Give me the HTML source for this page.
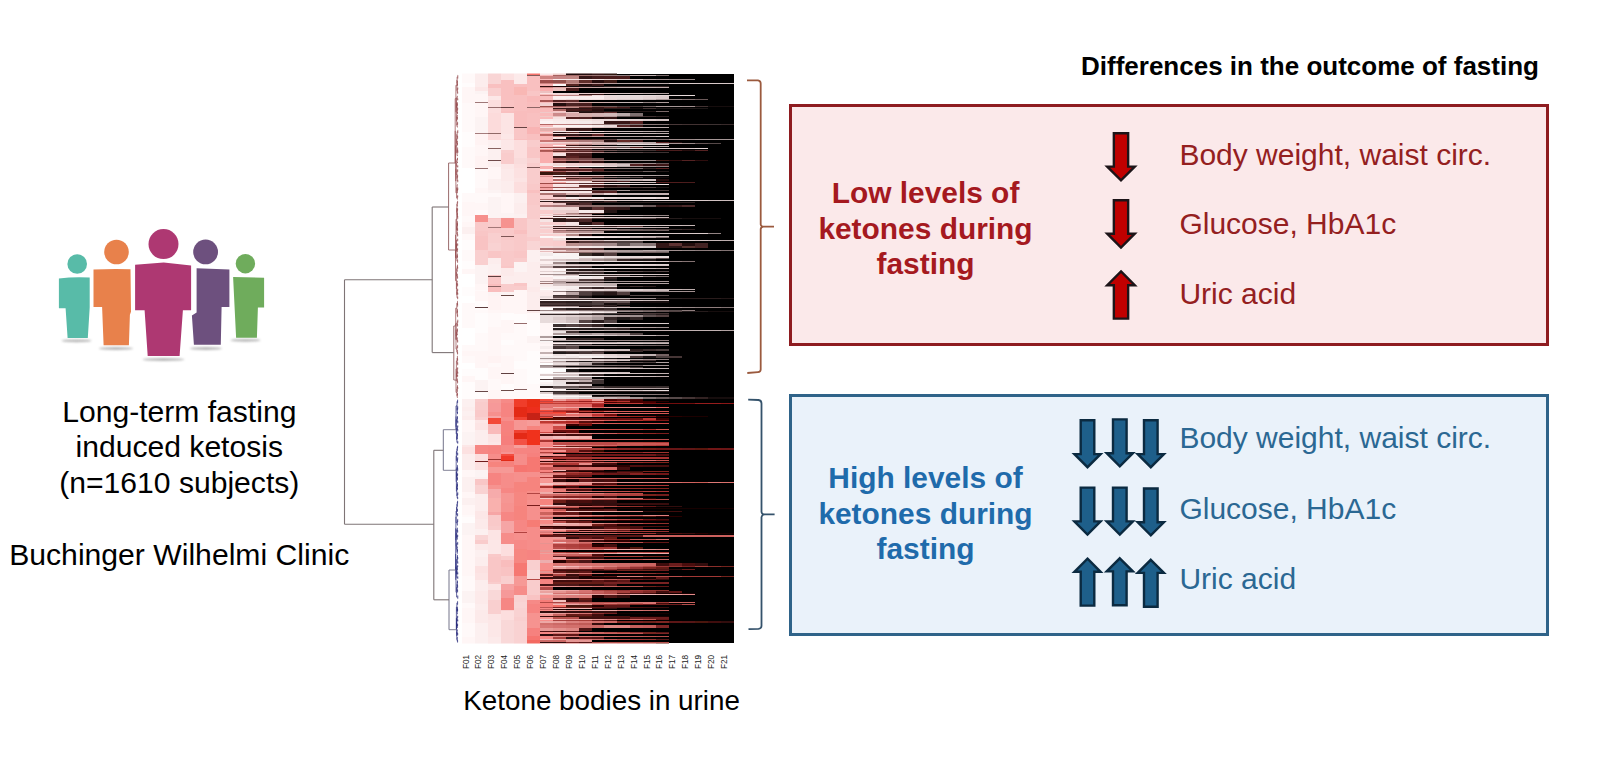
<!DOCTYPE html>
<html><head><meta charset="utf-8"><title>Ketone bodies in urine</title>
<style>
html,body{margin:0;padding:0;background:#fff;}
body{width:1618px;height:767px;overflow:hidden;}
svg{display:block;}
text{font-family:"Liberation Sans",Arial,Helvetica,sans-serif;}
</style></head><body>
<svg width="1618" height="767" viewBox="0 0 1618 767">
<rect x="0" y="0" width="1618" height="767" fill="#fff"/>
<!-- people -->
<g id="people">
<defs><filter id="blur1" x="-20%" y="-200%" width="140%" height="500%"><feGaussianBlur stdDeviation="1.1"/></filter></defs>
<ellipse cx="76.5" cy="340.8" rx="15" ry="1.4" fill="#9a9a9a" filter="url(#blur1)" opacity="0.7"/>
<ellipse cx="116" cy="348.5" rx="17" ry="1.4" fill="#9a9a9a" filter="url(#blur1)" opacity="0.7"/>
<ellipse cx="163.5" cy="359.5" rx="21" ry="1.5" fill="#9a9a9a" filter="url(#blur1)" opacity="0.7"/>
<ellipse cx="206" cy="348.5" rx="16" ry="1.4" fill="#9a9a9a" filter="url(#blur1)" opacity="0.7"/>
<ellipse cx="245.5" cy="340.3" rx="15" ry="1.4" fill="#9a9a9a" filter="url(#blur1)" opacity="0.7"/>
<!-- teal -->
<circle cx="77.2" cy="264" r="9.8" fill="#58bba8"/>
<path d="M58.9 278.6 Q74 276.6 89.7 277.6 L89.7 307.5 L87.8 338.1 L67.6 338.1 L65.6 308.2 L58.9 308.2 Z" fill="#58bba8"/>
<!-- orange -->
<circle cx="116.5" cy="252" r="12.3" fill="#e8814b"/>
<path d="M93.5 269.5 Q112 268.6 130.5 269.2 L131 311.7 L129.9 314.8 L128.9 345.3 L103.6 345.3 L102.1 307 L93.5 307 Z" fill="#e8814b"/>
<!-- magenta -->
<circle cx="163.5" cy="244.1" r="15" fill="#ae3872"/>
<path d="M135.1 264.7 L163.7 262.4 L191.1 265.5 L191.1 310.3 L182.9 310.3 L179.6 355.9 L147.7 355.9 L144.6 310.3 L135.1 310.3 Z" fill="#ae3872"/>
<!-- purple -->
<circle cx="205.6" cy="251.9" r="12.4" fill="#6d507e"/>
<path d="M196.6 268.3 L229.4 269.5 L229.4 307 L221.6 307 L220.8 344.8 L193.9 344.8 L191.9 315.6 L196.6 312.5 Z" fill="#6d507e"/>
<!-- green -->
<circle cx="245.4" cy="263.7" r="9.7" fill="#6fac5c"/>
<path d="M233.1 276.9 L264.1 277.8 L264.1 307.5 L257.9 307.5 L256.9 337.7 L236.1 337.7 Z" fill="#6fac5c"/>
</g>
<!-- left text -->
<g font-size="30.1" fill="#000" text-anchor="middle">
<text x="179.3" y="421.7">Long-term fasting</text>
<text x="179.3" y="457.3">induced ketosis</text>
<text x="179.3" y="492.9">(n=1610 subjects)</text>
</g>
<text x="9.2" y="564.7" font-size="30.15" fill="#000">Buchinger Wilhelmi Clinic</text>
<text x="463.3" y="709.5" font-size="27.8" fill="#000">Ketone bodies in urine</text>
<!-- dendrogram -->
<g id="dendro" fill="none" stroke-width="1.1">
<path d="M457.8 75.2 L458.0 75.2" stroke="#93474a" stroke-width="0.70"/>
<path d="M457.8 78.5 L458.0 78.5" stroke="#93474a" stroke-width="0.70"/>
<path d="M457.8 75.2 L457.8 78.5" stroke="#93474a" stroke-width="0.70"/>
<path d="M457.5 83.9 L458.0 83.9" stroke="#93474a" stroke-width="0.70"/>
<path d="M457.5 85.7 L458.0 85.7" stroke="#93474a" stroke-width="0.70"/>
<path d="M457.5 83.9 L457.5 85.7" stroke="#93474a" stroke-width="0.70"/>
<path d="M457.3 81.5 L458.0 81.5" stroke="#93474a" stroke-width="0.70"/>
<path d="M457.3 84.8 L457.5 84.8" stroke="#93474a" stroke-width="0.70"/>
<path d="M457.3 81.5 L457.3 84.8" stroke="#93474a" stroke-width="0.70"/>
<path d="M457.1 76.9 L457.8 76.9" stroke="#93474a" stroke-width="0.70"/>
<path d="M457.1 83.2 L457.3 83.2" stroke="#93474a" stroke-width="0.70"/>
<path d="M457.1 76.9 L457.1 83.2" stroke="#93474a" stroke-width="0.70"/>
<path d="M457.8 87.5 L458.0 87.5" stroke="#93474a" stroke-width="0.70"/>
<path d="M457.8 89.6 L458.0 89.6" stroke="#93474a" stroke-width="0.70"/>
<path d="M457.8 87.5 L457.8 89.6" stroke="#93474a" stroke-width="0.70"/>
<path d="M457.7 91.6 L458.0 91.6" stroke="#93474a" stroke-width="0.70"/>
<path d="M457.7 93.7 L458.0 93.7" stroke="#93474a" stroke-width="0.70"/>
<path d="M457.7 91.6 L457.7 93.7" stroke="#93474a" stroke-width="0.70"/>
<path d="M457.3 88.6 L457.8 88.6" stroke="#93474a" stroke-width="0.70"/>
<path d="M457.3 92.6 L457.7 92.6" stroke="#93474a" stroke-width="0.70"/>
<path d="M457.3 88.6 L457.3 92.6" stroke="#93474a" stroke-width="0.70"/>
<path d="M456.9 80.0 L457.1 80.0" stroke="#93474a" stroke-width="0.70"/>
<path d="M456.9 90.6 L457.3 90.6" stroke="#93474a" stroke-width="0.70"/>
<path d="M456.9 80.0 L456.9 90.6" stroke="#93474a" stroke-width="0.70"/>
<path d="M457.8 98.5 L458.0 98.5" stroke="#93474a" stroke-width="0.70"/>
<path d="M457.8 100.3 L458.0 100.3" stroke="#93474a" stroke-width="0.70"/>
<path d="M457.8 98.5 L457.8 100.3" stroke="#93474a" stroke-width="0.70"/>
<path d="M457.2 96.3 L458.0 96.3" stroke="#93474a" stroke-width="0.70"/>
<path d="M457.2 99.4 L457.8 99.4" stroke="#93474a" stroke-width="0.70"/>
<path d="M457.2 96.3 L457.2 99.4" stroke="#93474a" stroke-width="0.70"/>
<path d="M457.5 102.6 L458.0 102.6" stroke="#93474a" stroke-width="0.70"/>
<path d="M457.5 105.5 L458.0 105.5" stroke="#93474a" stroke-width="0.70"/>
<path d="M457.5 102.6 L457.5 105.5" stroke="#93474a" stroke-width="0.70"/>
<path d="M457.7 107.8 L458.0 107.8" stroke="#93474a" stroke-width="0.70"/>
<path d="M457.7 109.7 L458.0 109.7" stroke="#93474a" stroke-width="0.70"/>
<path d="M457.7 107.8 L457.7 109.7" stroke="#93474a" stroke-width="0.70"/>
<path d="M457.5 112.1 L458.0 112.1" stroke="#93474a" stroke-width="0.70"/>
<path d="M457.5 113.9 L458.0 113.9" stroke="#93474a" stroke-width="0.70"/>
<path d="M457.5 112.1 L457.5 113.9" stroke="#93474a" stroke-width="0.70"/>
<path d="M457.2 108.7 L457.7 108.7" stroke="#93474a" stroke-width="0.70"/>
<path d="M457.2 113.0 L457.5 113.0" stroke="#93474a" stroke-width="0.70"/>
<path d="M457.2 108.7 L457.2 113.0" stroke="#93474a" stroke-width="0.70"/>
<path d="M457.1 104.1 L457.5 104.1" stroke="#93474a" stroke-width="0.70"/>
<path d="M457.1 110.9 L457.2 110.9" stroke="#93474a" stroke-width="0.70"/>
<path d="M457.1 104.1 L457.1 110.9" stroke="#93474a" stroke-width="0.70"/>
<path d="M456.5 97.8 L457.2 97.8" stroke="#93474a" stroke-width="0.70"/>
<path d="M456.5 107.5 L457.1 107.5" stroke="#93474a" stroke-width="0.70"/>
<path d="M456.5 97.8 L456.5 107.5" stroke="#93474a" stroke-width="0.70"/>
<path d="M457.5 117.4 L458.0 117.4" stroke="#93474a" stroke-width="0.70"/>
<path d="M457.5 119.4 L458.0 119.4" stroke="#93474a" stroke-width="0.70"/>
<path d="M457.5 117.4 L457.5 119.4" stroke="#93474a" stroke-width="0.70"/>
<path d="M457.2 115.5 L458.0 115.5" stroke="#93474a" stroke-width="0.70"/>
<path d="M457.2 118.4 L457.5 118.4" stroke="#93474a" stroke-width="0.70"/>
<path d="M457.2 115.5 L457.2 118.4" stroke="#93474a" stroke-width="0.70"/>
<path d="M457.6 122.1 L458.0 122.1" stroke="#93474a" stroke-width="0.70"/>
<path d="M457.6 124.6 L458.0 124.6" stroke="#93474a" stroke-width="0.70"/>
<path d="M457.6 122.1 L457.6 124.6" stroke="#93474a" stroke-width="0.70"/>
<path d="M457.1 123.4 L457.6 123.4" stroke="#93474a" stroke-width="0.70"/>
<path d="M457.1 127.0 L458.0 127.0" stroke="#93474a" stroke-width="0.70"/>
<path d="M457.1 123.4 L457.1 127.0" stroke="#93474a" stroke-width="0.70"/>
<path d="M456.7 116.9 L457.2 116.9" stroke="#93474a" stroke-width="0.70"/>
<path d="M456.7 125.2 L457.1 125.2" stroke="#93474a" stroke-width="0.70"/>
<path d="M456.7 116.9 L456.7 125.2" stroke="#93474a" stroke-width="0.70"/>
<path d="M456.4 102.7 L456.5 102.7" stroke="#93474a" stroke-width="0.70"/>
<path d="M456.4 121.1 L456.7 121.1" stroke="#93474a" stroke-width="0.70"/>
<path d="M456.4 102.7 L456.4 121.1" stroke="#93474a" stroke-width="0.70"/>
<path d="M455.9 85.3 L456.9 85.3" stroke="#93474a" stroke-width="0.70"/>
<path d="M455.9 111.9 L456.4 111.9" stroke="#93474a" stroke-width="0.70"/>
<path d="M455.9 85.3 L455.9 111.9" stroke="#93474a" stroke-width="0.70"/>
<path d="M457.8 130.2 L458.0 130.2" stroke="#93474a" stroke-width="0.70"/>
<path d="M457.8 133.1 L458.0 133.1" stroke="#93474a" stroke-width="0.70"/>
<path d="M457.8 130.2 L457.8 133.1" stroke="#93474a" stroke-width="0.70"/>
<path d="M457.6 135.9 L458.0 135.9" stroke="#93474a" stroke-width="0.70"/>
<path d="M457.6 138.9 L458.0 138.9" stroke="#93474a" stroke-width="0.70"/>
<path d="M457.6 135.9 L457.6 138.9" stroke="#93474a" stroke-width="0.70"/>
<path d="M457.1 131.7 L457.8 131.7" stroke="#93474a" stroke-width="0.70"/>
<path d="M457.1 137.4 L457.6 137.4" stroke="#93474a" stroke-width="0.70"/>
<path d="M457.1 131.7 L457.1 137.4" stroke="#93474a" stroke-width="0.70"/>
<path d="M457.5 143.1 L458.0 143.1" stroke="#93474a" stroke-width="0.70"/>
<path d="M457.5 145.2 L458.0 145.2" stroke="#93474a" stroke-width="0.70"/>
<path d="M457.5 143.1 L457.5 145.2" stroke="#93474a" stroke-width="0.70"/>
<path d="M457.2 141.4 L458.0 141.4" stroke="#93474a" stroke-width="0.70"/>
<path d="M457.2 144.2 L457.5 144.2" stroke="#93474a" stroke-width="0.70"/>
<path d="M457.2 141.4 L457.2 144.2" stroke="#93474a" stroke-width="0.70"/>
<path d="M456.7 134.5 L457.1 134.5" stroke="#93474a" stroke-width="0.70"/>
<path d="M456.7 142.8 L457.2 142.8" stroke="#93474a" stroke-width="0.70"/>
<path d="M456.7 134.5 L456.7 142.8" stroke="#93474a" stroke-width="0.70"/>
<path d="M457.8 150.5 L458.0 150.5" stroke="#93474a" stroke-width="0.70"/>
<path d="M457.8 153.0 L458.0 153.0" stroke="#93474a" stroke-width="0.70"/>
<path d="M457.8 150.5 L457.8 153.0" stroke="#93474a" stroke-width="0.70"/>
<path d="M457.6 147.7 L458.0 147.7" stroke="#93474a" stroke-width="0.70"/>
<path d="M457.6 151.8 L457.8 151.8" stroke="#93474a" stroke-width="0.70"/>
<path d="M457.6 147.7 L457.6 151.8" stroke="#93474a" stroke-width="0.70"/>
<path d="M457.1 149.7 L457.6 149.7" stroke="#93474a" stroke-width="0.70"/>
<path d="M457.1 155.6 L458.0 155.6" stroke="#93474a" stroke-width="0.70"/>
<path d="M457.1 149.7 L457.1 155.6" stroke="#93474a" stroke-width="0.70"/>
<path d="M456.6 138.6 L456.7 138.6" stroke="#93474a" stroke-width="0.70"/>
<path d="M456.6 152.7 L457.1 152.7" stroke="#93474a" stroke-width="0.70"/>
<path d="M456.6 138.6 L456.6 152.7" stroke="#93474a" stroke-width="0.70"/>
<path d="M457.5 158.0 L458.0 158.0" stroke="#93474a" stroke-width="0.70"/>
<path d="M457.5 159.9 L458.0 159.9" stroke="#93474a" stroke-width="0.70"/>
<path d="M457.5 158.0 L457.5 159.9" stroke="#93474a" stroke-width="0.70"/>
<path d="M457.0 158.9 L457.5 158.9" stroke="#93474a" stroke-width="0.70"/>
<path d="M457.0 162.5 L458.0 162.5" stroke="#93474a" stroke-width="0.70"/>
<path d="M457.0 158.9 L457.0 162.5" stroke="#93474a" stroke-width="0.70"/>
<path d="M457.8 165.4 L458.0 165.4" stroke="#93474a" stroke-width="0.70"/>
<path d="M457.8 167.4 L458.0 167.4" stroke="#93474a" stroke-width="0.70"/>
<path d="M457.8 165.4 L457.8 167.4" stroke="#93474a" stroke-width="0.70"/>
<path d="M456.7 160.7 L457.0 160.7" stroke="#93474a" stroke-width="0.70"/>
<path d="M456.7 166.4 L457.8 166.4" stroke="#93474a" stroke-width="0.70"/>
<path d="M456.7 160.7 L456.7 166.4" stroke="#93474a" stroke-width="0.70"/>
<path d="M457.7 169.4 L458.0 169.4" stroke="#93474a" stroke-width="0.70"/>
<path d="M457.7 171.9 L458.0 171.9" stroke="#93474a" stroke-width="0.70"/>
<path d="M457.7 169.4 L457.7 171.9" stroke="#93474a" stroke-width="0.70"/>
<path d="M457.6 174.8 L458.0 174.8" stroke="#93474a" stroke-width="0.70"/>
<path d="M457.6 177.4 L458.0 177.4" stroke="#93474a" stroke-width="0.70"/>
<path d="M457.6 174.8 L457.6 177.4" stroke="#93474a" stroke-width="0.70"/>
<path d="M457.8 179.8 L458.0 179.8" stroke="#93474a" stroke-width="0.70"/>
<path d="M457.8 182.2 L458.0 182.2" stroke="#93474a" stroke-width="0.70"/>
<path d="M457.8 179.8 L457.8 182.2" stroke="#93474a" stroke-width="0.70"/>
<path d="M457.2 176.1 L457.6 176.1" stroke="#93474a" stroke-width="0.70"/>
<path d="M457.2 181.0 L457.8 181.0" stroke="#93474a" stroke-width="0.70"/>
<path d="M457.2 176.1 L457.2 181.0" stroke="#93474a" stroke-width="0.70"/>
<path d="M456.9 170.6 L457.7 170.6" stroke="#93474a" stroke-width="0.70"/>
<path d="M456.9 178.5 L457.2 178.5" stroke="#93474a" stroke-width="0.70"/>
<path d="M456.9 170.6 L456.9 178.5" stroke="#93474a" stroke-width="0.70"/>
<path d="M456.2 163.6 L456.7 163.6" stroke="#93474a" stroke-width="0.70"/>
<path d="M456.2 174.6 L456.9 174.6" stroke="#93474a" stroke-width="0.70"/>
<path d="M456.2 163.6 L456.2 174.6" stroke="#93474a" stroke-width="0.70"/>
<path d="M457.8 187.6 L458.0 187.6" stroke="#93474a" stroke-width="0.70"/>
<path d="M457.8 190.1 L458.0 190.1" stroke="#93474a" stroke-width="0.70"/>
<path d="M457.8 187.6 L457.8 190.1" stroke="#93474a" stroke-width="0.70"/>
<path d="M457.4 188.8 L457.8 188.8" stroke="#93474a" stroke-width="0.70"/>
<path d="M457.4 192.8 L458.0 192.8" stroke="#93474a" stroke-width="0.70"/>
<path d="M457.4 188.8 L457.4 192.8" stroke="#93474a" stroke-width="0.70"/>
<path d="M457.1 184.8 L458.0 184.8" stroke="#93474a" stroke-width="0.70"/>
<path d="M457.1 190.8 L457.4 190.8" stroke="#93474a" stroke-width="0.70"/>
<path d="M457.1 184.8 L457.1 190.8" stroke="#93474a" stroke-width="0.70"/>
<path d="M457.7 195.4 L458.0 195.4" stroke="#93474a" stroke-width="0.70"/>
<path d="M457.7 197.4 L458.0 197.4" stroke="#93474a" stroke-width="0.70"/>
<path d="M457.7 195.4 L457.7 197.4" stroke="#93474a" stroke-width="0.70"/>
<path d="M457.2 196.4 L457.7 196.4" stroke="#93474a" stroke-width="0.70"/>
<path d="M457.2 199.1 L458.0 199.1" stroke="#93474a" stroke-width="0.70"/>
<path d="M457.2 196.4 L457.2 199.1" stroke="#93474a" stroke-width="0.70"/>
<path d="M456.6 187.8 L457.1 187.8" stroke="#93474a" stroke-width="0.70"/>
<path d="M456.6 197.8 L457.2 197.8" stroke="#93474a" stroke-width="0.70"/>
<path d="M456.6 187.8 L456.6 197.8" stroke="#93474a" stroke-width="0.70"/>
<path d="M455.9 169.1 L456.2 169.1" stroke="#93474a" stroke-width="0.70"/>
<path d="M455.9 192.8 L456.6 192.8" stroke="#93474a" stroke-width="0.70"/>
<path d="M455.9 169.1 L455.9 192.8" stroke="#93474a" stroke-width="0.70"/>
<path d="M455.6 145.7 L456.6 145.7" stroke="#93474a" stroke-width="0.70"/>
<path d="M455.6 180.9 L455.9 180.9" stroke="#93474a" stroke-width="0.70"/>
<path d="M455.6 145.7 L455.6 180.9" stroke="#93474a" stroke-width="0.70"/>
<path d="M455.2 98.6 L455.9 98.6" stroke="#93474a" stroke-width="0.70"/>
<path d="M455.2 163.3 L455.6 163.3" stroke="#93474a" stroke-width="0.70"/>
<path d="M455.2 98.6 L455.2 163.3" stroke="#93474a" stroke-width="0.70"/>
<path d="M457.6 201.2 L458.0 201.2" stroke="#93474a" stroke-width="0.70"/>
<path d="M457.6 203.4 L458.0 203.4" stroke="#93474a" stroke-width="0.70"/>
<path d="M457.6 201.2 L457.6 203.4" stroke="#93474a" stroke-width="0.70"/>
<path d="M457.2 202.3 L457.6 202.3" stroke="#93474a" stroke-width="0.70"/>
<path d="M457.2 206.0 L458.0 206.0" stroke="#93474a" stroke-width="0.70"/>
<path d="M457.2 202.3 L457.2 206.0" stroke="#93474a" stroke-width="0.70"/>
<path d="M457.6 208.3 L458.0 208.3" stroke="#93474a" stroke-width="0.70"/>
<path d="M457.6 210.4 L458.0 210.4" stroke="#93474a" stroke-width="0.70"/>
<path d="M457.6 208.3 L457.6 210.4" stroke="#93474a" stroke-width="0.70"/>
<path d="M457.7 216.0 L458.0 216.0" stroke="#93474a" stroke-width="0.70"/>
<path d="M457.7 218.9 L458.0 218.9" stroke="#93474a" stroke-width="0.70"/>
<path d="M457.7 216.0 L457.7 218.9" stroke="#93474a" stroke-width="0.70"/>
<path d="M457.5 213.2 L458.0 213.2" stroke="#93474a" stroke-width="0.70"/>
<path d="M457.5 217.5 L457.7 217.5" stroke="#93474a" stroke-width="0.70"/>
<path d="M457.5 213.2 L457.5 217.5" stroke="#93474a" stroke-width="0.70"/>
<path d="M457.2 209.3 L457.6 209.3" stroke="#93474a" stroke-width="0.70"/>
<path d="M457.2 215.3 L457.5 215.3" stroke="#93474a" stroke-width="0.70"/>
<path d="M457.2 209.3 L457.2 215.3" stroke="#93474a" stroke-width="0.70"/>
<path d="M456.9 204.1 L457.2 204.1" stroke="#93474a" stroke-width="0.70"/>
<path d="M456.9 212.3 L457.2 212.3" stroke="#93474a" stroke-width="0.70"/>
<path d="M456.9 204.1 L456.9 212.3" stroke="#93474a" stroke-width="0.70"/>
<path d="M457.5 223.8 L458.0 223.8" stroke="#93474a" stroke-width="0.70"/>
<path d="M457.5 225.9 L458.0 225.9" stroke="#93474a" stroke-width="0.70"/>
<path d="M457.5 223.8 L457.5 225.9" stroke="#93474a" stroke-width="0.70"/>
<path d="M457.4 221.6 L458.0 221.6" stroke="#93474a" stroke-width="0.70"/>
<path d="M457.4 224.8 L457.5 224.8" stroke="#93474a" stroke-width="0.70"/>
<path d="M457.4 221.6 L457.4 224.8" stroke="#93474a" stroke-width="0.70"/>
<path d="M457.6 228.5 L458.0 228.5" stroke="#93474a" stroke-width="0.70"/>
<path d="M457.6 230.8 L458.0 230.8" stroke="#93474a" stroke-width="0.70"/>
<path d="M457.6 228.5 L457.6 230.8" stroke="#93474a" stroke-width="0.70"/>
<path d="M457.1 223.2 L457.4 223.2" stroke="#93474a" stroke-width="0.70"/>
<path d="M457.1 229.6 L457.6 229.6" stroke="#93474a" stroke-width="0.70"/>
<path d="M457.1 223.2 L457.1 229.6" stroke="#93474a" stroke-width="0.70"/>
<path d="M457.7 234.3 L458.0 234.3" stroke="#93474a" stroke-width="0.70"/>
<path d="M457.7 236.3 L458.0 236.3" stroke="#93474a" stroke-width="0.70"/>
<path d="M457.7 234.3 L457.7 236.3" stroke="#93474a" stroke-width="0.70"/>
<path d="M457.3 232.6 L458.0 232.6" stroke="#93474a" stroke-width="0.70"/>
<path d="M457.3 235.3 L457.7 235.3" stroke="#93474a" stroke-width="0.70"/>
<path d="M457.3 232.6 L457.3 235.3" stroke="#93474a" stroke-width="0.70"/>
<path d="M456.9 226.4 L457.1 226.4" stroke="#93474a" stroke-width="0.70"/>
<path d="M456.9 234.0 L457.3 234.0" stroke="#93474a" stroke-width="0.70"/>
<path d="M456.9 226.4 L456.9 234.0" stroke="#93474a" stroke-width="0.70"/>
<path d="M456.7 208.2 L456.9 208.2" stroke="#93474a" stroke-width="0.70"/>
<path d="M456.7 230.2 L456.9 230.2" stroke="#93474a" stroke-width="0.70"/>
<path d="M456.7 208.2 L456.7 230.2" stroke="#93474a" stroke-width="0.70"/>
<path d="M457.7 238.8 L458.0 238.8" stroke="#93474a" stroke-width="0.70"/>
<path d="M457.7 241.2 L458.0 241.2" stroke="#93474a" stroke-width="0.70"/>
<path d="M457.7 238.8 L457.7 241.2" stroke="#93474a" stroke-width="0.70"/>
<path d="M457.7 243.5 L458.0 243.5" stroke="#93474a" stroke-width="0.70"/>
<path d="M457.7 245.8 L458.0 245.8" stroke="#93474a" stroke-width="0.70"/>
<path d="M457.7 243.5 L457.7 245.8" stroke="#93474a" stroke-width="0.70"/>
<path d="M457.6 248.3 L458.0 248.3" stroke="#93474a" stroke-width="0.70"/>
<path d="M457.6 250.2 L458.0 250.2" stroke="#93474a" stroke-width="0.70"/>
<path d="M457.6 248.3 L457.6 250.2" stroke="#93474a" stroke-width="0.70"/>
<path d="M457.2 249.2 L457.6 249.2" stroke="#93474a" stroke-width="0.70"/>
<path d="M457.2 251.9 L458.0 251.9" stroke="#93474a" stroke-width="0.70"/>
<path d="M457.2 249.2 L457.2 251.9" stroke="#93474a" stroke-width="0.70"/>
<path d="M456.7 244.6 L457.7 244.6" stroke="#93474a" stroke-width="0.70"/>
<path d="M456.7 250.6 L457.2 250.6" stroke="#93474a" stroke-width="0.70"/>
<path d="M456.7 244.6 L456.7 250.6" stroke="#93474a" stroke-width="0.70"/>
<path d="M456.5 240.0 L457.7 240.0" stroke="#93474a" stroke-width="0.70"/>
<path d="M456.5 247.6 L456.7 247.6" stroke="#93474a" stroke-width="0.70"/>
<path d="M456.5 240.0 L456.5 247.6" stroke="#93474a" stroke-width="0.70"/>
<path d="M457.5 255.9 L458.0 255.9" stroke="#93474a" stroke-width="0.70"/>
<path d="M457.5 257.7 L458.0 257.7" stroke="#93474a" stroke-width="0.70"/>
<path d="M457.5 255.9 L457.5 257.7" stroke="#93474a" stroke-width="0.70"/>
<path d="M457.3 253.9 L458.0 253.9" stroke="#93474a" stroke-width="0.70"/>
<path d="M457.3 256.8 L457.5 256.8" stroke="#93474a" stroke-width="0.70"/>
<path d="M457.3 253.9 L457.3 256.8" stroke="#93474a" stroke-width="0.70"/>
<path d="M457.6 259.7 L458.0 259.7" stroke="#93474a" stroke-width="0.70"/>
<path d="M457.6 262.5 L458.0 262.5" stroke="#93474a" stroke-width="0.70"/>
<path d="M457.6 259.7 L457.6 262.5" stroke="#93474a" stroke-width="0.70"/>
<path d="M456.9 255.4 L457.3 255.4" stroke="#93474a" stroke-width="0.70"/>
<path d="M456.9 261.1 L457.6 261.1" stroke="#93474a" stroke-width="0.70"/>
<path d="M456.9 255.4 L456.9 261.1" stroke="#93474a" stroke-width="0.70"/>
<path d="M456.3 243.8 L456.5 243.8" stroke="#93474a" stroke-width="0.70"/>
<path d="M456.3 258.2 L456.9 258.2" stroke="#93474a" stroke-width="0.70"/>
<path d="M456.3 243.8 L456.3 258.2" stroke="#93474a" stroke-width="0.70"/>
<path d="M456.0 219.2 L456.7 219.2" stroke="#93474a" stroke-width="0.70"/>
<path d="M456.0 251.0 L456.3 251.0" stroke="#93474a" stroke-width="0.70"/>
<path d="M456.0 219.2 L456.0 251.0" stroke="#93474a" stroke-width="0.70"/>
<path d="M457.7 266.8 L458.0 266.8" stroke="#93474a" stroke-width="0.70"/>
<path d="M457.7 268.7 L458.0 268.7" stroke="#93474a" stroke-width="0.70"/>
<path d="M457.7 266.8 L457.7 268.7" stroke="#93474a" stroke-width="0.70"/>
<path d="M457.4 265.0 L458.0 265.0" stroke="#93474a" stroke-width="0.70"/>
<path d="M457.4 267.8 L457.7 267.8" stroke="#93474a" stroke-width="0.70"/>
<path d="M457.4 265.0 L457.4 267.8" stroke="#93474a" stroke-width="0.70"/>
<path d="M457.1 266.4 L457.4 266.4" stroke="#93474a" stroke-width="0.70"/>
<path d="M457.1 271.1 L458.0 271.1" stroke="#93474a" stroke-width="0.70"/>
<path d="M457.1 266.4 L457.1 271.1" stroke="#93474a" stroke-width="0.70"/>
<path d="M457.6 276.6 L458.0 276.6" stroke="#93474a" stroke-width="0.70"/>
<path d="M457.6 278.5 L458.0 278.5" stroke="#93474a" stroke-width="0.70"/>
<path d="M457.6 276.6 L457.6 278.5" stroke="#93474a" stroke-width="0.70"/>
<path d="M457.3 274.2 L458.0 274.2" stroke="#93474a" stroke-width="0.70"/>
<path d="M457.3 277.5 L457.6 277.5" stroke="#93474a" stroke-width="0.70"/>
<path d="M457.3 274.2 L457.3 277.5" stroke="#93474a" stroke-width="0.70"/>
<path d="M456.6 268.7 L457.1 268.7" stroke="#93474a" stroke-width="0.70"/>
<path d="M456.6 275.9 L457.3 275.9" stroke="#93474a" stroke-width="0.70"/>
<path d="M456.6 268.7 L456.6 275.9" stroke="#93474a" stroke-width="0.70"/>
<path d="M457.6 283.7 L458.0 283.7" stroke="#93474a" stroke-width="0.70"/>
<path d="M457.6 286.2 L458.0 286.2" stroke="#93474a" stroke-width="0.70"/>
<path d="M457.6 283.7 L457.6 286.2" stroke="#93474a" stroke-width="0.70"/>
<path d="M457.1 281.2 L458.0 281.2" stroke="#93474a" stroke-width="0.70"/>
<path d="M457.1 285.0 L457.6 285.0" stroke="#93474a" stroke-width="0.70"/>
<path d="M457.1 281.2 L457.1 285.0" stroke="#93474a" stroke-width="0.70"/>
<path d="M457.7 288.9 L458.0 288.9" stroke="#93474a" stroke-width="0.70"/>
<path d="M457.7 290.9 L458.0 290.9" stroke="#93474a" stroke-width="0.70"/>
<path d="M457.7 288.9 L457.7 290.9" stroke="#93474a" stroke-width="0.70"/>
<path d="M457.8 292.8 L458.0 292.8" stroke="#93474a" stroke-width="0.70"/>
<path d="M457.8 294.7 L458.0 294.7" stroke="#93474a" stroke-width="0.70"/>
<path d="M457.8 292.8 L457.8 294.7" stroke="#93474a" stroke-width="0.70"/>
<path d="M457.2 289.9 L457.7 289.9" stroke="#93474a" stroke-width="0.70"/>
<path d="M457.2 293.8 L457.8 293.8" stroke="#93474a" stroke-width="0.70"/>
<path d="M457.2 289.9 L457.2 293.8" stroke="#93474a" stroke-width="0.70"/>
<path d="M457.7 296.7 L458.0 296.7" stroke="#93474a" stroke-width="0.70"/>
<path d="M457.7 298.9 L458.0 298.9" stroke="#93474a" stroke-width="0.70"/>
<path d="M457.7 296.7 L457.7 298.9" stroke="#93474a" stroke-width="0.70"/>
<path d="M457.0 291.8 L457.2 291.8" stroke="#93474a" stroke-width="0.70"/>
<path d="M457.0 297.8 L457.7 297.8" stroke="#93474a" stroke-width="0.70"/>
<path d="M457.0 291.8 L457.0 297.8" stroke="#93474a" stroke-width="0.70"/>
<path d="M456.7 283.1 L457.1 283.1" stroke="#93474a" stroke-width="0.70"/>
<path d="M456.7 294.8 L457.0 294.8" stroke="#93474a" stroke-width="0.70"/>
<path d="M456.7 283.1 L456.7 294.8" stroke="#93474a" stroke-width="0.70"/>
<path d="M456.4 272.3 L456.6 272.3" stroke="#93474a" stroke-width="0.70"/>
<path d="M456.4 289.0 L456.7 289.0" stroke="#93474a" stroke-width="0.70"/>
<path d="M456.4 272.3 L456.4 289.0" stroke="#93474a" stroke-width="0.70"/>
<path d="M455.5 235.1 L456.0 235.1" stroke="#93474a" stroke-width="0.70"/>
<path d="M455.5 280.6 L456.4 280.6" stroke="#93474a" stroke-width="0.70"/>
<path d="M455.5 235.1 L455.5 280.6" stroke="#93474a" stroke-width="0.70"/>
<path d="M455.2 130.9 L455.2 163.0" stroke="#93474a" stroke-width="0.70"/>
<path d="M455.5 257.9 L455.5 250.0" stroke="#93474a" stroke-width="0.70"/>
<path d="M448.6 163.0 L455.2 163.0" stroke="#9a6a6c" stroke-width="0.90"/>
<path d="M448.6 250.0 L455.5 250.0" stroke="#9a6a6c" stroke-width="0.90"/>
<path d="M448.6 163.0 L448.6 250.0" stroke="#9a6a6c" stroke-width="1.00"/>
<path d="M457.6 303.7 L458.0 303.7" stroke="#93474a" stroke-width="0.70"/>
<path d="M457.6 306.4 L458.0 306.4" stroke="#93474a" stroke-width="0.70"/>
<path d="M457.6 303.7 L457.6 306.4" stroke="#93474a" stroke-width="0.70"/>
<path d="M457.5 301.3 L458.0 301.3" stroke="#93474a" stroke-width="0.70"/>
<path d="M457.5 305.0 L457.6 305.0" stroke="#93474a" stroke-width="0.70"/>
<path d="M457.5 301.3 L457.5 305.0" stroke="#93474a" stroke-width="0.70"/>
<path d="M457.5 309.5 L458.0 309.5" stroke="#93474a" stroke-width="0.70"/>
<path d="M457.5 312.3 L458.0 312.3" stroke="#93474a" stroke-width="0.70"/>
<path d="M457.5 309.5 L457.5 312.3" stroke="#93474a" stroke-width="0.70"/>
<path d="M457.6 314.6 L458.0 314.6" stroke="#93474a" stroke-width="0.70"/>
<path d="M457.6 316.9 L458.0 316.9" stroke="#93474a" stroke-width="0.70"/>
<path d="M457.6 314.6 L457.6 316.9" stroke="#93474a" stroke-width="0.70"/>
<path d="M457.3 310.9 L457.5 310.9" stroke="#93474a" stroke-width="0.70"/>
<path d="M457.3 315.7 L457.6 315.7" stroke="#93474a" stroke-width="0.70"/>
<path d="M457.3 310.9 L457.3 315.7" stroke="#93474a" stroke-width="0.70"/>
<path d="M456.8 303.2 L457.5 303.2" stroke="#93474a" stroke-width="0.70"/>
<path d="M456.8 313.3 L457.3 313.3" stroke="#93474a" stroke-width="0.70"/>
<path d="M456.8 303.2 L456.8 313.3" stroke="#93474a" stroke-width="0.70"/>
<path d="M457.8 319.8 L458.0 319.8" stroke="#93474a" stroke-width="0.70"/>
<path d="M457.8 322.5 L458.0 322.5" stroke="#93474a" stroke-width="0.70"/>
<path d="M457.8 319.8 L457.8 322.5" stroke="#93474a" stroke-width="0.70"/>
<path d="M457.6 324.2 L458.0 324.2" stroke="#93474a" stroke-width="0.70"/>
<path d="M457.6 326.3 L458.0 326.3" stroke="#93474a" stroke-width="0.70"/>
<path d="M457.6 324.2 L457.6 326.3" stroke="#93474a" stroke-width="0.70"/>
<path d="M457.3 321.2 L457.8 321.2" stroke="#93474a" stroke-width="0.70"/>
<path d="M457.3 325.3 L457.6 325.3" stroke="#93474a" stroke-width="0.70"/>
<path d="M457.3 321.2 L457.3 325.3" stroke="#93474a" stroke-width="0.70"/>
<path d="M457.5 328.8 L458.0 328.8" stroke="#93474a" stroke-width="0.70"/>
<path d="M457.5 331.4 L458.0 331.4" stroke="#93474a" stroke-width="0.70"/>
<path d="M457.5 328.8 L457.5 331.4" stroke="#93474a" stroke-width="0.70"/>
<path d="M457.1 330.1 L457.5 330.1" stroke="#93474a" stroke-width="0.70"/>
<path d="M457.1 334.7 L458.0 334.7" stroke="#93474a" stroke-width="0.70"/>
<path d="M457.1 330.1 L457.1 334.7" stroke="#93474a" stroke-width="0.70"/>
<path d="M457.7 340.2 L458.0 340.2" stroke="#93474a" stroke-width="0.70"/>
<path d="M457.7 342.4 L458.0 342.4" stroke="#93474a" stroke-width="0.70"/>
<path d="M457.7 340.2 L457.7 342.4" stroke="#93474a" stroke-width="0.70"/>
<path d="M457.2 337.9 L458.0 337.9" stroke="#93474a" stroke-width="0.70"/>
<path d="M457.2 341.3 L457.7 341.3" stroke="#93474a" stroke-width="0.70"/>
<path d="M457.2 337.9 L457.2 341.3" stroke="#93474a" stroke-width="0.70"/>
<path d="M456.6 332.4 L457.1 332.4" stroke="#93474a" stroke-width="0.70"/>
<path d="M456.6 339.6 L457.2 339.6" stroke="#93474a" stroke-width="0.70"/>
<path d="M456.6 332.4 L456.6 339.6" stroke="#93474a" stroke-width="0.70"/>
<path d="M456.2 323.2 L457.3 323.2" stroke="#93474a" stroke-width="0.70"/>
<path d="M456.2 336.0 L456.6 336.0" stroke="#93474a" stroke-width="0.70"/>
<path d="M456.2 323.2 L456.2 336.0" stroke="#93474a" stroke-width="0.70"/>
<path d="M457.6 345.2 L458.0 345.2" stroke="#93474a" stroke-width="0.70"/>
<path d="M457.6 348.1 L458.0 348.1" stroke="#93474a" stroke-width="0.70"/>
<path d="M457.6 345.2 L457.6 348.1" stroke="#93474a" stroke-width="0.70"/>
<path d="M457.6 352.3 L458.0 352.3" stroke="#93474a" stroke-width="0.70"/>
<path d="M457.6 354.2 L458.0 354.2" stroke="#93474a" stroke-width="0.70"/>
<path d="M457.6 352.3 L457.6 354.2" stroke="#93474a" stroke-width="0.70"/>
<path d="M457.3 350.4 L458.0 350.4" stroke="#93474a" stroke-width="0.70"/>
<path d="M457.3 353.3 L457.6 353.3" stroke="#93474a" stroke-width="0.70"/>
<path d="M457.3 350.4 L457.3 353.3" stroke="#93474a" stroke-width="0.70"/>
<path d="M456.8 346.6 L457.6 346.6" stroke="#93474a" stroke-width="0.70"/>
<path d="M456.8 351.8 L457.3 351.8" stroke="#93474a" stroke-width="0.70"/>
<path d="M456.8 346.6 L456.8 351.8" stroke="#93474a" stroke-width="0.70"/>
<path d="M456.0 329.6 L456.2 329.6" stroke="#93474a" stroke-width="0.70"/>
<path d="M456.0 349.2 L456.8 349.2" stroke="#93474a" stroke-width="0.70"/>
<path d="M456.0 329.6 L456.0 349.2" stroke="#93474a" stroke-width="0.70"/>
<path d="M455.7 308.2 L456.8 308.2" stroke="#93474a" stroke-width="0.70"/>
<path d="M455.7 339.4 L456.0 339.4" stroke="#93474a" stroke-width="0.70"/>
<path d="M455.7 308.2 L455.7 339.4" stroke="#93474a" stroke-width="0.70"/>
<path d="M457.6 358.8 L458.0 358.8" stroke="#93474a" stroke-width="0.70"/>
<path d="M457.6 360.7 L458.0 360.7" stroke="#93474a" stroke-width="0.70"/>
<path d="M457.6 358.8 L457.6 360.7" stroke="#93474a" stroke-width="0.70"/>
<path d="M457.4 356.3 L458.0 356.3" stroke="#93474a" stroke-width="0.70"/>
<path d="M457.4 359.8 L457.6 359.8" stroke="#93474a" stroke-width="0.70"/>
<path d="M457.4 356.3 L457.4 359.8" stroke="#93474a" stroke-width="0.70"/>
<path d="M457.7 362.4 L458.0 362.4" stroke="#93474a" stroke-width="0.70"/>
<path d="M457.7 365.1 L458.0 365.1" stroke="#93474a" stroke-width="0.70"/>
<path d="M457.7 362.4 L457.7 365.1" stroke="#93474a" stroke-width="0.70"/>
<path d="M457.1 358.0 L457.4 358.0" stroke="#93474a" stroke-width="0.70"/>
<path d="M457.1 363.7 L457.7 363.7" stroke="#93474a" stroke-width="0.70"/>
<path d="M457.1 358.0 L457.1 363.7" stroke="#93474a" stroke-width="0.70"/>
<path d="M457.7 367.5 L458.0 367.5" stroke="#93474a" stroke-width="0.70"/>
<path d="M457.7 369.4 L458.0 369.4" stroke="#93474a" stroke-width="0.70"/>
<path d="M457.7 367.5 L457.7 369.4" stroke="#93474a" stroke-width="0.70"/>
<path d="M457.8 371.9 L458.0 371.9" stroke="#93474a" stroke-width="0.70"/>
<path d="M457.8 373.7 L458.0 373.7" stroke="#93474a" stroke-width="0.70"/>
<path d="M457.8 371.9 L457.8 373.7" stroke="#93474a" stroke-width="0.70"/>
<path d="M457.3 368.4 L457.7 368.4" stroke="#93474a" stroke-width="0.70"/>
<path d="M457.3 372.8 L457.8 372.8" stroke="#93474a" stroke-width="0.70"/>
<path d="M457.3 368.4 L457.3 372.8" stroke="#93474a" stroke-width="0.70"/>
<path d="M457.6 375.0 L458.0 375.0" stroke="#93474a" stroke-width="0.70"/>
<path d="M457.6 376.8 L458.0 376.8" stroke="#93474a" stroke-width="0.70"/>
<path d="M457.6 375.0 L457.6 376.8" stroke="#93474a" stroke-width="0.70"/>
<path d="M457.1 370.6 L457.3 370.6" stroke="#93474a" stroke-width="0.70"/>
<path d="M457.1 375.9 L457.6 375.9" stroke="#93474a" stroke-width="0.70"/>
<path d="M457.1 370.6 L457.1 375.9" stroke="#93474a" stroke-width="0.70"/>
<path d="M457.6 380.9 L458.0 380.9" stroke="#93474a" stroke-width="0.70"/>
<path d="M457.6 383.2 L458.0 383.2" stroke="#93474a" stroke-width="0.70"/>
<path d="M457.6 380.9 L457.6 383.2" stroke="#93474a" stroke-width="0.70"/>
<path d="M457.3 378.9 L458.0 378.9" stroke="#93474a" stroke-width="0.70"/>
<path d="M457.3 382.1 L457.6 382.1" stroke="#93474a" stroke-width="0.70"/>
<path d="M457.3 378.9 L457.3 382.1" stroke="#93474a" stroke-width="0.70"/>
<path d="M456.6 373.3 L457.1 373.3" stroke="#93474a" stroke-width="0.70"/>
<path d="M456.6 380.5 L457.3 380.5" stroke="#93474a" stroke-width="0.70"/>
<path d="M456.6 373.3 L456.6 380.5" stroke="#93474a" stroke-width="0.70"/>
<path d="M456.4 360.9 L457.1 360.9" stroke="#93474a" stroke-width="0.70"/>
<path d="M456.4 376.9 L456.6 376.9" stroke="#93474a" stroke-width="0.70"/>
<path d="M456.4 360.9 L456.4 376.9" stroke="#93474a" stroke-width="0.70"/>
<path d="M457.8 387.2 L458.0 387.2" stroke="#93474a" stroke-width="0.70"/>
<path d="M457.8 389.0 L458.0 389.0" stroke="#93474a" stroke-width="0.70"/>
<path d="M457.8 387.2 L457.8 389.0" stroke="#93474a" stroke-width="0.70"/>
<path d="M457.5 385.5 L458.0 385.5" stroke="#93474a" stroke-width="0.70"/>
<path d="M457.5 388.1 L457.8 388.1" stroke="#93474a" stroke-width="0.70"/>
<path d="M457.5 385.5 L457.5 388.1" stroke="#93474a" stroke-width="0.70"/>
<path d="M457.2 386.8 L457.5 386.8" stroke="#93474a" stroke-width="0.70"/>
<path d="M457.2 391.2 L458.0 391.2" stroke="#93474a" stroke-width="0.70"/>
<path d="M457.2 386.8 L457.2 391.2" stroke="#93474a" stroke-width="0.70"/>
<path d="M457.5 393.2 L458.0 393.2" stroke="#93474a" stroke-width="0.70"/>
<path d="M457.5 395.1 L458.0 395.1" stroke="#93474a" stroke-width="0.70"/>
<path d="M457.5 393.2 L457.5 395.1" stroke="#93474a" stroke-width="0.70"/>
<path d="M457.2 394.1 L457.5 394.1" stroke="#93474a" stroke-width="0.70"/>
<path d="M457.2 397.4 L458.0 397.4" stroke="#93474a" stroke-width="0.70"/>
<path d="M457.2 394.1 L457.2 397.4" stroke="#93474a" stroke-width="0.70"/>
<path d="M456.9 389.0 L457.2 389.0" stroke="#93474a" stroke-width="0.70"/>
<path d="M456.9 395.8 L457.2 395.8" stroke="#93474a" stroke-width="0.70"/>
<path d="M456.9 389.0 L456.9 395.8" stroke="#93474a" stroke-width="0.70"/>
<path d="M456.0 368.9 L456.4 368.9" stroke="#93474a" stroke-width="0.70"/>
<path d="M456.0 392.4 L456.9 392.4" stroke="#93474a" stroke-width="0.70"/>
<path d="M456.0 368.9 L456.0 392.4" stroke="#93474a" stroke-width="0.70"/>
<path d="M455.7 323.8 L455.7 326.0" stroke="#93474a" stroke-width="0.70"/>
<path d="M456.0 380.6 L456.0 380.0" stroke="#93474a" stroke-width="0.70"/>
<path d="M453.8 326.0 L455.7 326.0" stroke="#9a6a6c" stroke-width="0.90"/>
<path d="M453.8 380.0 L456.0 380.0" stroke="#9a6a6c" stroke-width="0.90"/>
<path d="M453.8 326.0 L453.8 380.0" stroke="#9a6a6c" stroke-width="1.00"/>
<path d="M457.6 399.9 L458.0 399.9" stroke="#25287a" stroke-width="0.70"/>
<path d="M457.6 402.9 L458.0 402.9" stroke="#25287a" stroke-width="0.70"/>
<path d="M457.6 399.9 L457.6 402.9" stroke="#25287a" stroke-width="0.70"/>
<path d="M457.7 406.3 L458.0 406.3" stroke="#25287a" stroke-width="0.70"/>
<path d="M457.7 409.5 L458.0 409.5" stroke="#25287a" stroke-width="0.70"/>
<path d="M457.7 406.3 L457.7 409.5" stroke="#25287a" stroke-width="0.70"/>
<path d="M457.5 412.0 L458.0 412.0" stroke="#25287a" stroke-width="0.70"/>
<path d="M457.5 413.9 L458.0 413.9" stroke="#25287a" stroke-width="0.70"/>
<path d="M457.5 412.0 L457.5 413.9" stroke="#25287a" stroke-width="0.70"/>
<path d="M457.2 407.9 L457.7 407.9" stroke="#25287a" stroke-width="0.70"/>
<path d="M457.2 413.0 L457.5 413.0" stroke="#25287a" stroke-width="0.70"/>
<path d="M457.2 407.9 L457.2 413.0" stroke="#25287a" stroke-width="0.70"/>
<path d="M457.0 401.4 L457.6 401.4" stroke="#25287a" stroke-width="0.70"/>
<path d="M457.0 410.4 L457.2 410.4" stroke="#25287a" stroke-width="0.70"/>
<path d="M457.0 401.4 L457.0 410.4" stroke="#25287a" stroke-width="0.70"/>
<path d="M457.5 416.4 L458.0 416.4" stroke="#25287a" stroke-width="0.70"/>
<path d="M457.5 418.7 L458.0 418.7" stroke="#25287a" stroke-width="0.70"/>
<path d="M457.5 416.4 L457.5 418.7" stroke="#25287a" stroke-width="0.70"/>
<path d="M457.8 420.8 L458.0 420.8" stroke="#25287a" stroke-width="0.70"/>
<path d="M457.8 423.3 L458.0 423.3" stroke="#25287a" stroke-width="0.70"/>
<path d="M457.8 420.8 L457.8 423.3" stroke="#25287a" stroke-width="0.70"/>
<path d="M457.2 417.5 L457.5 417.5" stroke="#25287a" stroke-width="0.70"/>
<path d="M457.2 422.1 L457.8 422.1" stroke="#25287a" stroke-width="0.70"/>
<path d="M457.2 417.5 L457.2 422.1" stroke="#25287a" stroke-width="0.70"/>
<path d="M457.8 425.5 L458.0 425.5" stroke="#25287a" stroke-width="0.70"/>
<path d="M457.8 427.4 L458.0 427.4" stroke="#25287a" stroke-width="0.70"/>
<path d="M457.8 425.5 L457.8 427.4" stroke="#25287a" stroke-width="0.70"/>
<path d="M457.8 429.2 L458.0 429.2" stroke="#25287a" stroke-width="0.70"/>
<path d="M457.8 431.3 L458.0 431.3" stroke="#25287a" stroke-width="0.70"/>
<path d="M457.8 429.2 L457.8 431.3" stroke="#25287a" stroke-width="0.70"/>
<path d="M457.4 426.4 L457.8 426.4" stroke="#25287a" stroke-width="0.70"/>
<path d="M457.4 430.2 L457.8 430.2" stroke="#25287a" stroke-width="0.70"/>
<path d="M457.4 426.4 L457.4 430.2" stroke="#25287a" stroke-width="0.70"/>
<path d="M457.5 433.3 L458.0 433.3" stroke="#25287a" stroke-width="0.70"/>
<path d="M457.5 435.7 L458.0 435.7" stroke="#25287a" stroke-width="0.70"/>
<path d="M457.5 433.3 L457.5 435.7" stroke="#25287a" stroke-width="0.70"/>
<path d="M457.3 434.5 L457.5 434.5" stroke="#25287a" stroke-width="0.70"/>
<path d="M457.3 438.6 L458.0 438.6" stroke="#25287a" stroke-width="0.70"/>
<path d="M457.3 434.5 L457.3 438.6" stroke="#25287a" stroke-width="0.70"/>
<path d="M457.8 441.1 L458.0 441.1" stroke="#25287a" stroke-width="0.70"/>
<path d="M457.8 443.6 L458.0 443.6" stroke="#25287a" stroke-width="0.70"/>
<path d="M457.8 441.1 L457.8 443.6" stroke="#25287a" stroke-width="0.70"/>
<path d="M456.9 436.6 L457.3 436.6" stroke="#25287a" stroke-width="0.70"/>
<path d="M456.9 442.4 L457.8 442.4" stroke="#25287a" stroke-width="0.70"/>
<path d="M456.9 436.6 L456.9 442.4" stroke="#25287a" stroke-width="0.70"/>
<path d="M456.6 428.3 L457.4 428.3" stroke="#25287a" stroke-width="0.70"/>
<path d="M456.6 439.5 L456.9 439.5" stroke="#25287a" stroke-width="0.70"/>
<path d="M456.6 428.3 L456.6 439.5" stroke="#25287a" stroke-width="0.70"/>
<path d="M456.2 419.8 L457.2 419.8" stroke="#25287a" stroke-width="0.70"/>
<path d="M456.2 433.9 L456.6 433.9" stroke="#25287a" stroke-width="0.70"/>
<path d="M456.2 419.8 L456.2 433.9" stroke="#25287a" stroke-width="0.70"/>
<path d="M456.0 405.9 L457.0 405.9" stroke="#25287a" stroke-width="0.70"/>
<path d="M456.0 426.8 L456.2 426.8" stroke="#25287a" stroke-width="0.70"/>
<path d="M456.0 405.9 L456.0 426.8" stroke="#25287a" stroke-width="0.70"/>
<path d="M457.6 446.0 L458.0 446.0" stroke="#25287a" stroke-width="0.70"/>
<path d="M457.6 448.1 L458.0 448.1" stroke="#25287a" stroke-width="0.70"/>
<path d="M457.6 446.0 L457.6 448.1" stroke="#25287a" stroke-width="0.70"/>
<path d="M457.3 447.0 L457.6 447.0" stroke="#25287a" stroke-width="0.70"/>
<path d="M457.3 450.3 L458.0 450.3" stroke="#25287a" stroke-width="0.70"/>
<path d="M457.3 447.0 L457.3 450.3" stroke="#25287a" stroke-width="0.70"/>
<path d="M457.7 452.9 L458.0 452.9" stroke="#25287a" stroke-width="0.70"/>
<path d="M457.7 455.4 L458.0 455.4" stroke="#25287a" stroke-width="0.70"/>
<path d="M457.7 452.9 L457.7 455.4" stroke="#25287a" stroke-width="0.70"/>
<path d="M456.9 448.7 L457.3 448.7" stroke="#25287a" stroke-width="0.70"/>
<path d="M456.9 454.2 L457.7 454.2" stroke="#25287a" stroke-width="0.70"/>
<path d="M456.9 448.7 L456.9 454.2" stroke="#25287a" stroke-width="0.70"/>
<path d="M457.7 457.3 L458.0 457.3" stroke="#25287a" stroke-width="0.70"/>
<path d="M457.7 459.6 L458.0 459.6" stroke="#25287a" stroke-width="0.70"/>
<path d="M457.7 457.3 L457.7 459.6" stroke="#25287a" stroke-width="0.70"/>
<path d="M457.5 458.5 L457.7 458.5" stroke="#25287a" stroke-width="0.70"/>
<path d="M457.5 462.3 L458.0 462.3" stroke="#25287a" stroke-width="0.70"/>
<path d="M457.5 458.5 L457.5 462.3" stroke="#25287a" stroke-width="0.70"/>
<path d="M456.4 451.4 L456.9 451.4" stroke="#25287a" stroke-width="0.70"/>
<path d="M456.4 460.4 L457.5 460.4" stroke="#25287a" stroke-width="0.70"/>
<path d="M456.4 451.4 L456.4 460.4" stroke="#25287a" stroke-width="0.70"/>
<path d="M457.7 468.3 L458.0 468.3" stroke="#25287a" stroke-width="0.70"/>
<path d="M457.7 471.1 L458.0 471.1" stroke="#25287a" stroke-width="0.70"/>
<path d="M457.7 468.3 L457.7 471.1" stroke="#25287a" stroke-width="0.70"/>
<path d="M457.5 465.4 L458.0 465.4" stroke="#25287a" stroke-width="0.70"/>
<path d="M457.5 469.7 L457.7 469.7" stroke="#25287a" stroke-width="0.70"/>
<path d="M457.5 465.4 L457.5 469.7" stroke="#25287a" stroke-width="0.70"/>
<path d="M457.6 473.5 L458.0 473.5" stroke="#25287a" stroke-width="0.70"/>
<path d="M457.6 475.6 L458.0 475.6" stroke="#25287a" stroke-width="0.70"/>
<path d="M457.6 473.5 L457.6 475.6" stroke="#25287a" stroke-width="0.70"/>
<path d="M457.5 477.6 L458.0 477.6" stroke="#25287a" stroke-width="0.70"/>
<path d="M457.5 480.2 L458.0 480.2" stroke="#25287a" stroke-width="0.70"/>
<path d="M457.5 477.6 L457.5 480.2" stroke="#25287a" stroke-width="0.70"/>
<path d="M457.0 474.6 L457.6 474.6" stroke="#25287a" stroke-width="0.70"/>
<path d="M457.0 478.9 L457.5 478.9" stroke="#25287a" stroke-width="0.70"/>
<path d="M457.0 474.6 L457.0 478.9" stroke="#25287a" stroke-width="0.70"/>
<path d="M456.8 467.6 L457.5 467.6" stroke="#25287a" stroke-width="0.70"/>
<path d="M456.8 476.7 L457.0 476.7" stroke="#25287a" stroke-width="0.70"/>
<path d="M456.8 467.6 L456.8 476.7" stroke="#25287a" stroke-width="0.70"/>
<path d="M457.5 484.7 L458.0 484.7" stroke="#25287a" stroke-width="0.70"/>
<path d="M457.5 486.5 L458.0 486.5" stroke="#25287a" stroke-width="0.70"/>
<path d="M457.5 484.7 L457.5 486.5" stroke="#25287a" stroke-width="0.70"/>
<path d="M457.3 482.7 L458.0 482.7" stroke="#25287a" stroke-width="0.70"/>
<path d="M457.3 485.6 L457.5 485.6" stroke="#25287a" stroke-width="0.70"/>
<path d="M457.3 482.7 L457.3 485.6" stroke="#25287a" stroke-width="0.70"/>
<path d="M457.5 487.8 L458.0 487.8" stroke="#25287a" stroke-width="0.70"/>
<path d="M457.5 489.6 L458.0 489.6" stroke="#25287a" stroke-width="0.70"/>
<path d="M457.5 487.8 L457.5 489.6" stroke="#25287a" stroke-width="0.70"/>
<path d="M457.0 484.2 L457.3 484.2" stroke="#25287a" stroke-width="0.70"/>
<path d="M457.0 488.7 L457.5 488.7" stroke="#25287a" stroke-width="0.70"/>
<path d="M457.0 484.2 L457.0 488.7" stroke="#25287a" stroke-width="0.70"/>
<path d="M457.8 492.4 L458.0 492.4" stroke="#25287a" stroke-width="0.70"/>
<path d="M457.8 495.1 L458.0 495.1" stroke="#25287a" stroke-width="0.70"/>
<path d="M457.8 492.4 L457.8 495.1" stroke="#25287a" stroke-width="0.70"/>
<path d="M457.7 497.1 L458.0 497.1" stroke="#25287a" stroke-width="0.70"/>
<path d="M457.7 499.0 L458.0 499.0" stroke="#25287a" stroke-width="0.70"/>
<path d="M457.7 497.1 L457.7 499.0" stroke="#25287a" stroke-width="0.70"/>
<path d="M457.2 493.7 L457.8 493.7" stroke="#25287a" stroke-width="0.70"/>
<path d="M457.2 498.1 L457.7 498.1" stroke="#25287a" stroke-width="0.70"/>
<path d="M457.2 493.7 L457.2 498.1" stroke="#25287a" stroke-width="0.70"/>
<path d="M456.8 486.4 L457.0 486.4" stroke="#25287a" stroke-width="0.70"/>
<path d="M456.8 495.9 L457.2 495.9" stroke="#25287a" stroke-width="0.70"/>
<path d="M456.8 486.4 L456.8 495.9" stroke="#25287a" stroke-width="0.70"/>
<path d="M456.4 472.1 L456.8 472.1" stroke="#25287a" stroke-width="0.70"/>
<path d="M456.4 491.2 L456.8 491.2" stroke="#25287a" stroke-width="0.70"/>
<path d="M456.4 472.1 L456.4 491.2" stroke="#25287a" stroke-width="0.70"/>
<path d="M456.2 455.9 L456.4 455.9" stroke="#25287a" stroke-width="0.70"/>
<path d="M456.2 481.7 L456.4 481.7" stroke="#25287a" stroke-width="0.70"/>
<path d="M456.2 455.9 L456.2 481.7" stroke="#25287a" stroke-width="0.70"/>
<path d="M456.0 416.4 L456.0 429.7" stroke="#25287a" stroke-width="0.70"/>
<path d="M456.2 468.8 L456.2 470.3" stroke="#25287a" stroke-width="0.70"/>
<path d="M443.3 429.7 L456.0 429.7" stroke="#74748a" stroke-width="0.90"/>
<path d="M443.3 470.3 L456.2 470.3" stroke="#74748a" stroke-width="0.90"/>
<path d="M443.3 429.7 L443.3 470.3" stroke="#74748a" stroke-width="1.00"/>
<path d="M457.6 501.0 L458.0 501.0" stroke="#25287a" stroke-width="0.70"/>
<path d="M457.6 503.3 L458.0 503.3" stroke="#25287a" stroke-width="0.70"/>
<path d="M457.6 501.0 L457.6 503.3" stroke="#25287a" stroke-width="0.70"/>
<path d="M457.3 502.1 L457.6 502.1" stroke="#25287a" stroke-width="0.70"/>
<path d="M457.3 506.2 L458.0 506.2" stroke="#25287a" stroke-width="0.70"/>
<path d="M457.3 502.1 L457.3 506.2" stroke="#25287a" stroke-width="0.70"/>
<path d="M457.5 509.2 L458.0 509.2" stroke="#25287a" stroke-width="0.70"/>
<path d="M457.5 511.5 L458.0 511.5" stroke="#25287a" stroke-width="0.70"/>
<path d="M457.5 509.2 L457.5 511.5" stroke="#25287a" stroke-width="0.70"/>
<path d="M456.9 504.2 L457.3 504.2" stroke="#25287a" stroke-width="0.70"/>
<path d="M456.9 510.3 L457.5 510.3" stroke="#25287a" stroke-width="0.70"/>
<path d="M456.9 504.2 L456.9 510.3" stroke="#25287a" stroke-width="0.70"/>
<path d="M457.6 513.4 L458.0 513.4" stroke="#25287a" stroke-width="0.70"/>
<path d="M457.6 516.1 L458.0 516.1" stroke="#25287a" stroke-width="0.70"/>
<path d="M457.6 513.4 L457.6 516.1" stroke="#25287a" stroke-width="0.70"/>
<path d="M456.5 507.2 L456.9 507.2" stroke="#25287a" stroke-width="0.70"/>
<path d="M456.5 514.7 L457.6 514.7" stroke="#25287a" stroke-width="0.70"/>
<path d="M456.5 507.2 L456.5 514.7" stroke="#25287a" stroke-width="0.70"/>
<path d="M457.7 519.1 L458.0 519.1" stroke="#25287a" stroke-width="0.70"/>
<path d="M457.7 522.0 L458.0 522.0" stroke="#25287a" stroke-width="0.70"/>
<path d="M457.7 519.1 L457.7 522.0" stroke="#25287a" stroke-width="0.70"/>
<path d="M457.3 520.5 L457.7 520.5" stroke="#25287a" stroke-width="0.70"/>
<path d="M457.3 525.1 L458.0 525.1" stroke="#25287a" stroke-width="0.70"/>
<path d="M457.3 520.5 L457.3 525.1" stroke="#25287a" stroke-width="0.70"/>
<path d="M456.1 511.0 L456.5 511.0" stroke="#25287a" stroke-width="0.70"/>
<path d="M456.1 522.8 L457.3 522.8" stroke="#25287a" stroke-width="0.70"/>
<path d="M456.1 511.0 L456.1 522.8" stroke="#25287a" stroke-width="0.70"/>
<path d="M457.7 530.3 L458.0 530.3" stroke="#25287a" stroke-width="0.70"/>
<path d="M457.7 532.5 L458.0 532.5" stroke="#25287a" stroke-width="0.70"/>
<path d="M457.7 530.3 L457.7 532.5" stroke="#25287a" stroke-width="0.70"/>
<path d="M457.3 528.1 L458.0 528.1" stroke="#25287a" stroke-width="0.70"/>
<path d="M457.3 531.4 L457.7 531.4" stroke="#25287a" stroke-width="0.70"/>
<path d="M457.3 528.1 L457.3 531.4" stroke="#25287a" stroke-width="0.70"/>
<path d="M457.7 534.9 L458.0 534.9" stroke="#25287a" stroke-width="0.70"/>
<path d="M457.7 536.8 L458.0 536.8" stroke="#25287a" stroke-width="0.70"/>
<path d="M457.7 534.9 L457.7 536.8" stroke="#25287a" stroke-width="0.70"/>
<path d="M457.2 535.8 L457.7 535.8" stroke="#25287a" stroke-width="0.70"/>
<path d="M457.2 539.1 L458.0 539.1" stroke="#25287a" stroke-width="0.70"/>
<path d="M457.2 535.8 L457.2 539.1" stroke="#25287a" stroke-width="0.70"/>
<path d="M456.7 529.7 L457.3 529.7" stroke="#25287a" stroke-width="0.70"/>
<path d="M456.7 537.5 L457.2 537.5" stroke="#25287a" stroke-width="0.70"/>
<path d="M456.7 529.7 L456.7 537.5" stroke="#25287a" stroke-width="0.70"/>
<path d="M457.7 542.1 L458.0 542.1" stroke="#25287a" stroke-width="0.70"/>
<path d="M457.7 544.8 L458.0 544.8" stroke="#25287a" stroke-width="0.70"/>
<path d="M457.7 542.1 L457.7 544.8" stroke="#25287a" stroke-width="0.70"/>
<path d="M457.5 549.4 L458.0 549.4" stroke="#25287a" stroke-width="0.70"/>
<path d="M457.5 551.2 L458.0 551.2" stroke="#25287a" stroke-width="0.70"/>
<path d="M457.5 549.4 L457.5 551.2" stroke="#25287a" stroke-width="0.70"/>
<path d="M457.2 550.3 L457.5 550.3" stroke="#25287a" stroke-width="0.70"/>
<path d="M457.2 553.2 L458.0 553.2" stroke="#25287a" stroke-width="0.70"/>
<path d="M457.2 550.3 L457.2 553.2" stroke="#25287a" stroke-width="0.70"/>
<path d="M457.0 547.1 L458.0 547.1" stroke="#25287a" stroke-width="0.70"/>
<path d="M457.0 551.7 L457.2 551.7" stroke="#25287a" stroke-width="0.70"/>
<path d="M457.0 547.1 L457.0 551.7" stroke="#25287a" stroke-width="0.70"/>
<path d="M456.7 543.4 L457.7 543.4" stroke="#25287a" stroke-width="0.70"/>
<path d="M456.7 549.4 L457.0 549.4" stroke="#25287a" stroke-width="0.70"/>
<path d="M456.7 543.4 L456.7 549.4" stroke="#25287a" stroke-width="0.70"/>
<path d="M456.2 533.6 L456.7 533.6" stroke="#25287a" stroke-width="0.70"/>
<path d="M456.2 546.4 L456.7 546.4" stroke="#25287a" stroke-width="0.70"/>
<path d="M456.2 533.6 L456.2 546.4" stroke="#25287a" stroke-width="0.70"/>
<path d="M455.9 516.9 L456.1 516.9" stroke="#25287a" stroke-width="0.70"/>
<path d="M455.9 540.0 L456.2 540.0" stroke="#25287a" stroke-width="0.70"/>
<path d="M455.9 516.9 L455.9 540.0" stroke="#25287a" stroke-width="0.70"/>
<path d="M457.8 557.2 L458.0 557.2" stroke="#25287a" stroke-width="0.70"/>
<path d="M457.8 559.2 L458.0 559.2" stroke="#25287a" stroke-width="0.70"/>
<path d="M457.8 557.2 L457.8 559.2" stroke="#25287a" stroke-width="0.70"/>
<path d="M457.5 555.2 L458.0 555.2" stroke="#25287a" stroke-width="0.70"/>
<path d="M457.5 558.2 L457.8 558.2" stroke="#25287a" stroke-width="0.70"/>
<path d="M457.5 555.2 L457.5 558.2" stroke="#25287a" stroke-width="0.70"/>
<path d="M457.8 561.5 L458.0 561.5" stroke="#25287a" stroke-width="0.70"/>
<path d="M457.8 563.7 L458.0 563.7" stroke="#25287a" stroke-width="0.70"/>
<path d="M457.8 561.5 L457.8 563.7" stroke="#25287a" stroke-width="0.70"/>
<path d="M457.3 556.7 L457.5 556.7" stroke="#25287a" stroke-width="0.70"/>
<path d="M457.3 562.6 L457.8 562.6" stroke="#25287a" stroke-width="0.70"/>
<path d="M457.3 556.7 L457.3 562.6" stroke="#25287a" stroke-width="0.70"/>
<path d="M457.7 565.3 L458.0 565.3" stroke="#25287a" stroke-width="0.70"/>
<path d="M457.7 567.0 L458.0 567.0" stroke="#25287a" stroke-width="0.70"/>
<path d="M457.7 565.3 L457.7 567.0" stroke="#25287a" stroke-width="0.70"/>
<path d="M457.3 566.2 L457.7 566.2" stroke="#25287a" stroke-width="0.70"/>
<path d="M457.3 569.5 L458.0 569.5" stroke="#25287a" stroke-width="0.70"/>
<path d="M457.3 566.2 L457.3 569.5" stroke="#25287a" stroke-width="0.70"/>
<path d="M457.8 572.4 L458.0 572.4" stroke="#25287a" stroke-width="0.70"/>
<path d="M457.8 574.4 L458.0 574.4" stroke="#25287a" stroke-width="0.70"/>
<path d="M457.8 572.4 L457.8 574.4" stroke="#25287a" stroke-width="0.70"/>
<path d="M457.0 567.8 L457.3 567.8" stroke="#25287a" stroke-width="0.70"/>
<path d="M457.0 573.4 L457.8 573.4" stroke="#25287a" stroke-width="0.70"/>
<path d="M457.0 567.8 L457.0 573.4" stroke="#25287a" stroke-width="0.70"/>
<path d="M457.8 576.4 L458.0 576.4" stroke="#25287a" stroke-width="0.70"/>
<path d="M457.8 578.8 L458.0 578.8" stroke="#25287a" stroke-width="0.70"/>
<path d="M457.8 576.4 L457.8 578.8" stroke="#25287a" stroke-width="0.70"/>
<path d="M456.8 570.6 L457.0 570.6" stroke="#25287a" stroke-width="0.70"/>
<path d="M456.8 577.6 L457.8 577.6" stroke="#25287a" stroke-width="0.70"/>
<path d="M456.8 570.6 L456.8 577.6" stroke="#25287a" stroke-width="0.70"/>
<path d="M456.4 559.6 L457.3 559.6" stroke="#25287a" stroke-width="0.70"/>
<path d="M456.4 574.1 L456.8 574.1" stroke="#25287a" stroke-width="0.70"/>
<path d="M456.4 559.6 L456.4 574.1" stroke="#25287a" stroke-width="0.70"/>
<path d="M457.5 580.8 L458.0 580.8" stroke="#25287a" stroke-width="0.70"/>
<path d="M457.5 582.7 L458.0 582.7" stroke="#25287a" stroke-width="0.70"/>
<path d="M457.5 580.8 L457.5 582.7" stroke="#25287a" stroke-width="0.70"/>
<path d="M457.6 585.3 L458.0 585.3" stroke="#25287a" stroke-width="0.70"/>
<path d="M457.6 587.8 L458.0 587.8" stroke="#25287a" stroke-width="0.70"/>
<path d="M457.6 585.3 L457.6 587.8" stroke="#25287a" stroke-width="0.70"/>
<path d="M457.3 581.8 L457.5 581.8" stroke="#25287a" stroke-width="0.70"/>
<path d="M457.3 586.5 L457.6 586.5" stroke="#25287a" stroke-width="0.70"/>
<path d="M457.3 581.8 L457.3 586.5" stroke="#25287a" stroke-width="0.70"/>
<path d="M457.6 589.6 L458.0 589.6" stroke="#25287a" stroke-width="0.70"/>
<path d="M457.6 592.2 L458.0 592.2" stroke="#25287a" stroke-width="0.70"/>
<path d="M457.6 589.6 L457.6 592.2" stroke="#25287a" stroke-width="0.70"/>
<path d="M457.0 584.2 L457.3 584.2" stroke="#25287a" stroke-width="0.70"/>
<path d="M457.0 590.9 L457.6 590.9" stroke="#25287a" stroke-width="0.70"/>
<path d="M457.0 584.2 L457.0 590.9" stroke="#25287a" stroke-width="0.70"/>
<path d="M457.8 595.6 L458.0 595.6" stroke="#25287a" stroke-width="0.70"/>
<path d="M457.8 598.7 L458.0 598.7" stroke="#25287a" stroke-width="0.70"/>
<path d="M457.8 595.6 L457.8 598.7" stroke="#25287a" stroke-width="0.70"/>
<path d="M456.6 587.5 L457.0 587.5" stroke="#25287a" stroke-width="0.70"/>
<path d="M456.6 597.1 L457.8 597.1" stroke="#25287a" stroke-width="0.70"/>
<path d="M456.6 587.5 L456.6 597.1" stroke="#25287a" stroke-width="0.70"/>
<path d="M456.0 566.9 L456.4 566.9" stroke="#25287a" stroke-width="0.70"/>
<path d="M456.0 592.3 L456.6 592.3" stroke="#25287a" stroke-width="0.70"/>
<path d="M456.0 566.9 L456.0 592.3" stroke="#25287a" stroke-width="0.70"/>
<path d="M455.7 528.5 L455.9 528.5" stroke="#25287a" stroke-width="0.70"/>
<path d="M455.7 579.6 L456.0 579.6" stroke="#25287a" stroke-width="0.70"/>
<path d="M455.7 528.5 L455.7 579.6" stroke="#25287a" stroke-width="0.70"/>
<path d="M457.6 601.4 L458.0 601.4" stroke="#25287a" stroke-width="0.70"/>
<path d="M457.6 604.5 L458.0 604.5" stroke="#25287a" stroke-width="0.70"/>
<path d="M457.6 601.4 L457.6 604.5" stroke="#25287a" stroke-width="0.70"/>
<path d="M457.6 609.2 L458.0 609.2" stroke="#25287a" stroke-width="0.70"/>
<path d="M457.6 611.1 L458.0 611.1" stroke="#25287a" stroke-width="0.70"/>
<path d="M457.6 609.2 L457.6 611.1" stroke="#25287a" stroke-width="0.70"/>
<path d="M457.4 607.3 L458.0 607.3" stroke="#25287a" stroke-width="0.70"/>
<path d="M457.4 610.2 L457.6 610.2" stroke="#25287a" stroke-width="0.70"/>
<path d="M457.4 607.3 L457.4 610.2" stroke="#25287a" stroke-width="0.70"/>
<path d="M457.2 608.7 L457.4 608.7" stroke="#25287a" stroke-width="0.70"/>
<path d="M457.2 613.8 L458.0 613.8" stroke="#25287a" stroke-width="0.70"/>
<path d="M457.2 608.7 L457.2 613.8" stroke="#25287a" stroke-width="0.70"/>
<path d="M456.9 602.9 L457.6 602.9" stroke="#25287a" stroke-width="0.70"/>
<path d="M456.9 611.3 L457.2 611.3" stroke="#25287a" stroke-width="0.70"/>
<path d="M456.9 602.9 L456.9 611.3" stroke="#25287a" stroke-width="0.70"/>
<path d="M457.7 615.9 L458.0 615.9" stroke="#25287a" stroke-width="0.70"/>
<path d="M457.7 617.7 L458.0 617.7" stroke="#25287a" stroke-width="0.70"/>
<path d="M457.7 615.9 L457.7 617.7" stroke="#25287a" stroke-width="0.70"/>
<path d="M457.8 619.6 L458.0 619.6" stroke="#25287a" stroke-width="0.70"/>
<path d="M457.8 621.4 L458.0 621.4" stroke="#25287a" stroke-width="0.70"/>
<path d="M457.8 619.6 L457.8 621.4" stroke="#25287a" stroke-width="0.70"/>
<path d="M457.2 616.8 L457.7 616.8" stroke="#25287a" stroke-width="0.70"/>
<path d="M457.2 620.5 L457.8 620.5" stroke="#25287a" stroke-width="0.70"/>
<path d="M457.2 616.8 L457.2 620.5" stroke="#25287a" stroke-width="0.70"/>
<path d="M457.6 623.9 L458.0 623.9" stroke="#25287a" stroke-width="0.70"/>
<path d="M457.6 625.8 L458.0 625.8" stroke="#25287a" stroke-width="0.70"/>
<path d="M457.6 623.9 L457.6 625.8" stroke="#25287a" stroke-width="0.70"/>
<path d="M457.2 624.9 L457.6 624.9" stroke="#25287a" stroke-width="0.70"/>
<path d="M457.2 627.4 L458.0 627.4" stroke="#25287a" stroke-width="0.70"/>
<path d="M457.2 624.9 L457.2 627.4" stroke="#25287a" stroke-width="0.70"/>
<path d="M456.8 618.7 L457.2 618.7" stroke="#25287a" stroke-width="0.70"/>
<path d="M456.8 626.2 L457.2 626.2" stroke="#25287a" stroke-width="0.70"/>
<path d="M456.8 618.7 L456.8 626.2" stroke="#25287a" stroke-width="0.70"/>
<path d="M457.7 633.1 L458.0 633.1" stroke="#25287a" stroke-width="0.70"/>
<path d="M457.7 635.3 L458.0 635.3" stroke="#25287a" stroke-width="0.70"/>
<path d="M457.7 633.1 L457.7 635.3" stroke="#25287a" stroke-width="0.70"/>
<path d="M457.1 630.0 L458.0 630.0" stroke="#25287a" stroke-width="0.70"/>
<path d="M457.1 634.2 L457.7 634.2" stroke="#25287a" stroke-width="0.70"/>
<path d="M457.1 630.0 L457.1 634.2" stroke="#25287a" stroke-width="0.70"/>
<path d="M457.6 640.2 L458.0 640.2" stroke="#25287a" stroke-width="0.70"/>
<path d="M457.6 642.3 L458.0 642.3" stroke="#25287a" stroke-width="0.70"/>
<path d="M457.6 640.2 L457.6 642.3" stroke="#25287a" stroke-width="0.70"/>
<path d="M457.2 637.7 L458.0 637.7" stroke="#25287a" stroke-width="0.70"/>
<path d="M457.2 641.2 L457.6 641.2" stroke="#25287a" stroke-width="0.70"/>
<path d="M457.2 637.7 L457.2 641.2" stroke="#25287a" stroke-width="0.70"/>
<path d="M456.8 632.1 L457.1 632.1" stroke="#25287a" stroke-width="0.70"/>
<path d="M456.8 639.5 L457.2 639.5" stroke="#25287a" stroke-width="0.70"/>
<path d="M456.8 632.1 L456.8 639.5" stroke="#25287a" stroke-width="0.70"/>
<path d="M456.6 622.4 L456.8 622.4" stroke="#25287a" stroke-width="0.70"/>
<path d="M456.6 635.8 L456.8 635.8" stroke="#25287a" stroke-width="0.70"/>
<path d="M456.6 622.4 L456.6 635.8" stroke="#25287a" stroke-width="0.70"/>
<path d="M456.4 607.1 L456.9 607.1" stroke="#25287a" stroke-width="0.70"/>
<path d="M456.4 629.1 L456.6 629.1" stroke="#25287a" stroke-width="0.70"/>
<path d="M456.4 607.1 L456.4 629.1" stroke="#25287a" stroke-width="0.70"/>
<path d="M455.7 554.0 L455.7 570.0" stroke="#25287a" stroke-width="0.70"/>
<path d="M456.4 618.1 L456.4 629.7" stroke="#25287a" stroke-width="0.70"/>
<path d="M449.0 570.0 L455.7 570.0" stroke="#74748a" stroke-width="0.90"/>
<path d="M449.0 629.7 L456.4 629.7" stroke="#74748a" stroke-width="0.90"/>
<path d="M449.0 570.0 L449.0 629.7" stroke="#74748a" stroke-width="1.00"/>
<path d="M432.2 207.0 L448.6 207.0" stroke="#7e7476" stroke-width="1.10"/>
<path d="M432.2 352.6 L453.8 352.6" stroke="#7e7476" stroke-width="1.10"/>
<path d="M432.2 207.0 L432.2 352.6" stroke="#7e7476" stroke-width="1.10"/>
<path d="M433.8 450.3 L443.3 450.3" stroke="#7e7476" stroke-width="1.10"/>
<path d="M433.8 599.8 L449.0 599.8" stroke="#7e7476" stroke-width="1.10"/>
<path d="M433.8 450.3 L433.8 599.8" stroke="#7e7476" stroke-width="1.10"/>
<path d="M344.5 279.8 L432.2 279.8" stroke="#7e7476" stroke-width="1.10"/>
<path d="M344.5 524.2 L433.8 524.2" stroke="#7e7476" stroke-width="1.10"/>
<path d="M344.5 279.8 L344.5 524.2" stroke="#7e7476" stroke-width="1.10"/>
</g>
<!-- heatmap -->
<defs><filter id="hblur" x="-2%" y="-1%" width="104%" height="102%"><feGaussianBlur stdDeviation="0.5"/></filter></defs>
<g id="heatmap" filter="url(#hblur)">
<rect x="462" y="74" width="272" height="569" fill="#000"/>
<path fill="#fff9f9" d="M462 73.5h13v1.5h-13zM462 75h13v1h-13zM462 76h13v3h-13zM462 79h13v1h-13zM462 80h13v3h-13zM462 103h13v3h-13zM462 106h13v1h-13zM462 107h13v1h-13zM462 108h13v1h-13zM462 109h13v2h-13zM462 111h13v1h-13zM462 112h13v1h-13zM462 113h13v3h-13zM462 116h13v1h-13zM462 117h13v2h-13zM462 119h13v2h-13zM462 121h13v3h-13zM462 124h13v1h-13zM462 125h13v2h-13zM462 127h13v1h-13zM462 128h13v3h-13zM462 131h13v1h-13zM462 147h13v1h-13zM462 148h13v1h-13zM462 149h13v1h-13zM462 150h13v1h-13zM462 151h13v1h-13zM462 152h13v1h-13zM462 153h13v3h-13zM462 156h13v2h-13zM462 158h13v2h-13zM462 160h13v1h-13zM462 161h13v2h-13zM462 163h13v1h-13zM462 164h13v2h-13zM462 166h13v1h-13zM462 167h13v1h-13zM475 169h13v2h-13zM475 171h13v1h-13zM475 172h13v3h-13zM475 175h13v1h-13zM475 176h13v1h-13zM475 177h13v1h-13zM475 178h13v1h-13zM475 179h13v2h-13zM475 181h13v1h-13zM475 182h13v1h-13zM475 183h13v1h-13zM475 184h13v1h-13zM475 185h13v2h-13zM475 187h13v1h-13zM462 193h39v2h-39zM462 195h39v2h-39zM462 197h26v2h-26zM462 199h26v1h-26zM462 200h26v1h-26zM462 201h26v1h-26zM475 202h13v1h-13zM475 210h13v3h-13zM475 213h13v1h-13zM475 214h13v1h-13zM462 216h13v1h-13zM462 217h13v1h-13zM462 218h13v1h-13zM462 219h13v3h-13zM462 234h13v2h-13zM462 236h13v1h-13zM462 237h13v1h-13zM462 238h13v2h-13zM462 250h13v1h-13zM462 251h13v1h-13zM462 252h13v1h-13zM462 253h13v3h-13zM462 256h13v2h-13zM462 258h13v1h-13zM462 259h13v2h-13zM475 290h13v1h-13zM462 303h13v2h-13zM462 305h13v1h-13zM462 306h13v1h-13zM462 307h13v1h-13zM462 308h13v2h-13zM462 310h26v1h-26zM462 311h26v1h-26zM462 312h26v1h-26zM462 313h13v1h-13zM488 313h13v1h-13zM527 313h13v1h-13zM462 314h13v1h-13zM488 314h13v1h-13zM527 314h13v1h-13zM462 315h13v2h-13zM488 315h13v2h-13zM527 315h13v2h-13zM462 317h13v3h-13zM488 317h13v3h-13zM527 317h13v3h-13zM462 320h13v3h-13zM488 320h13v3h-13zM462 323h13v1h-13zM488 323h13v1h-13zM462 324h13v3h-13zM488 324h13v3h-13zM514 324h13v3h-13zM462 327h13v1h-13zM514 327h13v1h-13zM514 328h13v2h-13zM514 330h13v1h-13zM514 331h13v2h-13zM475 333h13v2h-13zM501 333h26v2h-26zM475 335h13v1h-13zM501 335h26v1h-26zM475 336h13v2h-13zM501 336h26v2h-26zM475 338h13v2h-13zM501 338h13v2h-13zM514 338h13v2h-13zM475 340h13v1h-13zM514 340h13v1h-13zM475 341h13v1h-13zM514 341h13v1h-13zM475 342h13v1h-13zM514 342h13v1h-13zM475 343h13v1h-13zM514 343h13v1h-13zM527 343h13v1h-13zM475 344h13v1h-13zM514 344h13v1h-13zM527 344h13v1h-13zM462 345h13v1h-13zM475 345h13v1h-13zM501 345h26v1h-26zM527 345h13v1h-13zM462 346h13v3h-13zM475 346h13v3h-13zM501 346h26v3h-26zM527 346h13v3h-13zM462 349h13v2h-13zM475 349h13v2h-13zM501 349h26v2h-26zM527 349h13v2h-13zM501 351h26v1h-26zM501 352h26v2h-26zM501 354h26v2h-26zM462 356h13v2h-13zM514 356h13v2h-13zM462 358h13v1h-13zM514 358h13v1h-13zM462 359h13v1h-13zM514 359h13v1h-13zM462 360h13v1h-13zM514 360h13v1h-13zM462 361h13v1h-13zM462 362h13v1h-13zM488 363h13v2h-13zM488 365h13v1h-13zM488 366h13v1h-13zM514 369h13v3h-13zM514 372h13v1h-13zM514 373h13v1h-13zM514 374h13v2h-13zM514 376h13v1h-13zM514 377h13v2h-13zM488 379h13v1h-13zM514 379h13v1h-13zM488 380h13v2h-13zM514 380h13v2h-13zM488 382h13v2h-13zM514 382h13v2h-13zM488 384h13v2h-13zM514 384h13v2h-13zM527 384h13v2h-13zM488 386h13v2h-13zM514 386h13v2h-13zM527 386h13v2h-13zM488 388h13v1h-13zM514 388h13v1h-13zM527 388h13v1h-13zM488 389h13v1h-13zM527 389h13v1h-13zM514 390h13v1h-13zM527 390h13v1h-13zM501 391h39v1h-39zM501 392h39v2h-39zM501 394h39v1h-39zM501 395h52v1h-52zM501 396h13v1h-13zM514 396h13v1h-13zM527 396h13v1h-13zM501 397h13v2h-13zM514 397h13v2h-13zM540 397h13v2h-13zM462 515h13v1h-13zM462 516h13v1h-13zM462 576h13v1h-13zM462 577h13v2h-13zM462 579h13v1h-13zM462 580h13v2h-13zM462 582h13v2h-13zM462 584h13v2h-13zM462 586h13v1h-13zM462 587h13v3h-13zM462 590h13v1h-13zM462 603h13v1h-13zM462 604h13v1h-13zM462 605h13v2h-13zM462 607h13v1h-13zM462 623h13v2h-13zM462 625h13v3h-13zM462 628h13v3h-13zM462 631h13v1h-13zM462 632h13v1h-13zM462 633h13v1h-13zM462 634h13v2h-13zM462 636h13v1h-13z"/>
<path fill="#fceded" d="M475 73.5h13v1.5h-13zM475 75h13v1h-13zM475 76h13v3h-13zM475 79h13v1h-13zM475 80h13v3h-13zM475 83h13v1h-13zM475 84h13v2h-13zM475 86h13v1h-13zM540 169h13v2h-13zM501 181h13v1h-13zM501 182h13v1h-13zM501 183h13v1h-13zM501 184h13v1h-13zM501 185h13v2h-13zM501 187h13v1h-13zM501 188h13v2h-13zM501 190h13v1h-13zM501 191h13v2h-13zM514 203h13v2h-13zM514 205h13v2h-13zM514 207h13v3h-13zM514 210h13v3h-13zM514 213h13v1h-13zM540 252h13v1h-13zM488 258h13v1h-13zM488 259h13v2h-13zM488 261h13v1h-13zM488 262h13v2h-13zM527 262h13v2h-13zM527 264h13v1h-13zM527 265h13v1h-13zM527 266h13v2h-13zM527 268h13v1h-13zM527 269h13v2h-13zM527 271h13v1h-13zM514 272h13v2h-13zM527 272h13v2h-13zM514 274h13v1h-13zM527 274h13v1h-13zM514 275h13v1h-13zM527 275h13v1h-13zM501 276h26v1h-26zM527 276h13v1h-13zM501 277h26v2h-26zM527 277h13v2h-13zM501 279h26v2h-26zM527 279h13v2h-13zM501 281h13v1h-13zM514 281h13v1h-13zM527 281h13v1h-13zM501 282h13v1h-13zM514 282h13v1h-13zM527 282h13v1h-13zM501 283h13v1h-13zM527 283h13v1h-13zM527 284h13v2h-13zM527 286h26v1h-26zM540 290h13v1h-13zM540 291h13v1h-13zM527 292h13v3h-13zM553 292h13v3h-13zM527 295h13v1h-13zM527 296h13v2h-13zM527 298h13v1h-13zM527 299h13v1h-13zM527 300h13v1h-13zM527 301h13v2h-13zM527 303h13v2h-13zM527 305h13v1h-13zM527 306h13v1h-13zM527 307h13v1h-13zM527 308h13v2h-13zM527 311h13v1h-13zM527 312h13v1h-13zM462 407h13v1h-13zM462 408h13v2h-13zM462 410h13v1h-13zM462 416h13v1h-13zM462 417h13v1h-13zM462 418h13v2h-13zM475 430h13v2h-13zM475 432h13v1h-13zM475 433h13v1h-13zM475 434h13v2h-13zM475 436h13v3h-13zM475 439h13v1h-13zM475 440h13v2h-13zM475 442h13v1h-13zM475 443h13v2h-13zM462 454h13v2h-13zM462 456h13v1h-13zM462 457h13v2h-13zM462 459h13v1h-13zM462 460h13v1h-13zM462 461h13v1h-13zM462 462h13v1h-13zM462 463h13v2h-13zM462 465h13v2h-13zM462 467h13v3h-13zM475 494h13v2h-13zM475 496h13v2h-13zM475 498h13v1h-13zM475 499h13v1h-13zM475 500h13v3h-13zM475 503h13v2h-13zM475 505h13v1h-13zM475 506h13v1h-13zM475 507h13v1h-13zM475 508h13v1h-13zM475 509h13v2h-13zM475 557h13v2h-13zM475 559h13v1h-13zM475 560h13v3h-13zM475 563h13v3h-13zM475 580h13v2h-13zM475 582h13v2h-13zM475 584h13v2h-13zM475 586h13v1h-13zM475 587h13v3h-13zM475 590h13v1h-13zM475 604h13v1h-13zM475 605h13v2h-13zM475 607h13v1h-13zM475 608h13v1h-13zM475 609h13v1h-13z"/>
<path fill="#f9d5d5" d="M488 73.5h13v1.5h-13zM488 75h13v1h-13zM488 76h13v3h-13zM488 79h13v1h-13zM488 80h13v3h-13zM488 83h13v1h-13zM527 241h13v2h-13zM527 243h13v3h-13zM527 246h13v2h-13zM527 248h13v2h-13zM475 535h13v2h-13zM475 537h13v2h-13zM475 539h13v1h-13zM514 602h13v1h-13zM514 603h13v1h-13zM514 604h13v1h-13zM514 605h13v2h-13zM514 607h13v1h-13z"/>
<path fill="#fce1e1" d="M501 73.5h13v1.5h-13zM501 75h13v1h-13zM501 76h13v3h-13zM501 79h13v1h-13zM501 139h13v1h-13zM514 168h13v1h-13zM514 169h13v2h-13zM514 171h13v1h-13zM514 172h13v3h-13zM514 175h13v1h-13zM514 176h13v1h-13zM514 177h13v1h-13zM462 447h13v1h-13zM462 448h13v2h-13zM462 450h13v2h-13zM462 452h13v1h-13zM462 453h13v1h-13zM475 463h13v2h-13zM475 465h13v2h-13zM475 467h13v3h-13zM475 566h13v1h-13zM475 567h13v2h-13zM475 569h13v1h-13zM475 570h13v1h-13zM475 571h13v2h-13z"/>
<path fill="#fceaea" d="M514 73.5h13v1.5h-13zM514 75h13v1h-13zM514 76h13v3h-13zM514 79h13v1h-13zM514 80h13v3h-13zM514 83h13v1h-13zM501 169h13v2h-13zM501 171h13v1h-13zM501 172h13v3h-13zM501 175h13v1h-13zM501 176h13v1h-13zM501 177h13v1h-13zM501 178h13v1h-13zM501 179h13v2h-13zM501 268h13v1h-13zM553 268h13v1h-13zM501 269h13v2h-13zM501 271h13v1h-13zM501 272h13v2h-13zM501 274h13v1h-13zM501 275h13v1h-13zM540 277h13v2h-13zM540 279h13v2h-13zM540 282h13v1h-13zM527 287h13v2h-13zM527 289h13v1h-13zM527 290h13v1h-13zM527 291h13v1h-13zM540 292h13v3h-13zM540 295h13v1h-13zM540 298h13v1h-13zM475 519h13v1h-13zM475 520h13v1h-13zM475 521h13v2h-13zM475 523h13v1h-13zM475 524h13v2h-13zM475 526h13v1h-13zM475 527h13v2h-13zM475 544h13v3h-13zM475 547h13v2h-13zM475 549h13v1h-13zM475 591h13v2h-13zM475 593h13v1h-13zM475 594h13v1h-13zM475 595h13v3h-13zM475 598h13v2h-13zM475 600h13v2h-13zM475 602h13v1h-13zM475 603h13v1h-13zM475 610h13v1h-13zM475 611h13v2h-13zM475 613h13v1h-13zM475 614h13v2h-13zM475 616h13v1h-13zM475 617h13v2h-13zM475 619h13v1h-13zM475 620h13v1h-13zM475 621h13v2h-13zM488 637h13v2h-13zM488 639h13v1h-13zM488 640h13v2h-13zM488 642h13v1h-13z"/>
<path fill="#f6726c" d="M527 73.5h13v1.5h-13z"/>
<path fill="#f9e7e7" d="M540 73.5h13v1.5h-13zM553 137h13v2h-13zM553 148h13v1h-13zM553 181h13v1h-13zM566 181h13v1h-13zM540 191h13v2h-13zM553 191h13v2h-13zM566 191h13v2h-13z"/>
<path fill="#f0cfcc" d="M553 73.5h13v1.5h-13z"/>
<path fill="#210c0c" d="M566 73.5h13v1.5h-13zM579 84h13v2h-13zM553 103h13v3h-13z"/>
<path fill="#240c0c" d="M579 73.5h13v1.5h-13zM579 112h13v1h-13zM592 117h12v2h-12zM553 134h13v2h-13zM592 178h12v1h-12zM604 185h13v2h-13z"/>
<path fill="#361515" d="M592 73.5h12v1.5h-12zM579 76h13v3h-13zM592 107h12v1h-12zM604 117h13v2h-13zM604 121h13v3h-13zM566 128h13v3h-13zM566 134h13v2h-13z"/>
<path fill="#2d120f" d="M604 73.5h13v1.5h-13z"/>
<path fill="#815d5a" d="M527 75h13v1h-13z"/>
<path fill="#f9bdbd" d="M540 75h13v1h-13zM540 79h13v1h-13zM540 94h13v1h-13zM540 96h13v3h-13zM540 99h13v1h-13zM527 102h13v1h-13zM540 102h13v1h-13zM527 103h13v3h-13zM527 106h13v1h-13zM527 108h13v1h-13zM527 109h13v2h-13zM514 111h26v1h-26zM514 112h26v1h-26zM514 113h13v3h-13zM514 116h13v1h-13zM514 117h13v2h-13zM514 119h13v2h-13zM514 121h13v3h-13zM514 124h13v1h-13zM514 125h13v2h-13zM488 284h13v2h-13zM488 287h13v2h-13zM488 289h13v1h-13zM488 290h13v1h-13zM488 291h13v1h-13zM501 560h13v3h-13zM501 563h13v3h-13zM501 566h13v1h-13z"/>
<path fill="#a86360" d="M553 75h13v1h-13z"/>
<path fill="#a26966" d="M566 75h13v1h-13zM566 106h13v1h-13z"/>
<path fill="#9f6f6c" d="M579 75h13v1h-13z"/>
<path fill="#997572" d="M592 75h12v1h-12zM592 124h12v1h-12z"/>
<path fill="#967b7b" d="M604 75h13v1h-13z"/>
<path fill="#908181" d="M617 75h13v1h-13zM643 102h13v1h-13z"/>
<path fill="#c3b1b1" d="M630 75h13v1h-13zM643 136h13v1h-13zM630 142h13v1h-13zM630 175h13v1h-13zM592 264h12v1h-12zM643 330h39v1h-39zM540 352h13v2h-13zM579 372h13v1h-13z"/>
<path fill="#c0b1b1" d="M643 75h13v1h-13zM643 127h13v1h-13zM643 143h13v1h-13zM656 146h13v1h-13zM604 283h13v1h-13zM604 284h13v2h-13zM682 330h13v1h-13zM695 330h26v1h-26zM630 335h13v1h-13zM617 359h13v1h-13zM656 373h13v1h-13zM604 388h13v1h-13z"/>
<path fill="#7b6c6c" d="M656 75h13v1h-13zM656 139h13v1h-13zM617 252h13v1h-13zM643 311h13v1h-13z"/>
<path fill="#f9c0c0" d="M527 76h13v3h-13zM527 79h13v1h-13zM501 80h13v3h-13zM527 80h13v3h-13zM501 83h13v1h-13zM527 83h13v1h-13zM488 84h13v2h-13zM501 84h39v2h-39zM488 86h13v1h-13zM501 86h39v1h-39zM488 87h13v1h-13zM501 87h13v1h-13zM527 87h13v1h-13zM501 88h13v3h-13zM527 88h13v3h-13zM501 91h13v2h-13zM501 93h13v1h-13zM501 94h13v1h-13zM501 95h13v1h-13zM514 95h13v1h-13zM501 96h13v3h-13zM514 96h13v3h-13zM501 99h13v1h-13zM514 99h13v1h-13zM514 100h13v2h-13zM514 102h13v1h-13zM514 103h13v3h-13zM514 106h13v1h-13zM514 107h13v1h-13zM514 108h13v1h-13zM514 109h13v2h-13zM501 111h13v1h-13zM501 112h13v1h-13zM527 113h13v3h-13zM527 116h13v1h-13zM527 117h13v2h-13zM527 119h13v2h-13zM527 121h13v3h-13zM527 124h13v1h-13zM527 125h26v2h-26zM527 134h13v2h-13zM527 136h13v1h-13zM527 137h13v2h-13zM514 139h13v1h-13zM527 139h13v1h-13zM527 190h13v1h-13zM527 191h13v2h-13zM514 230h13v1h-13zM514 231h13v2h-13zM514 233h13v1h-13z"/>
<path fill="#cf8481" d="M540 76h13v3h-13zM540 83h13v1h-13zM540 87h13v1h-13z"/>
<path fill="#c68484" d="M553 76h13v3h-13z"/>
<path fill="#c08784" d="M566 76h13v3h-13z"/>
<path fill="#451e1b" d="M592 76h12v3h-12zM579 103h13v3h-13z"/>
<path fill="#481e1e" d="M604 76h13v3h-13zM617 76h13v3h-13zM566 88h13v3h-13zM566 109h13v2h-13z"/>
<path fill="#f9eded" d="M553 79h13v1h-13zM579 96h13v3h-13zM592 96h12v3h-12zM540 119h13v2h-13zM553 121h13v3h-13zM553 131h13v1h-13zM553 184h13v1h-13zM553 188h13v2h-13zM566 197h13v2h-13zM540 216h13v1h-13zM566 236h13v1h-13zM540 250h13v1h-13z"/>
<path fill="#f9eaea" d="M566 79h13v1h-13zM553 119h13v2h-13zM566 121h13v3h-13zM566 131h13v1h-13zM553 175h13v1h-13zM566 182h13v1h-13zM566 184h13v1h-13zM579 184h13v1h-13zM579 191h13v2h-13z"/>
<path fill="#f6e7e7" d="M579 79h13v1h-13zM566 119h13v2h-13zM579 182h13v1h-13zM592 184h12v1h-12zM579 197h13v2h-13zM540 225h13v1h-13z"/>
<path fill="#f3e4e4" d="M592 79h12v1h-12zM592 121h12v3h-12zM592 210h12v3h-12z"/>
<path fill="#e7d5d2" d="M604 79h13v1h-13z"/>
<path fill="#decfcf" d="M617 79h13v1h-13zM656 148h13v1h-13zM617 227h13v1h-13zM617 274h13v1h-13zM566 315h13v2h-13zM579 359h13v1h-13zM604 360h13v1h-13zM617 373h13v1h-13zM540 374h13v2h-13zM540 392h13v2h-13z"/>
<path fill="#d5c6c6" d="M630 79h13v1h-13zM656 136h13v1h-13zM682 148h13v1h-13zM630 200h13v1h-13zM656 225h13v1h-13zM669 233h13v1h-13zM617 265h13v1h-13zM656 265h13v1h-13zM656 274h13v1h-13zM617 276h13v1h-13zM630 300h13v1h-13zM579 315h13v2h-13zM592 359h12v1h-12zM617 360h13v1h-13zM617 368h13v1h-13zM553 374h13v2h-13zM566 374h13v2h-13zM579 395h13v1h-13z"/>
<path fill="#b19f9f" d="M643 79h13v1h-13zM592 271h12v1h-12z"/>
<path fill="#a29090" d="M656 79h13v1h-13zM682 106h13v1h-13zM643 163h13v1h-13zM669 250h13v1h-13zM682 291h13v1h-13z"/>
<path fill="#938484" d="M669 79h13v1h-13zM708 233h13v1h-13zM643 276h13v1h-13zM566 345h13v1h-13zM592 345h12v1h-12zM617 394h13v1h-13z"/>
<path fill="#968787" d="M682 79h13v1h-13zM669 99h13v1h-13zM617 139h39v1h-39zM656 215h13v1h-13zM682 250h13v1h-13zM643 340h13v1h-13z"/>
<path fill="#9f4e4b" d="M540 80h13v3h-13z"/>
<path fill="#93514e" d="M553 80h13v3h-13z"/>
<path fill="#b47b78" d="M566 80h13v3h-13z"/>
<path fill="#602d2a" d="M579 80h13v3h-13z"/>
<path fill="#270f0f" d="M592 80h12v3h-12zM592 109h12v2h-12z"/>
<path fill="#3f1b18" d="M604 80h13v3h-13z"/>
<path fill="#fffcfc" d="M462 83h13v1h-13zM462 84h13v2h-13zM462 86h13v1h-13zM462 132h13v1h-13zM462 133h13v1h-13zM462 134h13v2h-13zM462 136h13v1h-13zM462 137h13v2h-13zM462 139h13v1h-13zM462 140h13v2h-13zM462 142h13v1h-13zM462 143h13v1h-13zM462 144h13v1h-13zM462 145h13v1h-13zM462 146h13v1h-13zM462 240h13v1h-13zM462 241h13v2h-13zM462 243h13v3h-13zM462 246h13v2h-13zM462 248h13v2h-13zM462 261h13v1h-13zM462 262h13v2h-13zM462 264h13v1h-13zM462 265h13v1h-13zM462 266h13v2h-13zM462 268h13v1h-13zM462 287h13v2h-13zM462 289h13v1h-13zM462 290h13v1h-13zM462 291h13v1h-13zM462 292h13v3h-13zM462 295h13v1h-13zM475 301h13v2h-13zM475 303h13v2h-13zM475 305h13v1h-13zM475 306h13v1h-13zM475 308h13v2h-13zM540 308h13v2h-13zM475 313h13v1h-13zM501 313h13v1h-13zM475 314h13v1h-13zM501 314h13v1h-13zM514 314h13v1h-13zM475 315h13v2h-13zM501 315h13v2h-13zM514 315h13v2h-13zM475 317h13v3h-13zM501 317h13v3h-13zM514 317h13v3h-13zM475 320h13v3h-13zM514 320h13v3h-13zM527 320h13v3h-13zM475 323h13v1h-13zM527 323h13v1h-13zM475 324h13v3h-13zM527 324h13v3h-13zM475 327h13v1h-13zM527 327h13v1h-13zM475 328h13v2h-13zM527 328h13v2h-13zM475 330h13v1h-13zM527 330h13v1h-13zM475 331h13v2h-13zM527 331h13v2h-13zM527 333h13v2h-13zM527 335h13v1h-13zM501 340h13v1h-13zM501 341h13v1h-13zM501 342h13v1h-13zM501 343h13v1h-13zM501 344h13v1h-13zM527 351h13v1h-13zM527 352h13v2h-13zM527 354h13v2h-13zM527 356h13v2h-13zM527 358h13v1h-13zM527 359h13v1h-13zM527 360h13v1h-13zM514 361h13v1h-13zM527 361h13v1h-13zM514 362h13v1h-13zM527 362h13v1h-13zM514 363h13v2h-13zM527 363h13v2h-13zM514 365h13v1h-13zM527 365h13v1h-13zM514 366h13v1h-13zM527 366h13v1h-13zM514 367h13v1h-13zM527 367h13v1h-13zM475 368h13v1h-13zM514 368h13v1h-13zM527 368h13v1h-13zM462 369h13v3h-13zM475 369h13v3h-13zM527 369h13v3h-13zM462 372h13v1h-13zM475 372h13v1h-13zM527 372h13v1h-13zM462 373h13v1h-13zM475 373h13v1h-13zM527 373h13v1h-13zM462 374h13v2h-13zM475 374h13v2h-13zM527 374h13v2h-13zM475 376h13v1h-13zM527 376h13v1h-13zM475 377h13v2h-13zM527 377h13v2h-13zM540 377h13v2h-13zM475 379h13v1h-13zM527 379h13v1h-13zM527 380h13v2h-13zM540 380h13v2h-13zM462 382h13v2h-13zM527 382h13v2h-13zM462 384h13v2h-13zM501 384h13v2h-13zM462 386h13v2h-13zM501 386h13v2h-13zM462 388h13v1h-13zM501 388h13v1h-13zM462 389h13v1h-13zM501 389h13v1h-13zM462 390h13v1h-13zM462 391h13v1h-13zM462 392h26v2h-26zM462 394h26v1h-26zM540 394h13v1h-13zM462 395h26v1h-26zM462 396h13v1h-13zM475 396h13v1h-13zM462 397h13v2h-13zM475 397h13v2h-13zM527 397h13v2h-13zM462 517h13v2h-13zM462 519h13v1h-13zM462 520h13v1h-13zM462 521h13v2h-13z"/>
<path fill="#cc8a87" d="M553 83h13v1h-13z"/>
<path fill="#c6908d" d="M566 83h13v1h-13z"/>
<path fill="#c39393" d="M579 83h13v1h-13z"/>
<path fill="#bd9999" d="M592 83h12v1h-12z"/>
<path fill="#ba9f9f" d="M604 83h13v1h-13z"/>
<path fill="#b4a5a5" d="M617 83h13v1h-13zM656 143h13v1h-13zM643 175h13v1h-13zM604 315h13v2h-13zM592 333h12v2h-12zM604 342h13v1h-13zM630 359h13v1h-13zM579 363h13v2h-13zM553 367h13v1h-13zM643 388h13v1h-13z"/>
<path fill="#baa8a8" d="M630 83h13v1h-13zM579 281h13v1h-13zM579 283h13v1h-13zM630 327h13v1h-13zM630 388h13v1h-13z"/>
<path fill="#b7a8a8" d="M643 83h13v1h-13zM656 83h13v1h-13zM617 136h13v1h-13zM656 227h13v1h-13zM643 250h13v1h-13zM566 313h13v1h-13zM604 330h39v1h-39zM592 342h12v1h-12zM617 397h13v2h-13z"/>
<path fill="#dbcccc" d="M669 83h13v1h-13zM682 83h13v1h-13zM656 96h13v3h-13zM617 99h13v1h-13zM630 148h13v1h-13zM630 182h13v1h-13zM617 200h13v1h-13zM643 225h13v1h-13zM695 233h13v1h-13zM656 261h13v1h-13zM604 265h13v1h-13zM643 265h13v1h-13zM630 274h13v1h-13zM643 289h13v1h-13zM630 290h13v1h-13zM592 311h12v1h-12zM553 317h13v3h-13zM643 323h13v1h-13zM592 327h12v1h-12zM553 362h13v1h-13zM604 368h13v1h-13zM579 384h13v2h-13z"/>
<path fill="#d8c9c9" d="M695 83h13v1h-13zM708 83h13v1h-13zM721 83h13v1h-13zM630 99h13v1h-13zM643 119h13v2h-13zM617 133h13v1h-13zM695 200h13v1h-13zM682 233h13v1h-13zM630 236h13v1h-13zM617 240h13v1h-13zM643 240h13v1h-13zM630 268h13v1h-13zM643 274h13v1h-13zM604 307h13v1h-13zM630 343h13v1h-13zM630 376h13v1h-13zM617 390h13v1h-13z"/>
<path fill="#f9aeae" d="M540 84h13v2h-13zM540 88h13v3h-13zM540 152h13v1h-13zM540 153h13v3h-13zM540 156h13v2h-13zM540 158h13v2h-13zM540 160h13v1h-13zM540 161h13v2h-13zM540 166h13v1h-13z"/>
<path fill="#fcf9f9" d="M553 84h13v2h-13zM553 166h13v1h-13zM579 166h13v1h-13zM579 225h13v1h-13zM540 236h13v1h-13zM553 237h13v1h-13zM540 289h13v1h-13zM553 300h13v1h-13zM540 307h13v1h-13zM553 312h13v1h-13zM566 323h13v1h-13zM540 373h13v1h-13z"/>
<path fill="#572724" d="M566 84h13v2h-13zM604 107h13v1h-13zM566 132h13v1h-13z"/>
<path fill="#391818" d="M592 84h12v2h-12zM592 112h12v1h-12zM617 121h13v3h-13z"/>
<path fill="#330f0f" d="M540 86h13v1h-13z"/>
<path fill="#150606" d="M553 86h13v1h-13z"/>
<path fill="#150909" d="M566 86h13v1h-13zM592 86h12v1h-12z"/>
<path fill="#241212" d="M579 86h13v1h-13z"/>
<path fill="#302121" d="M604 86h13v1h-13zM617 86h52v1h-52zM566 272h13v2h-13zM566 282h13v1h-13zM540 301h26v2h-26z"/>
<path fill="#fff6f6" d="M462 87h13v1h-13zM462 88h13v3h-13zM462 91h13v2h-13zM462 93h13v1h-13zM462 94h26v1h-26zM462 95h26v1h-26zM462 96h26v3h-26zM462 99h26v1h-26zM462 100h26v2h-26zM462 102h13v1h-13zM475 103h13v3h-13zM475 106h13v1h-13zM475 107h13v1h-13zM475 108h13v1h-13zM475 109h13v2h-13zM475 111h13v1h-13zM475 112h13v1h-13zM475 113h13v3h-13zM475 116h13v1h-13zM475 145h13v1h-13zM475 146h13v1h-13zM475 147h13v1h-13zM475 148h13v1h-13zM475 149h13v1h-13zM475 150h13v1h-13zM475 151h13v1h-13zM475 152h13v1h-13zM475 153h13v3h-13zM488 167h13v1h-13zM488 168h13v1h-13zM488 169h13v2h-13zM488 171h13v1h-13zM488 172h13v3h-13zM488 175h13v1h-13zM488 176h13v1h-13zM488 177h13v1h-13zM488 178h13v1h-13zM475 188h13v2h-13zM475 190h13v1h-13zM475 191h13v2h-13zM501 193h13v2h-13zM501 195h13v2h-13zM501 197h13v2h-13zM501 199h13v1h-13zM501 200h13v1h-13zM501 201h13v1h-13zM462 202h13v1h-13zM501 202h13v1h-13zM462 203h13v2h-13zM475 203h13v2h-13zM501 203h13v2h-13zM462 205h13v2h-13zM475 205h13v2h-13zM501 205h13v2h-13zM462 207h13v3h-13zM475 207h13v3h-13zM501 207h13v3h-13zM462 210h13v3h-13zM501 210h13v3h-13zM462 213h13v1h-13zM462 214h13v1h-13zM462 215h13v1h-13zM462 222h13v3h-13zM462 225h13v1h-13zM462 226h13v1h-13zM462 269h13v2h-13zM462 271h13v1h-13zM462 272h13v2h-13zM475 284h13v2h-13zM475 286h13v1h-13zM475 287h13v2h-13zM475 289h13v1h-13zM514 290h13v1h-13zM475 291h13v1h-13zM514 291h13v1h-13zM475 292h13v3h-13zM514 292h13v3h-13zM475 295h13v1h-13zM514 295h13v1h-13zM475 296h13v2h-13zM501 296h26v2h-26zM475 298h13v1h-13zM501 298h13v1h-13zM514 298h13v1h-13zM475 299h13v1h-13zM501 299h13v1h-13zM514 299h13v1h-13zM475 300h13v1h-13zM501 300h13v1h-13zM514 300h13v1h-13zM540 300h13v1h-13zM501 301h13v2h-13zM514 301h13v2h-13zM501 303h13v2h-13zM514 303h13v2h-13zM501 305h13v1h-13zM514 305h13v1h-13zM501 306h13v1h-13zM514 306h13v1h-13zM501 307h13v1h-13zM514 307h13v1h-13zM501 308h13v2h-13zM514 308h13v2h-13zM488 310h13v1h-13zM501 310h13v1h-13zM514 310h13v1h-13zM488 311h13v1h-13zM501 311h13v1h-13zM514 311h13v1h-13zM488 312h13v1h-13zM501 312h13v1h-13zM514 312h13v1h-13zM514 313h13v1h-13zM501 320h13v3h-13zM501 323h13v1h-13zM540 323h13v1h-13zM501 324h13v3h-13zM540 324h13v3h-13zM488 327h26v1h-26zM540 327h13v1h-13zM488 328h26v2h-26zM540 328h13v2h-13zM488 330h26v1h-26zM540 330h13v1h-13zM488 331h26v2h-26zM540 331h13v2h-13zM488 333h13v2h-13zM540 333h13v2h-13zM488 335h13v1h-13zM488 336h13v2h-13zM488 338h13v2h-13zM488 340h13v1h-13zM488 341h13v1h-13zM488 342h13v1h-13zM488 343h13v1h-13zM488 344h13v1h-13zM540 344h13v1h-13zM488 345h13v1h-13zM540 345h13v1h-13zM488 346h13v3h-13zM488 349h13v2h-13zM540 349h13v2h-13zM462 351h26v1h-26zM488 351h13v1h-13zM540 351h13v1h-13zM462 352h26v2h-26zM488 352h13v2h-13zM462 354h26v2h-26zM488 354h13v2h-13zM540 354h13v2h-13zM475 356h13v2h-13zM501 356h13v2h-13zM475 358h13v1h-13zM501 358h13v1h-13zM475 359h13v1h-13zM501 359h13v1h-13zM475 360h13v1h-13zM501 360h13v1h-13zM475 361h13v1h-13zM501 361h13v1h-13zM540 361h13v1h-13zM475 362h13v1h-13zM501 362h13v1h-13zM475 363h13v2h-13zM501 363h13v2h-13zM475 365h13v1h-13zM501 365h13v1h-13zM475 366h13v1h-13zM501 366h13v1h-13zM475 367h13v1h-13zM488 367h13v1h-13zM501 367h13v1h-13zM488 368h13v1h-13zM501 368h13v1h-13zM488 369h13v3h-13zM501 369h13v3h-13zM488 372h13v1h-13zM501 372h13v1h-13zM488 373h13v1h-13zM488 374h13v2h-13zM501 374h13v2h-13zM462 376h13v1h-13zM488 376h13v1h-13zM501 376h13v1h-13zM462 377h13v2h-13zM488 377h13v2h-13zM501 377h13v2h-13zM462 379h13v1h-13zM501 379h13v1h-13zM462 380h13v2h-13zM501 380h13v2h-13zM501 382h13v2h-13zM488 390h13v1h-13zM488 391h13v1h-13zM488 392h13v2h-13zM488 394h13v1h-13zM488 395h13v1h-13zM488 396h13v1h-13zM488 397h13v2h-13zM462 420h13v1h-13zM462 421h13v2h-13zM462 423h13v1h-13zM462 424h13v2h-13zM462 426h13v3h-13zM462 429h13v1h-13zM462 430h13v2h-13zM462 470h13v1h-13zM462 471h13v1h-13zM462 472h13v1h-13zM462 473h13v2h-13zM462 475h13v2h-13zM462 492h13v1h-13zM462 493h13v1h-13zM462 494h13v2h-13zM462 496h13v2h-13zM462 505h13v1h-13zM462 506h13v1h-13zM462 507h13v1h-13zM462 508h13v1h-13zM462 509h13v2h-13zM462 511h13v1h-13zM462 512h13v3h-13zM462 535h13v2h-13zM462 537h13v2h-13zM462 539h13v1h-13zM462 540h13v2h-13zM462 542h13v1h-13zM462 543h13v1h-13zM462 544h13v3h-13zM462 547h13v2h-13zM462 549h13v1h-13zM462 550h13v2h-13zM462 552h13v1h-13zM462 553h13v1h-13zM462 554h13v2h-13zM462 556h13v1h-13zM462 557h13v2h-13zM462 559h13v1h-13zM462 560h13v3h-13zM462 563h13v3h-13zM462 566h13v1h-13zM462 567h13v2h-13zM462 569h13v1h-13zM462 570h13v1h-13zM462 571h13v2h-13zM462 573h13v1h-13zM462 574h13v2h-13zM462 608h13v1h-13zM462 609h13v1h-13zM462 610h13v1h-13zM462 611h13v2h-13zM462 613h13v1h-13zM462 614h13v2h-13zM462 616h13v1h-13zM462 617h13v2h-13zM462 619h13v1h-13zM462 620h13v1h-13zM462 621h13v2h-13zM462 637h13v2h-13zM462 639h13v1h-13zM462 640h13v2h-13zM462 642h13v1h-13zM462 643h13v0.5h-13z"/>
<path fill="#fce7e7" d="M475 87h13v1h-13zM475 88h13v3h-13zM488 96h13v3h-13zM488 99h13v1h-13zM501 134h13v2h-13zM501 136h13v1h-13zM501 137h13v2h-13zM501 140h13v2h-13zM501 142h13v1h-13zM501 143h13v1h-13zM501 144h13v1h-13zM501 145h13v1h-13zM501 146h13v1h-13zM501 147h13v1h-13zM501 148h13v1h-13zM501 149h13v1h-13zM501 164h13v2h-13zM501 166h13v1h-13zM501 167h13v1h-13zM501 168h13v1h-13zM475 420h13v1h-13zM475 421h13v2h-13zM488 442h13v1h-13zM488 443h13v2h-13zM462 445h13v1h-13zM462 446h13v1h-13zM475 511h13v1h-13zM475 512h13v3h-13zM475 515h13v1h-13zM475 516h13v1h-13zM475 517h13v2h-13zM488 540h13v2h-13zM488 542h13v1h-13zM488 543h13v1h-13zM488 544h13v3h-13zM488 547h13v2h-13zM488 549h13v1h-13zM488 550h13v2h-13zM488 552h13v1h-13zM488 553h13v1h-13zM488 620h13v1h-13zM488 621h13v2h-13zM488 623h13v2h-13zM488 625h13v3h-13zM488 628h13v3h-13zM488 631h13v1h-13zM488 632h13v1h-13zM488 633h13v1h-13zM488 634h13v2h-13zM488 636h13v1h-13z"/>
<path fill="#f9b7b4" d="M514 87h13v1h-13zM514 88h13v3h-13zM514 91h13v2h-13zM514 93h13v1h-13zM514 94h13v1h-13z"/>
<path fill="#dba2a2" d="M553 87h13v1h-13z"/>
<path fill="#d5a5a2" d="M566 87h13v1h-13z"/>
<path fill="#cfa5a5" d="M579 87h13v1h-13z"/>
<path fill="#c9a8a8" d="M592 87h12v1h-12z"/>
<path fill="#c3aba8" d="M604 87h13v1h-13z"/>
<path fill="#c6b7b7" d="M617 87h13v1h-13zM630 87h13v1h-13zM630 127h13v1h-13zM617 131h26v1h-26zM643 133h13v1h-13zM617 193h13v2h-13zM630 193h13v2h-13zM643 193h13v2h-13zM682 225h13v1h-13zM708 240h13v1h-13zM656 290h13v1h-13zM630 307h13v1h-13zM540 313h13v1h-13zM566 342h13v1h-13zM656 343h13v1h-13zM604 397h13v2h-13z"/>
<path fill="#c3b4b4" d="M643 87h13v1h-13zM617 102h13v1h-13zM630 102h13v1h-13zM630 227h13v1h-13zM656 236h13v1h-13zM630 237h13v1h-13zM656 300h13v1h-13zM553 313h13v1h-13zM617 327h13v1h-13zM553 330h13v1h-13zM579 342h13v1h-13zM643 354h13v2h-13zM579 362h13v1h-13zM656 368h13v1h-13zM566 372h13v1h-13z"/>
<path fill="#c0aeae" d="M656 87h13v1h-13zM617 215h13v1h-13zM643 227h13v1h-13zM656 268h13v1h-13zM579 271h13v1h-13zM592 315h12v2h-12zM579 317h13v3h-13zM579 380h13v2h-13z"/>
<path fill="#f9cfcf" d="M488 88h13v3h-13zM488 91h13v2h-13zM488 93h13v1h-13zM488 94h13v1h-13zM488 95h13v1h-13zM501 150h13v1h-13zM501 151h13v1h-13zM501 152h13v1h-13zM540 195h13v2h-13zM540 197h13v2h-13zM540 202h13v1h-13zM540 203h13v2h-13zM553 213h13v1h-13zM540 215h13v1h-13zM540 217h13v1h-13zM540 222h26v3h-26zM540 226h13v1h-13zM540 229h13v1h-13zM540 230h13v1h-13zM540 231h13v2h-13zM488 233h13v1h-13zM488 234h13v2h-13zM540 234h13v2h-13zM488 236h13v1h-13zM488 237h13v1h-13zM488 238h13v2h-13zM540 238h13v2h-13zM488 240h13v1h-13zM540 240h13v1h-13zM488 241h13v2h-13zM540 241h13v2h-13zM540 243h13v3h-13zM475 250h13v1h-13zM475 251h13v1h-13zM475 252h13v1h-13zM475 253h13v3h-13zM475 256h13v2h-13zM475 258h13v1h-13zM475 259h13v2h-13zM475 261h13v1h-13zM475 262h13v2h-13zM475 264h13v1h-13zM475 399h13v2h-13zM475 401h13v1h-13zM475 417h13v1h-13zM475 418h13v2h-13zM527 560h13v3h-13zM527 563h13v3h-13zM527 566h13v1h-13zM527 567h13v2h-13zM527 569h13v1h-13zM501 576h13v1h-13zM501 577h13v2h-13zM501 579h13v1h-13zM501 580h13v2h-13zM501 582h13v2h-13zM488 600h13v2h-13zM488 602h13v1h-13zM488 603h13v1h-13zM488 604h13v1h-13zM488 605h13v2h-13zM488 607h13v1h-13zM488 608h13v1h-13zM488 609h13v1h-13zM488 610h13v1h-13zM488 611h13v2h-13zM488 613h13v1h-13zM514 617h13v2h-13zM514 619h13v1h-13zM514 620h13v1h-13z"/>
<path fill="#eac0bd" d="M553 88h13v3h-13zM553 116h13v1h-13z"/>
<path fill="#fcf3f3" d="M475 91h13v2h-13zM475 93h13v1h-13zM475 117h13v2h-13zM475 119h13v2h-13zM475 121h13v3h-13zM540 121h13v3h-13zM475 124h13v1h-13zM475 125h13v2h-13zM566 125h13v2h-13zM579 125h13v2h-13zM475 127h13v1h-13zM475 128h13v3h-13zM475 131h13v1h-13zM475 132h13v1h-13zM566 166h13v1h-13zM553 178h13v1h-13zM488 190h13v1h-13zM488 191h13v2h-13zM488 197h13v2h-13zM488 199h13v1h-13zM488 200h13v1h-13zM488 201h13v1h-13zM488 202h13v1h-13zM488 203h13v2h-13zM488 205h13v2h-13zM488 207h13v3h-13zM488 210h13v3h-13zM488 213h13v1h-13zM501 213h13v1h-13zM488 214h13v1h-13zM501 214h13v1h-13zM488 215h13v1h-13zM501 215h13v1h-13zM488 216h13v1h-13zM501 216h13v1h-13zM488 217h13v1h-13zM553 217h13v1h-13zM566 237h13v1h-13zM514 262h13v2h-13zM514 264h13v1h-13zM475 265h13v1h-13zM514 265h13v1h-13zM475 266h13v2h-13zM514 266h13v2h-13zM475 268h13v1h-13zM514 268h13v1h-13zM475 269h13v2h-13zM514 269h13v2h-13zM475 271h13v1h-13zM514 271h13v1h-13zM475 272h13v2h-13zM475 274h13v1h-13zM475 275h13v1h-13zM475 276h13v1h-13zM475 277h13v2h-13zM475 279h13v2h-13zM475 281h13v1h-13zM475 282h13v1h-13zM475 283h13v1h-13zM488 292h13v3h-13zM501 292h13v3h-13zM488 295h13v1h-13zM540 335h13v1h-13zM527 336h13v2h-13zM527 338h26v2h-26zM527 340h13v1h-13zM527 341h13v1h-13zM527 342h26v1h-26zM540 343h13v1h-13zM475 380h13v2h-13zM475 382h13v2h-13zM540 382h13v2h-13zM475 384h13v2h-13zM475 386h13v2h-13zM475 388h13v1h-13zM540 388h13v1h-13zM475 389h13v1h-13zM540 389h13v1h-13zM475 390h13v1h-13zM462 432h13v1h-13zM462 433h13v1h-13zM462 434h13v2h-13zM462 436h13v3h-13zM462 439h13v1h-13zM462 440h13v2h-13zM462 442h13v1h-13zM462 443h13v2h-13zM475 470h13v1h-13zM475 471h13v1h-13zM475 472h13v1h-13zM475 473h13v2h-13zM475 475h13v2h-13zM462 523h13v1h-13zM462 524h13v2h-13zM462 526h13v1h-13zM462 527h13v2h-13zM462 529h13v1h-13zM462 530h13v1h-13zM462 531h13v1h-13zM462 532h13v1h-13zM462 533h13v1h-13zM462 534h13v1h-13zM462 591h13v2h-13zM462 593h13v1h-13zM462 594h13v1h-13zM462 595h13v3h-13zM462 598h13v2h-13zM462 600h13v2h-13zM462 602h13v1h-13z"/>
<path fill="#f9c6c6" d="M527 91h13v2h-13zM527 93h13v1h-13zM527 94h13v1h-13zM527 95h13v1h-13zM553 111h13v1h-13zM514 128h13v3h-13zM514 131h13v1h-13zM514 132h13v1h-13zM514 133h13v1h-13zM514 134h13v2h-13zM514 136h13v1h-13zM514 137h13v2h-13zM527 147h13v1h-13zM527 148h13v1h-13zM527 149h13v1h-13zM527 150h13v1h-13zM527 151h13v1h-13zM527 152h13v1h-13zM527 153h13v3h-13zM527 156h13v2h-13zM488 218h13v1h-13zM514 218h13v1h-13zM514 219h13v3h-13zM514 222h13v3h-13zM514 225h13v1h-13zM514 226h13v1h-13zM514 227h13v1h-13zM514 228h13v1h-13zM514 229h13v1h-13zM475 231h13v2h-13zM475 233h13v1h-13zM475 234h13v2h-13zM488 251h13v1h-13zM514 251h13v1h-13zM488 252h13v1h-13zM514 252h13v1h-13zM488 253h13v3h-13zM514 253h13v3h-13zM488 256h13v2h-13zM514 256h13v2h-13zM501 266h13v2h-13zM488 275h13v1h-13zM488 277h13v2h-13zM488 279h13v2h-13zM488 281h13v1h-13zM488 282h13v1h-13zM488 283h13v1h-13zM514 283h13v1h-13zM514 284h13v2h-13zM475 479h13v3h-13zM475 482h13v1h-13zM475 483h13v2h-13zM488 557h13v2h-13zM488 559h13v1h-13zM488 560h13v3h-13zM488 563h13v3h-13zM488 566h13v1h-13zM488 567h13v2h-13zM488 569h13v1h-13zM488 570h13v1h-13zM488 571h13v2h-13zM488 573h13v1h-13zM488 574h13v2h-13zM488 576h13v1h-13zM488 577h13v2h-13zM488 579h13v1h-13zM488 580h13v2h-13z"/>
<path fill="#edc0c0" d="M540 91h13v2h-13zM553 143h13v1h-13z"/>
<path fill="#f9e1e1" d="M540 93h13v1h-13zM540 163h13v1h-13z"/>
<path fill="#f3dbdb" d="M553 93h13v1h-13zM540 228h13v1h-13zM540 246h13v2h-13z"/>
<path fill="#f0d5d5" d="M566 93h13v1h-13zM566 99h13v1h-13zM566 146h13v1h-13zM579 148h13v1h-13zM553 240h13v1h-13zM553 246h13v2h-13z"/>
<path fill="#edcfcf" d="M579 93h13v1h-13zM566 94h13v1h-13zM579 133h13v1h-13zM579 146h13v1h-13zM553 210h13v3h-13z"/>
<path fill="#e7cccc" d="M592 93h12v1h-12zM592 133h12v1h-12z"/>
<path fill="#dec6c6" d="M604 93h13v1h-13zM604 143h13v1h-13z"/>
<path fill="#d2c3c3" d="M617 93h13v1h-13zM617 143h13v1h-13zM630 146h13v1h-13zM669 148h13v1h-13zM617 164h13v2h-13zM643 179h13v2h-13zM643 182h13v1h-13zM708 200h13v1h-13zM643 217h13v1h-13zM695 240h13v1h-13zM630 276h13v1h-13zM656 289h13v1h-13zM643 290h13v1h-13zM566 320h13v3h-13zM604 327h13v1h-13zM630 390h13v1h-13zM592 397h12v2h-12z"/>
<path fill="#c9b7b7" d="M630 93h13v1h-13zM656 217h13v1h-13zM579 259h13v2h-13zM579 264h13v1h-13zM592 284h12v2h-12zM669 289h13v1h-13zM579 298h25v1h-25zM566 330h38v1h-38z"/>
<path fill="#bdaeae" d="M643 93h13v1h-13zM656 133h13v1h-13zM721 240h13v1h-13zM617 283h13v1h-13zM682 289h13v1h-13zM604 298h13v1h-13zM617 298h13v1h-13zM643 307h13v1h-13zM617 388h13v1h-13z"/>
<path fill="#b1a2a2" d="M656 93h13v1h-13zM630 136h13v1h-13zM617 179h13v2h-13zM630 215h13v1h-13zM643 237h13v1h-13zM656 283h13v1h-13zM656 307h13v1h-13zM721 330h13v1h-13zM540 340h13v1h-13zM656 362h13v1h-13zM553 377h13v2h-13zM656 388h13v1h-13z"/>
<path fill="#f3d5d5" d="M553 94h13v1h-13z"/>
<path fill="#331212" d="M579 94h13v1h-13z"/>
<path fill="#3c1818" d="M592 94h12v1h-12zM630 125h13v2h-13z"/>
<path fill="#c97e7b" d="M540 95h13v1h-13z"/>
<path fill="#c3817e" d="M553 95h13v1h-13z"/>
<path fill="#bd8484" d="M566 95h13v1h-13z"/>
<path fill="#b78a87" d="M579 95h13v1h-13z"/>
<path fill="#f0dede" d="M592 95h12v1h-12zM592 99h12v1h-12zM592 119h12v2h-12zM566 225h13v1h-13z"/>
<path fill="#eadbdb" d="M604 95h13v1h-13zM604 96h13v3h-13zM604 119h13v2h-13zM604 125h13v2h-13zM604 197h13v2h-13zM604 217h13v1h-13zM604 225h13v1h-13zM604 237h13v1h-13zM604 246h13v2h-13zM553 265h13v1h-13zM579 274h13v1h-13zM579 290h13v1h-13zM604 300h13v1h-13z"/>
<path fill="#eadede" d="M617 95h13v1h-13zM630 144h13v1h-13zM656 184h13v1h-13zM643 197h13v2h-13zM617 233h13v1h-13zM656 240h13v1h-13zM604 256h13v2h-13zM643 256h13v2h-13zM604 261h13v1h-13zM630 261h13v1h-13zM617 264h13v1h-13zM604 268h13v1h-13zM604 286h13v1h-13zM604 289h13v1h-13zM604 312h13v1h-13zM604 323h13v1h-13zM579 335h13v1h-13zM566 349h13v2h-13zM592 354h12v2h-12zM604 356h13v2h-13zM566 359h13v1h-13zM579 360h13v1h-13zM553 363h13v2h-13zM604 376h13v1h-13zM553 380h13v2h-13zM579 390h13v1h-13zM656 390h13v1h-13z"/>
<path fill="#e7dbdb" d="M630 95h13v1h-13zM643 95h13v1h-13zM682 95h13v1h-13zM617 96h13v3h-13zM643 144h13v1h-13zM643 148h13v1h-13zM617 184h13v1h-13zM630 197h13v2h-13zM643 200h13v1h-13zM617 256h13v2h-13zM656 256h13v2h-13zM630 264h13v1h-13zM592 274h12v1h-12zM540 315h13v2h-13zM540 317h13v3h-13zM540 320h13v3h-13zM579 349h13v2h-13zM566 363h13v2h-13zM604 373h13v1h-13z"/>
<path fill="#e7d8d8" d="M656 95h13v1h-13zM617 119h13v2h-13zM617 144h13v1h-13zM656 144h13v1h-13zM617 148h13v1h-13zM617 225h13v1h-13zM630 233h13v1h-13zM604 236h13v1h-13zM617 246h13v2h-13zM566 265h13v1h-13zM579 311h13v1h-13zM617 323h13v1h-13zM592 343h25v1h-25zM617 356h13v2h-13zM592 360h12v1h-12zM540 362h13v1h-13zM566 384h13v2h-13zM592 390h12v1h-12z"/>
<path fill="#e4d8d8" d="M669 95h13v1h-13zM630 96h13v3h-13zM617 182h13v1h-13zM630 184h13v1h-13zM656 200h13v1h-13zM617 217h13v1h-13zM669 240h13v1h-13zM630 256h13v2h-13zM617 261h13v1h-13zM617 289h13v1h-13zM630 289h13v1h-13zM553 315h13v2h-13zM592 335h12v1h-12zM579 368h13v1h-13zM566 380h13v2h-13z"/>
<path fill="#f9baba" d="M527 96h13v3h-13zM527 99h13v1h-13zM527 100h13v2h-13zM540 108h13v1h-13zM540 109h13v2h-13zM540 111h13v1h-13zM540 113h13v3h-13zM540 117h13v2h-13zM540 177h13v1h-13zM540 178h13v1h-13zM540 179h13v2h-13zM540 181h13v1h-13zM540 182h13v1h-13zM488 424h13v2h-13zM488 426h13v3h-13zM488 429h13v1h-13zM488 430h13v2h-13zM488 432h13v1h-13zM488 433h13v1h-13z"/>
<path fill="#fcf0f0" d="M553 96h13v3h-13zM553 125h13v2h-13zM488 140h13v2h-13zM488 142h13v1h-13zM488 143h13v1h-13zM488 144h13v1h-13zM488 145h13v1h-13zM553 145h13v1h-13zM488 146h13v1h-13zM488 147h13v1h-13zM488 149h13v1h-13zM488 150h13v1h-13zM488 151h13v1h-13zM488 152h13v1h-13zM488 153h13v3h-13zM488 156h13v2h-13zM488 158h13v2h-13zM488 161h13v2h-13zM488 163h13v1h-13zM488 164h13v2h-13zM488 166h13v1h-13zM488 179h13v2h-13zM488 181h13v1h-13zM488 182h13v1h-13zM488 183h13v1h-13zM488 184h13v1h-13zM488 185h13v2h-13zM488 187h13v1h-13zM488 188h13v2h-13zM514 193h13v2h-13zM514 195h13v2h-13zM514 197h13v2h-13zM514 199h13v1h-13zM514 200h13v1h-13zM514 201h13v1h-13zM514 202h13v1h-13zM514 214h13v1h-13zM514 215h13v1h-13zM514 216h13v1h-13zM501 217h13v1h-13zM514 217h13v1h-13zM462 227h13v1h-13zM462 228h13v1h-13zM462 229h13v1h-13zM462 230h13v1h-13zM462 231h13v2h-13zM462 233h13v1h-13zM527 250h13v1h-13zM527 251h13v1h-13zM527 252h13v1h-13zM527 253h13v3h-13zM527 256h13v2h-13zM527 258h13v1h-13zM527 259h13v2h-13zM527 261h13v1h-13zM540 261h13v1h-13zM540 262h13v2h-13zM488 264h13v1h-13zM488 265h13v1h-13zM488 266h13v2h-13zM488 268h13v1h-13zM540 268h13v1h-13zM488 269h13v2h-13zM540 269h13v2h-13zM488 271h13v1h-13zM488 272h13v2h-13zM540 272h13v2h-13zM488 274h13v1h-13zM540 275h13v1h-13zM462 399h13v2h-13zM462 401h13v1h-13zM462 402h13v1h-13zM462 403h13v1h-13zM462 404h13v3h-13zM462 411h13v1h-13zM462 412h13v1h-13zM462 413h13v1h-13zM462 414h13v2h-13zM462 477h13v1h-13zM475 477h13v1h-13zM462 478h13v1h-13zM475 478h13v1h-13zM462 479h13v3h-13zM462 482h13v1h-13zM462 483h13v2h-13zM462 485h13v1h-13zM462 486h13v2h-13zM462 488h13v1h-13zM462 489h13v2h-13zM462 491h13v1h-13zM462 498h13v1h-13zM462 499h13v1h-13zM462 500h13v3h-13zM462 503h13v2h-13zM475 529h13v1h-13zM475 530h13v1h-13zM475 531h13v1h-13zM475 532h13v1h-13zM475 533h13v1h-13zM475 534h13v1h-13zM475 550h13v2h-13zM475 552h13v1h-13zM475 553h13v1h-13zM475 554h13v2h-13zM475 556h13v1h-13zM475 623h13v2h-13zM475 625h13v3h-13zM475 628h13v3h-13zM475 631h13v1h-13zM475 632h13v1h-13zM475 633h13v1h-13zM475 634h13v2h-13zM475 636h13v1h-13zM475 637h13v2h-13zM475 639h13v1h-13zM475 640h13v2h-13zM475 642h13v1h-13zM475 643h13v0.5h-13z"/>
<path fill="#f9f0f0" d="M566 96h13v3h-13zM579 188h13v2h-13zM566 217h13v1h-13zM553 236h13v1h-13zM553 286h13v1h-13zM553 287h13v2h-13zM553 290h13v1h-13zM579 312h13v1h-13zM566 373h13v1h-13z"/>
<path fill="#e1d2d2" d="M643 96h13v3h-13zM630 119h13v2h-13zM695 148h13v1h-13zM669 200h13v1h-13zM630 240h13v1h-13zM630 246h13v2h-13zM604 264h13v1h-13zM592 265h12v1h-12zM630 265h13v1h-13zM604 274h13v1h-13zM604 276h13v1h-13zM617 300h13v1h-13zM553 320h13v3h-13zM553 338h13v2h-13zM617 343h13v1h-13zM592 368h12v1h-12zM604 390h13v1h-13zM643 390h13v1h-13zM579 397h13v2h-13z"/>
<path fill="#f6e1e1" d="M553 99h13v1h-13zM553 117h13v2h-13zM540 127h13v1h-13zM553 153h13v3h-13zM566 185h13v2h-13zM540 214h13v1h-13zM540 233h13v1h-13z"/>
<path fill="#f3e1e1" d="M579 99h13v1h-13zM592 182h12v1h-12zM553 225h13v1h-13zM579 236h13v1h-13z"/>
<path fill="#e7d5d5" d="M604 99h13v1h-13zM540 264h13v1h-13z"/>
<path fill="#c9baba" d="M643 99h13v1h-13zM630 143h13v1h-13zM643 146h13v1h-13zM592 258h12v1h-12zM643 335h13v1h-13zM553 342h13v1h-13zM643 368h13v1h-13zM643 376h13v1h-13zM592 388h12v1h-12z"/>
<path fill="#ab9999" d="M656 99h13v1h-13zM656 106h13v1h-13zM617 315h13v2h-13z"/>
<path fill="#847272" d="M682 99h13v1h-13zM682 261h13v1h-13zM579 310h13v1h-13zM656 394h13v1h-13z"/>
<path fill="#6c5a5a" d="M695 99h13v1h-13zM643 205h13v2h-13z"/>
<path fill="#fcdede" d="M488 100h13v2h-13zM488 102h13v1h-13zM488 103h13v3h-13zM488 106h13v1h-13zM488 108h13v1h-13zM488 109h13v2h-13zM488 111h13v1h-13zM488 112h13v1h-13zM514 140h13v2h-13zM514 142h13v1h-13zM514 143h13v1h-13zM514 144h13v1h-13zM514 145h13v1h-13zM514 146h13v1h-13zM514 147h13v1h-13zM514 148h13v1h-13zM514 149h13v1h-13zM514 150h13v1h-13zM514 151h13v1h-13zM514 152h13v1h-13zM514 153h13v3h-13zM514 156h13v2h-13zM514 164h13v2h-13zM514 166h13v1h-13zM514 167h13v1h-13zM514 182h13v1h-13zM514 183h13v1h-13zM514 184h13v1h-13zM514 185h13v2h-13zM514 187h13v1h-13zM514 188h13v2h-13zM514 190h13v1h-13zM514 191h13v2h-13zM475 454h13v2h-13zM475 456h13v1h-13zM475 457h13v2h-13zM475 459h13v1h-13zM475 460h13v1h-13zM475 462h13v1h-13zM501 544h13v3h-13zM501 547h13v2h-13zM501 549h13v1h-13zM501 550h13v2h-13zM501 552h13v1h-13zM501 553h13v1h-13zM501 554h13v2h-13zM501 611h13v2h-13zM501 613h13v1h-13zM501 614h13v2h-13zM501 616h13v1h-13zM501 617h13v2h-13zM501 619h13v1h-13z"/>
<path fill="#f9c3c3" d="M501 100h13v2h-13zM501 102h13v1h-13zM501 103h13v3h-13zM501 106h13v1h-13zM501 108h13v1h-13zM501 109h13v2h-13zM475 236h13v1h-13zM475 237h13v1h-13zM475 238h13v2h-13zM475 240h13v1h-13zM475 241h13v2h-13zM475 243h13v3h-13zM475 246h13v2h-13zM475 248h13v2h-13zM501 567h13v2h-13zM501 569h13v1h-13zM501 570h13v1h-13zM501 571h13v2h-13zM501 573h13v1h-13zM501 574h13v2h-13zM527 595h13v3h-13zM527 598h13v2h-13z"/>
<path fill="#a85754" d="M540 100h13v2h-13z"/>
<path fill="#572424" d="M553 100h13v2h-13zM630 121h13v3h-13z"/>
<path fill="#632d2d" d="M566 100h13v2h-13zM604 112h13v1h-13z"/>
<path fill="#9f7878" d="M475 102h13v1h-13z"/>
<path fill="#d59999" d="M553 102h13v1h-13z"/>
<path fill="#d29f9f" d="M566 102h13v1h-13z"/>
<path fill="#cfa5a2" d="M579 102h13v1h-13z"/>
<path fill="#ccaba8" d="M592 102h12v1h-12z"/>
<path fill="#c9aeae" d="M604 102h13v1h-13z"/>
<path fill="#ae9c9c" d="M656 102h13v1h-13zM630 166h13v1h-13zM617 250h13v1h-13zM630 281h13v1h-13zM643 327h13v1h-13zM553 333h13v2h-13zM540 336h13v2h-13zM553 361h13v1h-13zM579 377h13v2h-13z"/>
<path fill="#f3d2d2" d="M540 103h13v3h-13zM540 132h13v1h-13zM553 142h13v1h-13z"/>
<path fill="#4b2121" d="M566 103h13v3h-13z"/>
<path fill="#a2514e" d="M540 106h13v1h-13z"/>
<path fill="#995454" d="M553 106h13v1h-13z"/>
<path fill="#9c6969" d="M579 106h13v1h-13z"/>
<path fill="#7b5a57" d="M592 106h12v1h-12z"/>
<path fill="#725a5a" d="M604 106h13v1h-13z"/>
<path fill="#4e3f3f" d="M617 106h13v1h-13zM617 150h13v1h-13zM630 190h39v1h-39zM643 271h13v1h-13zM592 303h12v2h-12zM604 313h13v1h-13zM630 333h13v2h-13zM656 356h13v2h-13zM630 367h13v1h-13zM579 374h13v2h-13z"/>
<path fill="#483939" d="M630 106h13v1h-13zM669 124h13v1h-13zM630 150h13v1h-13zM617 171h13v1h-13zM630 187h13v1h-13zM630 313h13v1h-13zM643 313h13v1h-13zM579 324h13v3h-13zM630 356h13v2h-13zM579 386h13v2h-13z"/>
<path fill="#6f6060" d="M643 106h13v1h-13zM656 230h13v1h-13zM630 310h13v1h-13zM617 367h13v1h-13z"/>
<path fill="#a59696" d="M669 106h13v1h-13zM695 139h39v1h-39zM617 142h13v1h-13zM604 281h13v1h-13zM669 307h13v1h-13zM656 335h13v1h-13zM540 358h13v1h-13zM553 388h13v1h-13zM566 394h13v1h-13zM630 397h13v2h-13z"/>
<path fill="#423333" d="M695 106h13v1h-13zM643 108h13v1h-13zM643 116h13v1h-13zM682 124h26v1h-26zM643 150h13v1h-13zM630 171h13v1h-13zM566 295h26v1h-26zM566 331h13v2h-13zM579 344h13v1h-13zM643 349h13v2h-13z"/>
<path fill="#120c0c" d="M708 106h26v1h-26zM656 177h13v1h-13zM682 218h39v1h-39zM592 295h25v1h-25zM617 295h13v1h-13zM630 301h39v2h-39zM604 303h13v2h-13zM708 311h26v1h-26zM617 314h13v1h-13zM708 397h26v2h-26z"/>
<path fill="#966c6c" d="M488 107h13v1h-13zM514 323h13v1h-13z"/>
<path fill="#633f3f" d="M501 107h13v1h-13z"/>
<path fill="#8d6666" d="M527 107h13v1h-13z"/>
<path fill="#d89390" d="M540 107h13v1h-13z"/>
<path fill="#d29390" d="M553 107h13v1h-13z"/>
<path fill="#c38d8a" d="M566 107h13v1h-13z"/>
<path fill="#5d2a27" d="M579 107h13v1h-13z"/>
<path fill="#3f1818" d="M617 107h13v1h-13zM579 109h13v2h-13zM566 149h13v1h-13zM592 151h12v1h-12z"/>
<path fill="#301212" d="M553 108h13v1h-13zM566 172h13v3h-13z"/>
<path fill="#301515" d="M566 108h13v1h-13z"/>
<path fill="#2d1818" d="M579 108h13v1h-13zM592 108h12v1h-12z"/>
<path fill="#2a1b1b" d="M604 108h13v1h-13z"/>
<path fill="#2a1e1e" d="M617 108h13v1h-13zM643 286h13v1h-13zM682 298h13v1h-13zM695 298h13v1h-13zM708 298h13v1h-13zM566 301h13v2h-13zM617 303h13v2h-13zM592 320h12v3h-12zM540 386h13v2h-13zM592 396h12v1h-12z"/>
<path fill="#150f0f" d="M630 108h13v1h-13z"/>
<path fill="#1e1212" d="M656 108h52v1h-52zM656 187h13v1h-13zM643 259h13v2h-13zM566 262h13v2h-13zM579 296h13v2h-13zM579 361h13v1h-13z"/>
<path fill="#ab6663" d="M553 109h13v2h-13z"/>
<path fill="#2d1212" d="M566 111h13v1h-13z"/>
<path fill="#2a1515" d="M579 111h13v1h-13zM579 207h13v3h-13zM553 219h13v3h-13z"/>
<path fill="#2a1818" d="M592 111h12v1h-12z"/>
<path fill="#211515" d="M604 111h13v1h-13zM643 177h13v1h-13zM579 269h13v2h-13zM566 382h13v2h-13z"/>
<path fill="#211818" d="M617 111h39v1h-39z"/>
<path fill="#7b6969" d="M656 111h13v1h-13zM592 310h12v1h-12zM630 345h13v1h-13z"/>
<path fill="#f0c9c9" d="M540 112h13v1h-13z"/>
<path fill="#edc6c6" d="M553 112h13v1h-13z"/>
<path fill="#eac6c6" d="M566 112h13v1h-13zM579 142h13v1h-13zM579 163h13v1h-13zM540 227h13v1h-13z"/>
<path fill="#fcdbdb" d="M488 113h13v3h-13zM488 116h13v1h-13zM488 117h13v2h-13zM488 119h13v2h-13zM488 121h13v3h-13zM488 124h13v1h-13zM488 125h13v2h-13zM488 127h13v1h-13zM488 128h13v3h-13zM488 131h13v1h-13zM488 132h13v1h-13zM488 134h13v2h-13zM488 136h13v1h-13zM488 137h13v2h-13zM488 139h13v1h-13z"/>
<path fill="#fce4e4" d="M501 113h13v3h-13zM501 116h13v1h-13zM501 117h13v2h-13zM501 119h13v2h-13zM501 121h13v3h-13zM501 124h13v1h-13zM501 125h13v2h-13zM501 127h13v1h-13zM501 128h13v3h-13zM501 131h13v1h-13zM501 132h13v1h-13zM501 133h13v1h-13zM514 178h13v1h-13zM514 179h13v2h-13zM514 181h13v1h-13zM475 423h13v1h-13zM475 424h13v2h-13zM475 426h13v3h-13zM475 429h13v1h-13zM488 434h13v2h-13zM488 436h13v3h-13zM488 439h13v1h-13zM488 440h13v2h-13zM488 530h13v1h-13zM488 531h13v1h-13zM488 532h13v1h-13zM488 533h13v1h-13zM488 534h13v1h-13zM488 535h13v2h-13zM488 537h13v2h-13zM488 539h13v1h-13zM475 573h13v1h-13zM475 574h13v2h-13zM475 576h13v1h-13zM475 577h13v2h-13zM475 579h13v1h-13zM488 584h13v2h-13zM488 586h13v1h-13zM488 587h13v3h-13zM488 614h13v2h-13zM488 616h13v1h-13zM488 617h13v2h-13zM488 619h13v1h-13zM488 643h13v0.5h-13z"/>
<path fill="#cc8a8a" d="M553 113h13v3h-13z"/>
<path fill="#dbabab" d="M566 113h13v3h-13z"/>
<path fill="#d8b1ae" d="M579 113h13v3h-13z"/>
<path fill="#d5b4b4" d="M592 113h12v3h-12z"/>
<path fill="#d2baba" d="M604 113h13v3h-13zM604 131h13v1h-13z"/>
<path fill="#baabab" d="M617 113h13v3h-13zM656 127h13v1h-13zM643 131h13v1h-13zM643 142h13v1h-13zM617 166h13v1h-13zM630 283h13v1h-13zM540 367h13v1h-13z"/>
<path fill="#7e6f6f" d="M630 113h13v3h-13zM630 168h13v1h-13zM656 276h13v1h-13zM592 365h12v1h-12zM592 367h12v1h-12z"/>
<path fill="#f0c9c6" d="M540 116h13v1h-13z"/>
<path fill="#e1b4b4" d="M566 116h13v1h-13z"/>
<path fill="#d5aeab" d="M579 116h13v1h-13z"/>
<path fill="#c9a5a5" d="M592 116h12v1h-12zM592 144h12v1h-12z"/>
<path fill="#b79c9c" d="M604 116h13v1h-13z"/>
<path fill="#695a5a" d="M617 116h13v1h-13zM630 365h13v1h-13z"/>
<path fill="#574545" d="M630 116h13v1h-13zM630 152h13v1h-13z"/>
<path fill="#2d2121" d="M656 116h13v1h-13zM604 202h13v1h-13zM617 202h78v1h-78zM592 292h12v3h-12zM656 298h13v1h-13zM579 301h13v2h-13zM617 328h13v2h-13zM579 338h13v2h-13zM566 352h13v2h-13zM540 391h64v1h-64zM604 391h65v1h-65z"/>
<path fill="#542424" d="M566 117h13v2h-13z"/>
<path fill="#512121" d="M579 117h13v2h-13zM566 167h13v1h-13z"/>
<path fill="#f3e4e1" d="M579 119h13v2h-13z"/>
<path fill="#cfc0c0" d="M656 119h13v2h-13zM630 133h13v1h-13zM617 290h13v1h-13zM617 307h13v1h-13zM604 311h13v1h-13zM643 343h13v1h-13zM617 349h13v2h-13zM630 354h13v2h-13zM566 362h13v1h-13zM630 368h13v1h-13zM592 372h12v1h-12zM604 372h13v1h-13zM630 373h13v1h-13zM643 373h13v1h-13z"/>
<path fill="#f6eaea" d="M579 121h13v3h-13zM592 125h12v2h-12zM579 210h13v3h-13zM579 246h13v2h-13zM540 284h13v2h-13z"/>
<path fill="#b46663" d="M540 124h13v1h-13z"/>
<path fill="#c07b7b" d="M553 124h13v1h-13z"/>
<path fill="#b77e7e" d="M566 124h13v1h-13zM540 205h13v2h-13z"/>
<path fill="#b18181" d="M579 124h13v1h-13z"/>
<path fill="#937878" d="M604 124h13v1h-13z"/>
<path fill="#8a7b7b" d="M617 124h13v1h-13zM643 258h13v1h-13z"/>
<path fill="#847575" d="M630 124h13v1h-13zM656 124h13v1h-13zM617 168h13v1h-13zM579 365h13v1h-13z"/>
<path fill="#8a7878" d="M643 124h13v1h-13zM643 394h13v1h-13z"/>
<path fill="#3c3030" d="M708 124h13v1h-13zM656 152h13v1h-13zM553 324h13v3h-13zM592 380h12v2h-12zM592 382h12v2h-12z"/>
<path fill="#392a2a" d="M721 124h13v1h-13zM566 269h13v2h-13zM604 317h13v3h-13zM630 351h13v1h-13zM579 382h13v2h-13z"/>
<path fill="#5a2727" d="M617 125h13v2h-13z"/>
<path fill="#664242" d="M514 127h13v1h-13z"/>
<path fill="#f9b4b4" d="M527 127h13v1h-13zM527 128h13v3h-13zM527 131h13v1h-13zM527 132h13v1h-13zM527 133h13v1h-13zM540 144h13v1h-13zM540 145h13v1h-13zM540 146h13v1h-13z"/>
<path fill="#f6dbdb" d="M553 127h13v1h-13zM553 163h13v1h-13z"/>
<path fill="#f3d8d8" d="M566 127h13v1h-13zM553 133h13v1h-13z"/>
<path fill="#f0d8d8" d="M579 127h13v1h-13zM566 233h13v1h-13zM553 250h13v1h-13z"/>
<path fill="#dbbdbd" d="M592 127h12v1h-12z"/>
<path fill="#d5bdbd" d="M604 127h13v1h-13zM592 215h12v1h-12z"/>
<path fill="#ccbdbd" d="M617 127h13v1h-13zM617 175h13v1h-13zM721 200h13v1h-13zM669 225h13v1h-13zM643 236h13v1h-13zM643 268h13v1h-13zM604 271h13v1h-13zM643 300h13v1h-13zM566 317h13v3h-13zM617 335h13v1h-13zM617 342h13v1h-13zM604 349h13v2h-13zM617 372h13v1h-13z"/>
<path fill="#e4aeab" d="M540 128h13v3h-13z"/>
<path fill="#deaba8" d="M553 128h13v3h-13z"/>
<path fill="#391515" d="M579 128h13v3h-13zM553 156h13v2h-13z"/>
<path fill="#f9b7b7" d="M540 131h13v1h-13zM540 133h13v1h-13zM540 136h13v1h-13zM540 137h13v2h-13zM540 139h13v1h-13zM553 144h13v1h-13zM553 146h13v1h-13z"/>
<path fill="#f6e4e4" d="M579 131h13v1h-13zM566 188h13v2h-13zM540 200h13v1h-13zM540 219h13v3h-13zM566 222h13v3h-13z"/>
<path fill="#f0dbdb" d="M592 131h12v1h-12zM566 246h13v2h-13z"/>
<path fill="#ab9c9c" d="M656 131h13v1h-13zM656 250h13v1h-13zM617 258h13v1h-13zM643 281h13v1h-13zM592 317h12v3h-12zM553 340h13v1h-13zM643 342h13v1h-13zM553 394h13v1h-13z"/>
<path fill="#331515" d="M553 132h13v1h-13z"/>
<path fill="#a57b7b" d="M475 133h13v1h-13z"/>
<path fill="#906966" d="M488 133h13v1h-13z"/>
<path fill="#f0d5d2" d="M566 133h13v1h-13z"/>
<path fill="#e1cccc" d="M604 133h13v1h-13zM604 146h13v1h-13z"/>
<path fill="#fff3f3" d="M475 134h13v2h-13zM475 136h13v1h-13zM475 137h13v2h-13zM475 139h13v1h-13zM475 140h13v2h-13zM475 142h13v1h-13zM475 143h13v1h-13zM475 144h13v1h-13zM475 156h13v2h-13zM475 158h13v2h-13zM475 160h13v1h-13zM475 161h13v2h-13zM475 163h13v1h-13zM475 164h13v2h-13zM475 166h13v1h-13zM475 167h13v1h-13zM488 296h13v2h-13zM488 298h13v1h-13zM488 299h13v1h-13zM488 300h13v1h-13zM488 301h13v2h-13zM488 303h13v2h-13zM488 305h13v1h-13zM488 306h13v1h-13zM488 307h13v1h-13zM488 308h13v2h-13zM553 343h13v1h-13zM488 356h13v2h-13zM488 358h13v1h-13zM488 359h13v1h-13zM488 360h13v1h-13zM488 361h13v1h-13zM488 362h13v1h-13z"/>
<path fill="#bd6966" d="M540 134h13v2h-13z"/>
<path fill="#210909" d="M579 134h13v2h-13zM604 140h13v2h-13zM669 142h13v1h-13zM566 161h13v2h-13z"/>
<path fill="#5d2424" d="M592 134h12v2h-12zM566 151h13v1h-13zM656 168h13v1h-13zM579 169h13v2h-13zM656 182h13v1h-13z"/>
<path fill="#c37b78" d="M553 136h13v1h-13z"/>
<path fill="#ba7b7b" d="M566 136h13v1h-13z"/>
<path fill="#bd8a8a" d="M579 136h13v1h-13z"/>
<path fill="#c9a2a2" d="M592 136h12v1h-12z"/>
<path fill="#c0a5a5" d="M604 136h13v1h-13z"/>
<path fill="#2a0c0c" d="M553 139h13v1h-13z"/>
<path fill="#4e2424" d="M566 139h13v1h-13z"/>
<path fill="#4e2a27" d="M579 139h13v1h-13z"/>
<path fill="#543333" d="M592 139h12v1h-12z"/>
<path fill="#513939" d="M604 139h13v1h-13zM592 218h12v1h-12z"/>
<path fill="#9f8d8d" d="M669 139h26v1h-26zM617 160h13v1h-13zM617 291h13v1h-13z"/>
<path fill="#f9cccc" d="M527 140h13v2h-13zM527 142h13v1h-13zM527 143h13v1h-13zM527 144h13v1h-13zM527 145h13v1h-13zM527 146h13v1h-13zM501 153h13v3h-13zM501 156h13v2h-13zM501 158h13v2h-13zM501 160h13v1h-13zM501 161h13v2h-13zM501 163h13v1h-13zM527 163h13v1h-13zM527 164h13v2h-13zM527 166h13v1h-13zM527 168h13v1h-13zM527 169h13v2h-13zM527 171h13v1h-13zM527 172h13v3h-13zM527 175h13v1h-13zM527 176h13v1h-13zM527 177h13v1h-13zM527 178h13v1h-13zM527 179h13v2h-13zM527 181h13v1h-13zM527 182h13v1h-13zM527 183h13v1h-13zM527 205h13v2h-13zM527 207h13v3h-13zM527 210h13v3h-13zM540 210h13v3h-13zM527 213h13v1h-13zM540 213h13v1h-13zM527 214h13v1h-13zM527 215h13v1h-13zM527 216h13v1h-13zM527 217h13v1h-13zM527 218h13v1h-13zM488 219h13v3h-13zM488 222h13v3h-13zM488 225h13v1h-13zM501 228h13v1h-13zM501 229h13v1h-13zM527 237h13v1h-13zM527 238h13v2h-13zM501 240h13v1h-13zM527 240h13v1h-13zM501 241h13v2h-13zM553 241h13v2h-13zM501 243h13v3h-13zM553 243h13v3h-13zM501 246h13v2h-13zM501 248h13v2h-13zM501 250h13v1h-13zM514 258h13v1h-13zM514 259h13v2h-13zM514 261h13v1h-13zM501 284h13v2h-13zM501 286h26v1h-26zM501 287h26v2h-26zM501 289h26v1h-26zM501 290h13v1h-13zM501 291h13v1h-13zM475 402h13v1h-13zM475 403h13v1h-13zM475 404h13v3h-13zM475 407h13v1h-13zM475 408h13v2h-13zM488 526h13v1h-13zM488 527h13v2h-13zM488 529h13v1h-13zM475 540h13v2h-13zM475 542h13v1h-13zM475 543h13v1h-13zM501 556h13v1h-13zM501 557h13v2h-13zM501 559h13v1h-13zM527 580h13v2h-13zM488 582h13v2h-13zM527 582h13v2h-13zM527 584h13v2h-13zM527 586h13v1h-13zM527 587h13v3h-13zM527 590h13v1h-13zM527 591h13v2h-13zM527 593h13v1h-13zM527 594h13v1h-13zM514 643h13v0.5h-13z"/>
<path fill="#c97572" d="M540 140h13v2h-13z"/>
<path fill="#bd7575" d="M553 140h13v2h-13z"/>
<path fill="#b47875" d="M566 140h13v2h-13z"/>
<path fill="#ab7878" d="M579 140h13v2h-13zM579 160h13v1h-13zM553 193h13v2h-13zM553 199h13v1h-13zM553 205h13v2h-13z"/>
<path fill="#a27b78" d="M592 140h12v2h-12z"/>
<path fill="#632a27" d="M617 140h13v2h-13zM579 185h13v2h-13z"/>
<path fill="#481b1b" d="M630 140h13v2h-13zM579 149h13v1h-13zM592 181h12v1h-12z"/>
<path fill="#f6d5d5" d="M540 142h13v1h-13zM540 148h13v1h-13z"/>
<path fill="#f0cfcf" d="M566 142h13v1h-13zM566 163h13v1h-13zM566 164h13v2h-13zM566 175h13v1h-13z"/>
<path fill="#d8baba" d="M592 142h12v1h-12zM579 240h13v1h-13z"/>
<path fill="#b19696" d="M604 142h13v1h-13z"/>
<path fill="#5a2421" d="M656 142h13v1h-13z"/>
<path fill="#f0c6c6" d="M540 143h13v1h-13z"/>
<path fill="#e7bdba" d="M566 143h13v1h-13z"/>
<path fill="#deb7b7" d="M579 143h13v1h-13zM553 251h13v1h-13z"/>
<path fill="#d5b4b1" d="M592 143h12v1h-12z"/>
<path fill="#a89696" d="M669 143h13v1h-13z"/>
<path fill="#998a8a" d="M682 143h13v1h-13zM682 307h13v1h-13zM617 333h13v2h-13zM604 340h13v1h-13zM553 345h13v1h-13zM566 358h13v1h-13z"/>
<path fill="#665757" d="M695 143h13v1h-13zM617 230h13v1h-13zM643 310h13v1h-13zM656 311h13v1h-13z"/>
<path fill="#574848" d="M708 143h13v1h-13zM630 295h39v1h-39zM669 310h13v1h-13zM592 386h12v2h-12zM669 397h13v2h-13z"/>
<path fill="#cc908d" d="M566 144h13v1h-13z"/>
<path fill="#b78484" d="M579 144h13v1h-13z"/>
<path fill="#c3a8a8" d="M604 144h13v1h-13zM592 193h12v2h-12z"/>
<path fill="#3c1515" d="M566 145h13v1h-13zM656 164h13v2h-13z"/>
<path fill="#270c0c" d="M579 145h13v1h-13zM682 150h13v1h-13zM656 179h13v2h-13z"/>
<path fill="#e7cfcc" d="M592 146h12v1h-12z"/>
<path fill="#d5c9c9" d="M617 146h13v1h-13z"/>
<path fill="#9f4845" d="M540 147h13v1h-13zM540 183h13v1h-13z"/>
<path fill="#843f3f" d="M553 147h13v1h-13z"/>
<path fill="#7b4542" d="M566 147h13v1h-13z"/>
<path fill="#754845" d="M579 147h13v1h-13z"/>
<path fill="#6c4b48" d="M592 147h12v1h-12zM501 390h13v1h-13z"/>
<path fill="#664b4b" d="M604 147h13v1h-13z"/>
<path fill="#5d4e4e" d="M617 147h13v1h-13zM630 177h13v1h-13zM617 218h39v1h-39zM643 229h13v1h-13zM656 258h13v1h-13z"/>
<path fill="#511e1e" d="M630 147h13v1h-13zM592 169h12v2h-12zM669 182h13v1h-13z"/>
<path fill="#876360" d="M488 148h13v1h-13z"/>
<path fill="#f6dede" d="M566 148h13v1h-13z"/>
<path fill="#eacfcf" d="M592 148h12v1h-12z"/>
<path fill="#d8c0c0" d="M604 148h13v1h-13zM604 175h13v1h-13z"/>
<path fill="#f6a5a2" d="M540 149h13v1h-13z"/>
<path fill="#a25754" d="M553 149h13v1h-13zM553 150h13v1h-13zM553 158h13v2h-13z"/>
<path fill="#ab5451" d="M540 150h13v1h-13z"/>
<path fill="#874e4b" d="M566 150h13v1h-13z"/>
<path fill="#7e4e4e" d="M579 150h13v1h-13z"/>
<path fill="#755151" d="M592 150h12v1h-12z"/>
<path fill="#6c5151" d="M604 150h13v1h-13z"/>
<path fill="#421818" d="M656 150h13v1h-13zM579 156h13v2h-13zM553 169h13v2h-13zM566 169h13v2h-13zM592 185h12v2h-12z"/>
<path fill="#4b1e1b" d="M669 150h13v1h-13zM682 182h13v1h-13z"/>
<path fill="#572121" d="M695 150h13v1h-13z"/>
<path fill="#b4605d" d="M540 151h13v1h-13z"/>
<path fill="#5d2724" d="M553 151h13v1h-13z"/>
<path fill="#572421" d="M579 151h13v1h-13zM579 161h13v2h-13zM604 191h13v2h-13z"/>
<path fill="#e4b1ae" d="M553 152h13v1h-13z"/>
<path fill="#d8a5a5" d="M566 152h13v1h-13z"/>
<path fill="#cc9c9c" d="M579 152h13v1h-13z"/>
<path fill="#ab8484" d="M592 152h12v1h-12z"/>
<path fill="#846969" d="M604 152h13v1h-13z"/>
<path fill="#6c5d5d" d="M617 152h13v1h-13zM630 229h13v1h-13zM656 252h13v1h-13zM656 345h13v1h-13zM656 397h13v2h-13z"/>
<path fill="#3f3333" d="M643 152h13v1h-13zM566 361h13v1h-13zM553 366h13v1h-13z"/>
<path fill="#4b1e1e" d="M566 153h13v3h-13zM592 176h12v1h-12zM592 191h12v2h-12z"/>
<path fill="#451b1b" d="M579 153h13v3h-13z"/>
<path fill="#5a2424" d="M566 156h13v2h-13zM553 161h13v2h-13z"/>
<path fill="#f9dbdb" d="M514 158h13v2h-13zM514 160h13v1h-13zM514 161h13v2h-13zM514 163h13v1h-13z"/>
<path fill="#f9d2d2" d="M527 158h13v2h-13zM527 160h13v1h-13zM527 161h13v2h-13zM553 197h13v2h-13zM527 219h13v3h-13zM527 222h13v3h-13zM527 225h13v1h-13zM527 226h13v1h-13zM527 227h13v1h-13zM527 228h13v1h-13zM527 229h13v1h-13zM553 229h13v1h-13zM527 230h13v1h-13zM527 231h13v2h-13zM527 233h13v1h-13zM527 234h13v2h-13zM553 234h13v2h-13zM527 236h13v1h-13zM488 243h13v3h-13zM488 246h13v2h-13zM488 248h13v2h-13zM488 250h13v1h-13zM475 485h13v1h-13zM475 486h13v2h-13zM475 488h13v1h-13zM475 489h13v2h-13zM475 491h13v1h-13zM475 492h13v1h-13zM475 493h13v1h-13zM514 595h13v3h-13zM514 598h13v2h-13zM514 600h13v2h-13zM514 608h13v1h-13zM514 609h13v1h-13zM501 610h26v1h-26zM514 611h13v2h-13zM514 613h13v1h-13zM514 614h13v2h-13zM514 616h13v1h-13zM514 621h13v2h-13zM514 623h13v2h-13zM514 625h13v3h-13zM514 628h13v3h-13zM514 631h13v1h-13zM514 632h13v1h-13zM514 633h13v1h-13zM514 634h13v2h-13zM514 636h13v1h-13zM514 637h13v2h-13zM514 639h13v1h-13zM514 640h13v2h-13zM514 642h13v1h-13z"/>
<path fill="#814845" d="M566 158h13v2h-13z"/>
<path fill="#784848" d="M579 158h13v2h-13z"/>
<path fill="#6c4848" d="M592 158h12v2h-12z"/>
<path fill="#6f4b4b" d="M488 160h13v1h-13z"/>
<path fill="#c67e7b" d="M553 160h13v1h-13z"/>
<path fill="#b17272" d="M566 160h13v1h-13zM566 179h13v2h-13z"/>
<path fill="#a8817e" d="M592 160h12v1h-12z"/>
<path fill="#a28787" d="M604 160h13v1h-13z"/>
<path fill="#9c8d8d" d="M630 160h13v1h-13zM643 160h13v1h-13zM630 205h13v2h-13zM630 291h13v1h-13zM592 362h12v1h-12zM592 394h12v1h-12z"/>
<path fill="#451b18" d="M656 160h13v1h-13zM553 172h13v3h-13z"/>
<path fill="#2d0f0f" d="M669 160h13v1h-13zM695 160h13v1h-13zM592 161h12v2h-12zM643 164h13v2h-13zM604 181h13v1h-13z"/>
<path fill="#542121" d="M682 160h13v1h-13zM630 164h13v2h-13z"/>
<path fill="#debdbd" d="M592 163h12v1h-12z"/>
<path fill="#cfb7b4" d="M604 163h13v1h-13z"/>
<path fill="#a29393" d="M617 163h13v1h-13zM617 190h13v1h-13zM630 250h13v1h-13zM630 251h13v1h-13zM617 281h13v1h-13zM656 291h13v1h-13zM669 291h13v1h-13zM643 298h13v1h-13zM579 333h13v2h-13zM579 340h13v1h-13zM656 365h13v1h-13zM566 388h13v1h-13zM579 394h13v1h-13z"/>
<path fill="#968484" d="M630 163h13v1h-13zM617 340h13v1h-13zM553 365h13v1h-13z"/>
<path fill="#695757" d="M656 163h13v1h-13z"/>
<path fill="#f9e4e4" d="M540 164h13v2h-13zM553 185h13v2h-13z"/>
<path fill="#f3d8d5" d="M553 164h13v2h-13z"/>
<path fill="#eacccc" d="M579 164h13v2h-13zM566 210h13v3h-13z"/>
<path fill="#e7ccc9" d="M592 164h12v2h-12z"/>
<path fill="#dbc6c6" d="M604 164h13v2h-13z"/>
<path fill="#fcf6f6" d="M592 166h12v1h-12zM592 225h12v1h-12zM540 237h13v1h-13zM579 237h13v1h-13zM540 256h13v2h-13zM540 258h13v1h-13zM553 269h13v2h-13zM540 276h13v1h-13zM553 277h13v2h-13zM553 289h13v1h-13zM566 300h13v1h-13zM553 307h13v1h-13zM553 376h13v1h-13zM553 389h13v1h-13zM540 396h13v1h-13zM566 396h13v1h-13z"/>
<path fill="#ead8d8" d="M604 166h13v1h-13zM604 182h13v1h-13zM604 184h13v1h-13z"/>
<path fill="#9f9090" d="M643 166h13v1h-13zM617 311h13v1h-13zM630 315h13v2h-13zM656 327h13v1h-13zM604 333h13v2h-13zM592 340h12v1h-12zM553 358h13v1h-13z"/>
<path fill="#938181" d="M656 166h13v1h-13zM669 261h13v1h-13zM656 340h13v1h-13zM579 358h13v1h-13zM566 367h13v1h-13z"/>
<path fill="#7b5757" d="M527 167h13v1h-13z"/>
<path fill="#f9b1b1" d="M540 167h13v1h-13zM540 168h13v1h-13zM540 175h13v1h-13z"/>
<path fill="#a85d5a" d="M553 167h13v1h-13z"/>
<path fill="#ffffff" d="M462 168h13v1h-13zM462 169h13v2h-13zM462 171h13v1h-13zM462 172h13v3h-13zM462 175h13v1h-13zM462 176h13v1h-13zM462 177h13v1h-13zM462 178h13v1h-13zM462 179h13v2h-13zM462 181h13v1h-13zM462 182h13v1h-13zM462 183h13v1h-13zM462 184h13v1h-13zM462 185h13v2h-13zM462 187h13v1h-13zM462 188h13v2h-13zM462 190h13v1h-13zM462 191h13v2h-13zM462 274h13v1h-13zM462 275h13v1h-13zM462 276h13v1h-13zM462 277h13v2h-13zM462 279h13v2h-13zM462 281h13v1h-13zM462 282h13v1h-13zM462 283h13v1h-13zM462 284h13v2h-13zM462 286h13v1h-13zM462 296h13v2h-13zM462 298h13v1h-13zM462 299h13v1h-13zM462 300h13v1h-13zM462 301h13v2h-13zM462 328h13v2h-13zM462 330h13v1h-13zM462 331h13v2h-13zM462 333h13v2h-13zM462 335h13v1h-13zM462 336h13v2h-13zM462 338h13v2h-13zM462 340h13v1h-13zM462 341h13v1h-13zM462 342h13v1h-13zM462 343h13v1h-13zM462 344h13v1h-13zM462 363h13v2h-13zM540 363h13v2h-13zM462 365h13v1h-13zM462 366h13v1h-13zM462 367h13v1h-13zM462 368h13v1h-13zM540 368h13v1h-13zM540 369h13v3h-13zM540 372h13v1h-13zM540 376h13v1h-13z"/>
<path fill="#966f6f" d="M475 168h13v1h-13z"/>
<path fill="#c98481" d="M553 168h13v1h-13z"/>
<path fill="#c08484" d="M566 168h13v1h-13z"/>
<path fill="#b78784" d="M579 168h13v1h-13zM579 177h13v1h-13z"/>
<path fill="#876060" d="M592 168h12v1h-12zM488 286h13v1h-13zM514 389h13v1h-13z"/>
<path fill="#907575" d="M604 168h13v1h-13z"/>
<path fill="#302424" d="M643 168h13v1h-13zM682 229h13v1h-13zM617 259h13v2h-13zM592 324h12v3h-12zM566 338h13v2h-13zM592 338h12v2h-12zM630 349h13v2h-13zM604 361h13v1h-13zM566 392h13v2h-13zM695 397h13v2h-13z"/>
<path fill="#a8514e" d="M540 171h13v1h-13z"/>
<path fill="#a25454" d="M553 171h13v1h-13z"/>
<path fill="#cc9090" d="M566 171h13v1h-13zM566 177h13v1h-13z"/>
<path fill="#c69393" d="M579 171h13v1h-13z"/>
<path fill="#543636" d="M592 171h12v1h-12z"/>
<path fill="#4e3636" d="M604 171h13v1h-13z"/>
<path fill="#726363" d="M643 171h13v1h-13zM617 177h13v1h-13zM643 345h13v1h-13z"/>
<path fill="#271b1b" d="M656 171h13v1h-13zM656 218h26v1h-26zM592 269h12v2h-12zM617 286h13v1h-13zM566 308h13v2h-13zM695 311h13v1h-13zM656 314h13v1h-13z"/>
<path fill="#39120f" d="M540 172h13v3h-13z"/>
<path fill="#eaccc9" d="M579 175h13v1h-13z"/>
<path fill="#e4c6c6" d="M592 175h12v1h-12z"/>
<path fill="#a89999" d="M656 175h13v1h-13zM656 281h13v1h-13zM566 333h13v2h-13zM566 340h13v1h-13zM656 342h13v1h-13zM643 365h13v1h-13zM540 366h13v1h-13z"/>
<path fill="#d88d8d" d="M540 176h13v1h-13z"/>
<path fill="#361212" d="M553 176h13v1h-13zM579 176h13v1h-13zM617 185h13v2h-13z"/>
<path fill="#361512" d="M566 176h13v1h-13z"/>
<path fill="#eabab7" d="M553 177h13v1h-13z"/>
<path fill="#9f7875" d="M592 177h12v1h-12z"/>
<path fill="#8a6f6f" d="M604 177h13v1h-13z"/>
<path fill="#421b18" d="M566 178h13v1h-13z"/>
<path fill="#602727" d="M579 178h13v1h-13zM592 183h12v1h-12z"/>
<path fill="#b76c69" d="M553 179h13v2h-13z"/>
<path fill="#ae7b78" d="M579 179h13v2h-13z"/>
<path fill="#ba9393" d="M592 179h12v2h-12z"/>
<path fill="#b79999" d="M604 179h13v2h-13z"/>
<path fill="#c6b4b4" d="M630 179h13v2h-13zM656 193h13v2h-13zM592 283h12v1h-12zM553 372h13v1h-13z"/>
<path fill="#f3dedb" d="M579 181h13v1h-13zM553 233h13v1h-13z"/>
<path fill="#4e1e1e" d="M617 181h13v1h-13z"/>
<path fill="#f6aba8" d="M553 182h13v1h-13z"/>
<path fill="#934b48" d="M553 183h13v1h-13zM553 187h13v1h-13z"/>
<path fill="#8a4e4b" d="M566 183h13v1h-13z"/>
<path fill="#542d2d" d="M579 183h13v1h-13z"/>
<path fill="#f9c9c9" d="M527 184h13v1h-13zM527 185h13v2h-13zM527 187h13v1h-13zM527 188h13v2h-13zM527 193h13v2h-13zM527 195h13v2h-13zM527 197h13v2h-13zM527 199h13v1h-13zM527 200h13v1h-13zM527 201h13v1h-13zM527 202h13v1h-13zM527 203h13v2h-13zM475 222h13v3h-13zM475 225h13v1h-13zM475 226h13v1h-13zM488 226h13v1h-13zM475 227h13v1h-13zM475 228h13v1h-13zM488 228h13v1h-13zM475 229h13v1h-13zM488 229h13v1h-13zM475 230h13v1h-13zM488 230h26v1h-26zM488 231h26v2h-26zM501 233h13v1h-13zM501 234h13v2h-13zM514 234h13v2h-13zM514 236h13v1h-13zM501 237h13v1h-13zM514 237h13v1h-13zM501 238h13v2h-13zM514 238h13v2h-13zM514 240h13v1h-13zM514 241h13v2h-13zM514 243h13v3h-13zM514 246h13v2h-13zM514 248h13v2h-13zM514 250h13v1h-13zM501 251h13v1h-13zM501 252h13v1h-13zM501 253h13v3h-13zM501 256h13v2h-13zM501 258h13v1h-13zM501 259h13v2h-13zM501 261h13v1h-13zM501 262h13v2h-13zM501 264h13v1h-13zM501 265h13v1h-13zM475 410h13v1h-13zM475 411h13v1h-13zM475 412h13v1h-13zM475 413h13v1h-13zM475 414h13v2h-13zM475 416h13v1h-13zM488 515h13v1h-13zM488 516h13v1h-13zM488 517h13v2h-13zM488 519h13v1h-13zM488 520h13v1h-13zM488 521h13v2h-13zM488 523h13v1h-13zM488 524h13v2h-13zM488 554h13v2h-13zM488 556h13v1h-13z"/>
<path fill="#f6a5a5" d="M540 184h13v1h-13zM540 185h13v2h-13zM540 188h13v2h-13zM488 416h13v1h-13zM488 417h13v1h-13zM488 512h13v3h-13zM501 521h13v2h-13zM501 523h13v1h-13zM501 524h13v2h-13zM501 526h13v1h-13zM501 527h13v2h-13zM501 529h13v1h-13zM501 530h13v1h-13zM501 531h13v1h-13zM501 532h13v1h-13z"/>
<path fill="#e4d5d5" d="M643 184h13v1h-13zM617 197h13v2h-13zM656 197h13v2h-13zM643 233h13v1h-13zM617 237h13v1h-13zM643 261h13v1h-13zM643 264h13v1h-13zM579 265h13v1h-13zM617 268h13v1h-13zM592 290h12v1h-12zM592 349h12v2h-12zM604 354h13v2h-13zM617 376h13v1h-13z"/>
<path fill="#b45d5a" d="M540 187h13v1h-13z"/>
<path fill="#8d514e" d="M566 187h13v1h-13z"/>
<path fill="#875754" d="M579 187h13v1h-13z"/>
<path fill="#996f6f" d="M592 187h12v1h-12z"/>
<path fill="#4e3936" d="M604 187h13v1h-13z"/>
<path fill="#4b3939" d="M617 187h13v1h-13zM566 296h13v2h-13zM540 303h26v2h-26z"/>
<path fill="#544545" d="M643 187h13v1h-13zM604 291h13v1h-13zM579 320h13v3h-13zM566 324h13v3h-13zM566 346h13v3h-13z"/>
<path fill="#541b1b" d="M540 190h13v1h-13z"/>
<path fill="#51211e" d="M553 190h13v1h-13z"/>
<path fill="#4b2424" d="M566 190h13v1h-13z"/>
<path fill="#4b2727" d="M579 190h13v1h-13zM553 216h13v1h-13zM579 219h13v3h-13z"/>
<path fill="#664545" d="M592 190h12v1h-12z"/>
<path fill="#634b4b" d="M604 190h13v1h-13z"/>
<path fill="#ae7572" d="M540 193h13v2h-13z"/>
<path fill="#d8b4b1" d="M566 193h13v2h-13z"/>
<path fill="#c6a2a2" d="M579 193h13v2h-13z"/>
<path fill="#e4d2d2" d="M604 193h13v2h-13zM604 233h13v1h-13zM604 240h13v1h-13zM540 259h13v2h-13zM540 271h13v1h-13zM553 275h26v1h-26zM592 307h12v1h-12z"/>
<path fill="#573030" d="M553 195h13v2h-13zM553 202h13v1h-13zM592 248h12v2h-12z"/>
<path fill="#271212" d="M566 195h13v2h-13zM553 201h13v1h-13zM604 210h13v3h-13z"/>
<path fill="#512a2a" d="M579 195h13v2h-13zM592 222h12v3h-12z"/>
<path fill="#f6eded" d="M592 197h12v2h-12zM579 217h13v1h-13zM592 256h12v2h-12zM592 261h12v1h-12zM592 268h12v1h-12zM553 272h13v2h-13zM566 277h13v2h-13zM579 286h13v1h-13zM566 287h13v2h-13zM566 290h13v1h-13zM592 312h12v1h-12zM553 327h13v1h-13zM566 343h13v1h-13zM540 346h13v3h-13zM566 354h13v2h-13zM553 356h13v2h-13zM579 373h13v1h-13zM592 376h12v1h-12zM553 390h13v1h-13z"/>
<path fill="#b17875" d="M540 199h13v1h-13z"/>
<path fill="#a57b78" d="M566 199h13v1h-13z"/>
<path fill="#2a1212" d="M579 199h13v1h-13zM540 201h13v1h-13zM604 226h13v1h-13zM669 246h13v2h-13z"/>
<path fill="#57302d" d="M592 199h12v1h-12zM682 246h13v2h-13z"/>
<path fill="#f3dede" d="M553 200h13v1h-13zM540 207h13v3h-13zM553 215h13v1h-13z"/>
<path fill="#f0dedb" d="M566 200h13v1h-13z"/>
<path fill="#eddbdb" d="M579 200h13v1h-13zM592 236h12v1h-12z"/>
<path fill="#e7d2d2" d="M592 200h12v1h-12z"/>
<path fill="#e4d2cf" d="M604 200h13v1h-13z"/>
<path fill="#dbcfcf" d="M682 200h13v1h-13zM630 217h13v1h-13zM656 233h13v1h-13zM682 240h13v1h-13zM656 264h13v1h-13z"/>
<path fill="#271515" d="M566 201h13v1h-13zM579 201h13v1h-13z"/>
<path fill="#150c0c" d="M592 201h12v1h-12z"/>
<path fill="#3f2121" d="M604 201h13v1h-13zM579 216h13v1h-13zM695 243h13v3h-13z"/>
<path fill="#573333" d="M566 202h13v1h-13z"/>
<path fill="#3f2727" d="M579 202h13v1h-13z"/>
<path fill="#301e1e" d="M592 202h12v1h-12z"/>
<path fill="#eac9c9" d="M553 203h13v2h-13z"/>
<path fill="#391b1b" d="M566 203h13v2h-13zM566 219h13v3h-13z"/>
<path fill="#4e2a2a" d="M579 203h13v2h-13zM682 205h13v2h-13zM617 226h13v1h-13z"/>
<path fill="#a87b7b" d="M566 205h13v2h-13z"/>
<path fill="#936c6c" d="M579 205h13v2h-13zM579 218h13v1h-13z"/>
<path fill="#8d6f6c" d="M592 205h12v2h-12z"/>
<path fill="#876f6f" d="M604 205h13v2h-13z"/>
<path fill="#816f6f" d="M617 205h13v2h-13z"/>
<path fill="#301818" d="M656 205h13v2h-13zM604 207h13v3h-13zM566 241h13v2h-13zM656 246h13v2h-13z"/>
<path fill="#391e1e" d="M669 205h13v2h-13z"/>
<path fill="#f0dbd8" d="M553 207h13v3h-13zM566 207h13v3h-13z"/>
<path fill="#5d3333" d="M592 207h12v3h-12zM579 213h13v1h-13zM630 226h13v1h-13zM669 243h13v3h-13z"/>
<path fill="#2d1515" d="M617 207h13v3h-13zM566 216h13v1h-13zM579 228h13v1h-13z"/>
<path fill="#ae8481" d="M566 213h13v1h-13z"/>
<path fill="#482724" d="M592 213h12v1h-12z"/>
<path fill="#d5a8a8" d="M553 214h13v1h-13z"/>
<path fill="#c99f9f" d="M566 214h13v1h-13z"/>
<path fill="#ba9696" d="M579 214h13v1h-13z"/>
<path fill="#f6908d" d="M475 215h13v1h-13zM475 216h13v1h-13zM475 217h13v1h-13zM475 218h13v1h-13zM475 219h13v3h-13zM488 412h13v1h-13zM488 413h13v1h-13zM488 414h13v2h-13zM514 472h26v1h-26zM514 473h26v2h-26zM514 475h26v2h-26zM514 477h13v1h-13zM514 478h13v1h-13zM514 479h13v3h-13zM527 500h13v3h-13zM527 503h13v2h-13zM527 506h13v1h-13zM527 507h13v1h-13zM527 508h13v1h-13zM527 509h13v2h-13zM527 511h13v1h-13zM527 512h13v3h-13zM527 515h13v1h-13zM527 516h13v1h-13zM527 517h13v2h-13zM527 519h13v1h-13zM553 530h13v1h-13zM514 531h13v1h-13zM514 533h13v1h-13zM514 534h13v1h-13zM514 535h13v2h-13zM514 537h13v2h-13zM514 539h13v1h-13zM540 544h13v3h-13zM540 547h13v2h-13zM540 549h13v1h-13zM540 552h13v1h-13zM540 554h13v2h-13zM540 556h13v1h-13zM540 557h13v2h-13zM540 559h13v1h-13zM540 563h13v3h-13zM540 566h13v1h-13zM540 567h13v2h-13zM540 569h13v1h-13zM540 595h13v3h-13z"/>
<path fill="#edd5d2" d="M566 215h13v1h-13z"/>
<path fill="#e7cfcf" d="M579 215h13v1h-13z"/>
<path fill="#ccb7b7" d="M604 215h13v1h-13zM566 264h13v1h-13zM553 298h13v1h-13zM566 298h13v1h-13z"/>
<path fill="#a59393" d="M643 215h13v1h-13zM643 291h13v1h-13zM630 298h13v1h-13z"/>
<path fill="#240f0f" d="M592 216h12v1h-12zM579 222h13v3h-13z"/>
<path fill="#f0e1e1" d="M592 217h12v1h-12zM553 311h13v1h-13z"/>
<path fill="#f69390" d="M501 218h13v1h-13zM501 219h13v3h-13zM501 222h13v3h-13zM501 225h13v1h-13zM501 226h13v1h-13zM501 227h13v1h-13zM553 450h13v2h-13zM553 454h13v2h-13zM488 485h13v1h-13zM488 486h13v2h-13zM488 488h13v1h-13zM501 503h13v2h-13zM501 505h13v1h-13zM501 506h13v1h-13zM501 507h13v1h-13zM501 508h13v1h-13zM501 509h13v2h-13zM501 511h13v1h-13zM540 537h13v2h-13zM540 539h13v1h-13zM540 540h13v2h-13zM540 542h13v1h-13zM527 613h13v1h-13zM527 614h13v2h-13zM527 616h13v1h-13zM527 617h13v2h-13zM527 619h13v1h-13zM527 620h13v1h-13zM527 621h13v2h-13zM527 623h13v2h-13zM527 625h13v3h-13z"/>
<path fill="#3f1e1e" d="M540 218h13v1h-13z"/>
<path fill="#3c211e" d="M553 218h13v1h-13z"/>
<path fill="#b78d8a" d="M566 218h13v1h-13z"/>
<path fill="#513c3c" d="M604 218h13v1h-13zM604 253h13v3h-13zM579 279h13v2h-13zM592 279h12v2h-12zM604 287h13v2h-13zM617 292h13v3h-13z"/>
<path fill="#e1d5d5" d="M630 225h13v1h-13zM617 236h13v1h-13zM630 323h13v1h-13z"/>
<path fill="#452424" d="M553 226h13v1h-13zM695 246h13v2h-13z"/>
<path fill="#422727" d="M566 226h13v1h-13z"/>
<path fill="#392424" d="M579 226h13v1h-13z"/>
<path fill="#392727" d="M592 226h12v1h-12zM592 287h12v2h-12z"/>
<path fill="#a27878" d="M488 227h13v1h-13z"/>
<path fill="#e7c3c3" d="M553 227h13v1h-13z"/>
<path fill="#e4c3c0" d="M566 227h13v1h-13z"/>
<path fill="#dec0c0" d="M579 227h13v1h-13z"/>
<path fill="#d8bdbd" d="M592 227h12v1h-12z"/>
<path fill="#d2bdbd" d="M604 227h13v1h-13z"/>
<path fill="#331818" d="M553 228h13v1h-13zM656 243h13v3h-13z"/>
<path fill="#391e1b" d="M566 228h13v1h-13z"/>
<path fill="#e1c0c0" d="M566 229h13v1h-13z"/>
<path fill="#d8b7b7" d="M579 229h13v1h-13z"/>
<path fill="#cfb4b4" d="M592 229h12v1h-12zM592 240h12v1h-12z"/>
<path fill="#c6aeae" d="M604 229h13v1h-13z"/>
<path fill="#7e6c6c" d="M617 229h13v1h-13z"/>
<path fill="#4e3c3c" d="M656 229h13v1h-13z"/>
<path fill="#3f3030" d="M669 229h13v1h-13zM566 299h38v1h-38zM604 299h13v1h-13zM566 303h13v2h-13zM579 303h13v2h-13zM604 308h13v2h-13zM553 346h13v3h-13z"/>
<path fill="#a26f6f" d="M553 230h13v1h-13z"/>
<path fill="#784e4e" d="M566 230h13v1h-13z"/>
<path fill="#725151" d="M579 230h13v1h-13z"/>
<path fill="#6f5454" d="M592 230h12v1h-12z"/>
<path fill="#6c5454" d="M604 230h13v1h-13z"/>
<path fill="#665454" d="M630 230h13v1h-13z"/>
<path fill="#635454" d="M643 230h13v1h-13zM553 386h26v2h-26z"/>
<path fill="#c39090" d="M553 231h13v2h-13z"/>
<path fill="#bd9390" d="M566 231h13v2h-13z"/>
<path fill="#b79393" d="M579 231h13v2h-13z"/>
<path fill="#b19693" d="M592 231h12v2h-12z"/>
<path fill="#edd5d5" d="M579 233h13v1h-13z"/>
<path fill="#ead5d5" d="M592 233h12v1h-12z"/>
<path fill="#b48a87" d="M566 234h13v2h-13z"/>
<path fill="#3c1e1e" d="M579 234h13v2h-13z"/>
<path fill="#7e5757" d="M501 236h13v1h-13z"/>
<path fill="#f9f3f3" d="M592 237h12v1h-12zM566 253h13v3h-13zM553 256h13v2h-13zM566 256h13v2h-13zM553 258h13v1h-13zM579 268h13v1h-13zM553 276h13v1h-13zM540 287h13v2h-13zM579 300h13v1h-13zM540 312h13v1h-13zM592 323h12v1h-12zM579 356h13v2h-13zM540 360h13v1h-13zM566 368h13v1h-13zM579 376h13v1h-13zM553 396h13v1h-13z"/>
<path fill="#817272" d="M656 237h13v1h-13zM721 250h13v1h-13zM721 307h13v1h-13zM617 345h13v1h-13zM566 379h38v1h-38zM643 397h13v2h-13z"/>
<path fill="#f3e1de" d="M553 238h13v2h-13z"/>
<path fill="#e4c3c3" d="M566 240h13v1h-13z"/>
<path fill="#513333" d="M579 241h13v2h-13z"/>
<path fill="#513636" d="M592 241h12v2h-12z"/>
<path fill="#4e3939" d="M604 241h13v2h-13zM566 266h13v2h-13zM617 306h13v1h-13z"/>
<path fill="#4b3c3c" d="M617 241h26v2h-26zM617 313h13v1h-13zM656 349h13v2h-13zM553 351h13v1h-13zM643 362h13v1h-13zM553 392h13v2h-13zM604 396h13v1h-13z"/>
<path fill="#ba908d" d="M566 243h13v3h-13z"/>
<path fill="#b18d8d" d="M579 243h13v3h-13z"/>
<path fill="#a88a8a" d="M592 243h12v3h-12z"/>
<path fill="#a28a8a" d="M604 243h13v3h-13zM540 306h13v1h-13z"/>
<path fill="#605151" d="M617 243h13v3h-13zM630 271h13v1h-13zM643 315h13v2h-13zM630 362h13v1h-13z"/>
<path fill="#8d7e7e" d="M630 243h13v3h-13zM656 251h13v1h-13zM695 307h13v1h-13zM579 345h13v1h-13zM604 345h13v1h-13zM656 359h13v1h-13zM630 394h13v1h-13z"/>
<path fill="#877575" d="M643 243h13v3h-13z"/>
<path fill="#210f0f" d="M682 243h13v3h-13z"/>
<path fill="#f3e7e7" d="M592 246h12v2h-12zM566 289h13v1h-13zM579 343h13v1h-13zM553 397h13v2h-13z"/>
<path fill="#d8cccc" d="M643 246h13v2h-13zM656 323h13v1h-13zM604 335h13v1h-13zM617 354h13v2h-13z"/>
<path fill="#ab6f6f" d="M540 248h13v2h-13z"/>
<path fill="#a57272" d="M553 248h13v2h-13z"/>
<path fill="#a27875" d="M566 248h13v2h-13z"/>
<path fill="#5a3030" d="M579 248h13v2h-13z"/>
<path fill="#c69c9c" d="M566 250h13v1h-13z"/>
<path fill="#cfaeae" d="M579 250h13v1h-13z"/>
<path fill="#c6a8a8" d="M592 250h12v1h-12zM592 251h12v1h-12z"/>
<path fill="#baa5a5" d="M604 250h13v1h-13zM604 251h13v1h-13zM566 292h13v3h-13z"/>
<path fill="#8d7b7b" d="M695 250h13v1h-13zM604 362h13v1h-13zM579 367h13v1h-13z"/>
<path fill="#907e7e" d="M708 250h13v1h-13zM708 307h13v1h-13zM682 310h13v1h-13zM630 311h13v1h-13zM566 365h13v1h-13z"/>
<path fill="#e7bdbd" d="M540 251h13v1h-13z"/>
<path fill="#d8b1b1" d="M566 251h13v1h-13z"/>
<path fill="#cfaeab" d="M579 251h13v1h-13z"/>
<path fill="#ae9f9f" d="M617 251h13v1h-13zM630 342h13v1h-13zM566 377h13v2h-13z"/>
<path fill="#998787" d="M643 251h13v1h-13zM604 394h13v1h-13z"/>
<path fill="#9f6c69" d="M553 252h13v1h-13z"/>
<path fill="#996c69" d="M566 252h13v1h-13z"/>
<path fill="#906c6c" d="M579 252h13v1h-13z"/>
<path fill="#8a6c6c" d="M592 252h12v1h-12z"/>
<path fill="#846c6c" d="M604 252h13v1h-13z"/>
<path fill="#756666" d="M630 252h13v1h-13z"/>
<path fill="#726060" d="M643 252h13v1h-13zM617 365h13v1h-13z"/>
<path fill="#f3eaea" d="M540 253h13v3h-13zM553 261h13v1h-13zM592 276h12v1h-12zM579 277h13v2h-13zM592 286h12v1h-12zM579 289h13v1h-13zM566 307h13v1h-13zM540 311h13v1h-13zM566 311h13v1h-13z"/>
<path fill="#f9f6f6" d="M553 253h13v3h-13zM566 258h13v1h-13zM566 268h13v1h-13zM566 276h13v1h-13zM566 312h13v1h-13zM579 323h13v1h-13zM566 327h13v1h-13zM553 335h13v1h-13zM540 341h13v1h-13zM553 368h13v1h-13zM553 373h13v1h-13zM566 376h13v1h-13zM579 396h13v1h-13z"/>
<path fill="#3f302d" d="M579 253h13v3h-13z"/>
<path fill="#241818" d="M592 253h12v3h-12zM721 298h13v1h-13zM579 306h13v1h-13zM604 306h13v1h-13zM592 358h12v1h-12z"/>
<path fill="#f6f0f0" d="M579 256h13v2h-13zM579 276h13v1h-13zM566 286h13v1h-13zM566 335h13v1h-13zM540 356h13v2h-13zM592 356h12v2h-12zM540 390h13v1h-13z"/>
<path fill="#d8c6c6" d="M579 258h13v1h-13z"/>
<path fill="#bdabab" d="M604 258h13v1h-13zM656 376h13v1h-13zM579 388h13v1h-13z"/>
<path fill="#9c8a8a" d="M630 258h13v1h-13zM630 340h13v1h-13zM643 359h13v1h-13zM540 365h13v1h-13z"/>
<path fill="#dbc9c9" d="M553 259h13v2h-13zM566 279h13v2h-13zM553 284h13v2h-13zM604 290h13v1h-13z"/>
<path fill="#d2c0c0" d="M566 259h13v2h-13z"/>
<path fill="#a59090" d="M592 259h12v2h-12zM540 274h13v1h-13zM553 281h13v1h-13z"/>
<path fill="#968784" d="M604 259h13v2h-13z"/>
<path fill="#1b1212" d="M630 259h13v2h-13zM617 317h13v3h-13zM617 351h13v1h-13z"/>
<path fill="#f0e4e4" d="M566 261h13v1h-13zM592 277h12v2h-12zM592 289h12v1h-12zM579 307h13v1h-13zM579 327h13v1h-13zM566 360h13v1h-13zM592 373h12v1h-12z"/>
<path fill="#eadedb" d="M579 261h13v1h-13z"/>
<path fill="#9f8a8a" d="M553 262h13v2h-13zM566 274h13v1h-13z"/>
<path fill="#e1cfcf" d="M553 264h13v1h-13zM553 279h13v2h-13z"/>
<path fill="#eddede" d="M540 265h13v1h-13zM540 296h13v2h-13z"/>
<path fill="#c3abab" d="M540 266h13v2h-13z"/>
<path fill="#574242" d="M553 266h13v2h-13z"/>
<path fill="#453333" d="M579 266h13v2h-13z"/>
<path fill="#d8c6c3" d="M553 271h13v1h-13z"/>
<path fill="#ccbaba" d="M566 271h13v1h-13zM579 284h13v2h-13zM604 359h13v1h-13z"/>
<path fill="#756363" d="M617 271h13v1h-13zM604 310h13v1h-13zM656 354h13v2h-13z"/>
<path fill="#5a4b4b" d="M656 271h13v1h-13zM579 351h13v1h-13z"/>
<path fill="#423030" d="M579 272h13v2h-13zM617 275h13v1h-13zM630 286h13v1h-13zM553 295h13v1h-13zM540 299h26v1h-26zM553 308h13v2h-13z"/>
<path fill="#3c2d2d" d="M592 272h12v2h-12zM579 282h13v1h-13z"/>
<path fill="#a28d8d" d="M553 274h13v1h-13zM553 306h13v1h-13zM566 306h13v1h-13z"/>
<path fill="#1e1515" d="M579 275h13v1h-13zM604 279h13v2h-13zM630 314h13v1h-13zM643 356h13v2h-13zM604 358h13v1h-13z"/>
<path fill="#271b18" d="M592 275h12v1h-12z"/>
<path fill="#362727" d="M604 275h13v1h-13zM579 305h38v1h-38zM592 308h12v2h-12zM604 351h13v1h-13zM592 374h12v2h-12z"/>
<path fill="#5d3c3c" d="M488 276h13v1h-13zM475 307h13v1h-13z"/>
<path fill="#332424" d="M604 277h13v2h-13zM540 305h13v1h-13zM553 305h13v1h-13zM566 305h13v1h-13z"/>
<path fill="#a89090" d="M540 281h13v1h-13z"/>
<path fill="#bda8a8" d="M566 281h13v1h-13z"/>
<path fill="#b7a5a5" d="M592 281h12v1h-12zM643 283h13v1h-13z"/>
<path fill="#b49f9f" d="M553 282h13v1h-13z"/>
<path fill="#2d1e1e" d="M592 282h12v1h-12zM579 308h13v2h-13z"/>
<path fill="#99726f" d="M540 283h13v1h-13z"/>
<path fill="#c3aeae" d="M553 283h13v1h-13z"/>
<path fill="#c0abab" d="M566 283h13v1h-13z"/>
<path fill="#d5c0c0" d="M566 284h13v2h-13z"/>
<path fill="#544242" d="M579 287h13v2h-13zM656 315h13v2h-13zM592 352h12v2h-12zM540 379h26v1h-26zM617 396h13v1h-13z"/>
<path fill="#937b7b" d="M553 291h13v1h-13z"/>
<path fill="#604e4e" d="M566 291h13v1h-13zM579 291h13v1h-13zM656 310h13v1h-13z"/>
<path fill="#5d4b4b" d="M592 291h12v1h-12zM566 351h13v1h-13z"/>
<path fill="#513f3f" d="M579 292h13v3h-13zM592 301h12v2h-12z"/>
<path fill="#271818" d="M604 292h13v3h-13z"/>
<path fill="#664542" d="M501 295h13v1h-13z"/>
<path fill="#543f3f" d="M553 296h13v2h-13z"/>
<path fill="#2a2121" d="M669 298h13v1h-13z"/>
<path fill="#483636" d="M617 299h13v1h-13z"/>
<path fill="#ede1e1" d="M592 300h12v1h-12zM553 354h13v2h-13zM566 390h13v1h-13zM553 395h13v1h-13zM566 395h13v1h-13zM566 397h13v2h-13z"/>
<path fill="#635151" d="M604 301h13v2h-13zM617 301h13v2h-13z"/>
<path fill="#3f2d2d" d="M592 306h12v1h-12z"/>
<path fill="#634242" d="M527 310h13v1h-13z"/>
<path fill="#998484" d="M540 310h13v1h-13z"/>
<path fill="#937e7e" d="M553 310h13v1h-13z"/>
<path fill="#8d7878" d="M566 310h13v1h-13z"/>
<path fill="#786666" d="M617 310h13v1h-13zM617 362h13v1h-13zM604 367h13v1h-13z"/>
<path fill="#514242" d="M669 311h13v1h-13zM592 313h12v1h-12zM604 320h13v3h-13zM553 344h13v1h-13zM592 361h12v1h-12z"/>
<path fill="#241b1b" d="M682 311h13v1h-13zM553 328h51v2h-51zM553 352h13v2h-13zM566 369h13v3h-13z"/>
<path fill="#877878" d="M579 313h13v1h-13z"/>
<path fill="#453636" d="M656 313h13v1h-13zM592 351h12v1h-12zM579 352h13v2h-13zM669 356h13v2h-13zM630 360h13v1h-13zM643 360h13v1h-13zM682 397h13v2h-13z"/>
<path fill="#332727" d="M540 314h64v1h-64zM630 317h13v3h-13zM566 344h13v1h-13z"/>
<path fill="#181212" d="M604 314h13v1h-13z"/>
<path fill="#392d2d" d="M643 314h13v1h-13zM656 386h13v2h-13z"/>
<path fill="#fcfcfc" d="M553 323h13v1h-13zM553 369h13v3h-13z"/>
<path fill="#362a2a" d="M604 328h13v2h-13zM604 386h52v2h-52z"/>
<path fill="#eae1e1" d="M553 331h13v2h-13zM553 382h13v2h-13z"/>
<path fill="#ede4e4" d="M553 349h13v2h-13zM579 354h13v2h-13zM553 359h13v1h-13zM553 384h13v2h-13z"/>
<path fill="#f0e7e7" d="M566 356h13v2h-13zM540 359h13v1h-13z"/>
<path fill="#f3eded" d="M553 360h13v1h-13zM540 384h13v2h-13z"/>
<path fill="#271e1e" d="M592 363h12v2h-12z"/>
<path fill="#786969" d="M604 365h13v1h-13z"/>
<path fill="#603f3f" d="M501 373h13v1h-13z"/>
<path fill="#694848" d="M475 391h13v1h-13z"/>
<path fill="#f69c99" d="M488 399h13v2h-13zM488 401h13v1h-13zM488 402h13v1h-13zM527 420h13v1h-13zM527 421h13v2h-13zM527 423h13v1h-13zM527 424h13v2h-13z"/>
<path fill="#f68a87" d="M501 399h13v2h-13zM501 401h13v1h-13zM501 402h13v1h-13zM540 424h13v2h-13zM540 426h13v3h-13zM540 429h13v1h-13zM540 430h13v2h-13zM540 439h13v1h-13zM540 442h13v1h-13zM488 445h26v1h-26zM501 446h13v1h-13zM501 447h13v1h-13zM501 448h13v2h-13zM501 450h13v2h-13zM540 511h13v1h-13zM540 515h13v1h-13zM540 520h13v1h-13zM540 521h13v2h-13zM514 540h13v2h-13zM514 542h13v1h-13zM514 543h13v1h-13zM514 544h13v3h-13zM514 547h13v2h-13zM527 600h13v2h-13zM527 602h13v1h-13zM527 603h13v1h-13zM540 608h13v1h-13zM540 610h13v1h-13z"/>
<path fill="#f03c2a" d="M514 399h13v2h-13zM514 401h13v1h-13zM514 402h13v1h-13zM514 403h13v1h-13zM514 404h13v3h-13z"/>
<path fill="#ea2d18" d="M527 399h13v2h-13zM527 401h13v1h-13zM527 402h13v1h-13zM527 403h13v1h-13zM527 404h13v3h-13z"/>
<path fill="#f34b3c" d="M540 399h13v2h-13zM540 417h13v1h-13z"/>
<path fill="#f09c99" d="M553 399h13v2h-13z"/>
<path fill="#e47572" d="M566 399h13v2h-13z"/>
<path fill="#e1635d" d="M579 399h13v2h-13zM566 402h13v1h-13z"/>
<path fill="#f3a5a2" d="M592 399h12v2h-12z"/>
<path fill="#480606" d="M604 399h13v2h-13zM630 401h13v1h-13z"/>
<path fill="#5d0909" d="M617 399h13v2h-13z"/>
<path fill="#420606" d="M630 399h13v2h-13z"/>
<path fill="#c6423f" d="M540 401h13v1h-13zM604 416h13v1h-13z"/>
<path fill="#c03c39" d="M553 401h13v1h-13z"/>
<path fill="#b42d2a" d="M566 401h13v1h-13zM617 416h13v1h-13zM553 421h13v2h-13zM643 429h13v1h-13z"/>
<path fill="#961e1b" d="M579 401h13v1h-13zM695 403h13v1h-13zM708 403h13v1h-13z"/>
<path fill="#b7302a" d="M592 401h12v1h-12zM630 420h13v1h-13z"/>
<path fill="#b12a24" d="M604 401h13v1h-13z"/>
<path fill="#b7302d" d="M617 401h13v1h-13z"/>
<path fill="#3f0606" d="M643 401h13v1h-13zM604 402h13v1h-13z"/>
<path fill="#2a0303" d="M656 401h13v1h-13zM669 416h13v1h-13z"/>
<path fill="#f34839" d="M540 402h13v1h-13zM540 410h13v1h-13zM488 418h13v2h-13zM488 420h13v1h-13zM488 421h13v2h-13zM488 423h13v1h-13z"/>
<path fill="#e16660" d="M553 402h13v1h-13z"/>
<path fill="#de605a" d="M579 402h13v1h-13zM643 413h13v1h-13zM540 423h13v1h-13z"/>
<path fill="#ea817e" d="M592 402h12v1h-12zM604 407h13v1h-13z"/>
<path fill="#4e0906" d="M617 402h13v1h-13z"/>
<path fill="#450606" d="M630 402h26v1h-26zM656 416h13v1h-13zM553 417h13v1h-13z"/>
<path fill="#f69999" d="M488 403h13v1h-13zM488 404h13v3h-13zM488 407h13v1h-13zM488 408h13v2h-13zM488 410h13v1h-13zM488 411h13v1h-13zM501 590h13v1h-13zM501 591h13v2h-13zM501 593h13v1h-13zM501 594h13v1h-13zM501 595h13v3h-13z"/>
<path fill="#f68481" d="M501 403h13v1h-13zM501 404h13v3h-13zM501 407h13v1h-13zM501 408h13v2h-13zM501 410h13v1h-13zM501 411h13v1h-13zM501 412h13v1h-13zM501 413h13v1h-13zM501 414h13v2h-13zM501 416h13v1h-13zM527 445h13v1h-13zM488 446h13v1h-13zM527 446h13v1h-13zM488 447h13v1h-13zM527 447h13v1h-13zM488 448h13v2h-13zM514 448h13v2h-13zM527 448h13v2h-13zM488 450h13v2h-13zM514 450h13v2h-13zM527 450h13v2h-13zM488 452h13v1h-13zM514 452h13v1h-13zM527 452h13v1h-13zM488 453h13v1h-13zM514 453h13v1h-13zM540 465h13v2h-13zM540 470h13v1h-13zM540 471h13v1h-13zM488 473h13v2h-13zM488 475h13v2h-13zM488 477h13v1h-13zM488 478h13v1h-13zM488 479h13v3h-13zM488 482h13v1h-13zM488 483h13v2h-13zM527 550h13v2h-13zM527 552h13v1h-13zM527 553h13v1h-13zM527 554h13v2h-13zM527 556h13v1h-13zM527 557h13v2h-13zM527 559h13v1h-13zM540 580h13v2h-13zM540 582h13v2h-13zM540 586h13v1h-13zM527 604h13v1h-13zM527 605h13v2h-13zM527 607h13v1h-13zM527 608h13v1h-13zM527 609h13v1h-13zM527 610h13v1h-13zM527 611h13v2h-13z"/>
<path fill="#c03c36" d="M540 403h26v1h-26zM566 403h13v1h-13z"/>
<path fill="#c03936" d="M579 403h64v1h-64zM643 418h13v2h-13z"/>
<path fill="#720f0c" d="M643 403h13v1h-13zM656 403h39v1h-39zM604 414h13v2h-13z"/>
<path fill="#8a1815" d="M721 403h13v1h-13z"/>
<path fill="#e4726f" d="M540 404h13v3h-13z"/>
<path fill="#e46f69" d="M553 404h13v3h-13z"/>
<path fill="#e16966" d="M566 404h13v3h-13z"/>
<path fill="#e16663" d="M579 404h13v3h-13zM630 413h13v1h-13z"/>
<path fill="#a82421" d="M592 404h12v3h-12z"/>
<path fill="#e42a18" d="M514 407h13v1h-13zM514 408h13v2h-13zM514 410h13v1h-13zM514 411h13v1h-13zM514 412h13v1h-13zM514 413h13v1h-13zM514 414h13v2h-13zM514 416h13v1h-13zM514 433h13v1h-13zM514 434h13v2h-13zM514 436h13v3h-13z"/>
<path fill="#ed2d1b" d="M527 407h13v1h-13zM527 408h13v2h-13zM527 410h13v1h-13zM527 411h13v1h-13zM527 412h13v1h-13z"/>
<path fill="#e46f6c" d="M540 407h13v1h-13zM592 413h12v1h-12zM617 413h13v1h-13zM566 414h13v2h-13z"/>
<path fill="#f3aba8" d="M553 407h13v1h-13z"/>
<path fill="#f3a8a5" d="M566 407h13v1h-13z"/>
<path fill="#f0a5a2" d="M579 407h13v1h-13zM553 433h13v1h-13z"/>
<path fill="#e16360" d="M592 407h12v1h-12zM604 411h13v1h-13z"/>
<path fill="#e77e7b" d="M617 407h13v1h-13z"/>
<path fill="#ed908d" d="M630 407h13v1h-13z"/>
<path fill="#ed8d8a" d="M643 407h13v1h-13z"/>
<path fill="#de605d" d="M656 407h13v1h-13z"/>
<path fill="#ed8a87" d="M540 408h13v2h-13z"/>
<path fill="#e77b75" d="M553 408h13v2h-13z"/>
<path fill="#e16963" d="M566 408h13v2h-13z"/>
<path fill="#bd3936" d="M553 410h13v1h-13z"/>
<path fill="#bd3933" d="M566 410h13v1h-13zM592 411h12v1h-12zM540 421h13v2h-13z"/>
<path fill="#600909" d="M579 410h13v1h-13z"/>
<path fill="#360303" d="M592 410h12v1h-12z"/>
<path fill="#300303" d="M604 410h13v1h-13z"/>
<path fill="#c33f3c" d="M540 411h13v1h-13z"/>
<path fill="#b12a27" d="M553 411h13v1h-13z"/>
<path fill="#871815" d="M566 411h13v1h-13z"/>
<path fill="#c33f39" d="M579 411h13v1h-13z"/>
<path fill="#d85a57" d="M617 411h13v1h-13z"/>
<path fill="#d85754" d="M630 411h13v1h-13zM604 420h13v1h-13z"/>
<path fill="#d55751" d="M643 411h13v1h-13zM656 413h13v1h-13zM617 423h13v1h-13zM553 429h13v1h-13z"/>
<path fill="#d55451" d="M656 411h13v1h-13zM592 416h12v1h-12zM566 429h13v1h-13zM579 429h13v1h-13z"/>
<path fill="#f34b3f" d="M540 412h13v1h-13zM540 413h13v1h-13z"/>
<path fill="#f03c2d" d="M553 412h13v1h-13z"/>
<path fill="#ab2724" d="M566 412h13v1h-13z"/>
<path fill="#3f0603" d="M579 412h13v1h-13z"/>
<path fill="#c62115" d="M527 413h13v1h-13zM527 414h13v2h-13zM527 416h13v1h-13zM527 417h13v1h-13zM527 418h13v2h-13z"/>
<path fill="#f35445" d="M553 413h13v1h-13z"/>
<path fill="#f3aeab" d="M566 413h13v1h-13zM553 416h13v1h-13z"/>
<path fill="#e77875" d="M579 413h13v1h-13zM604 413h13v1h-13z"/>
<path fill="#db5d5a" d="M540 414h13v2h-13zM592 423h12v1h-12z"/>
<path fill="#db5a57" d="M553 414h13v2h-13z"/>
<path fill="#e46c69" d="M579 414h13v2h-13zM592 420h12v1h-12z"/>
<path fill="#ba3330" d="M592 414h12v2h-12z"/>
<path fill="#a83936" d="M540 416h13v1h-13zM643 523h13v1h-13zM643 531h13v1h-13zM540 534h13v1h-13z"/>
<path fill="#f09996" d="M566 416h13v1h-13z"/>
<path fill="#ea8481" d="M579 416h13v1h-13z"/>
<path fill="#9c211e" d="M630 416h13v1h-13z"/>
<path fill="#841515" d="M643 416h13v1h-13z"/>
<path fill="#1b0000" d="M682 416h26v1h-26z"/>
<path fill="#f68d8a" d="M501 417h13v1h-13zM501 418h13v2h-13zM501 420h13v1h-13zM488 454h13v2h-13zM514 454h13v2h-13zM488 456h13v1h-13zM514 456h13v1h-13zM488 457h13v2h-13zM514 457h13v2h-13zM514 459h13v1h-13zM488 460h13v1h-13zM514 460h13v1h-13zM488 461h13v1h-13zM514 461h13v1h-13zM514 462h13v1h-13zM514 463h13v2h-13zM501 473h13v2h-13zM501 475h13v2h-13zM501 477h13v1h-13zM501 478h13v1h-13zM553 478h13v1h-13zM501 479h13v3h-13zM501 482h13v1h-13zM501 483h13v2h-13zM501 485h13v1h-13zM501 486h13v2h-13zM540 523h13v1h-13zM527 527h13v2h-13zM527 529h13v1h-13zM527 530h13v1h-13zM540 530h13v1h-13zM527 531h13v1h-13zM527 532h13v1h-13zM501 533h13v1h-13zM527 533h13v1h-13zM540 533h13v1h-13zM501 534h13v1h-13zM527 534h13v1h-13zM501 535h13v2h-13zM527 535h13v2h-13zM501 537h13v2h-13zM527 537h13v2h-13zM501 539h13v1h-13zM527 539h13v1h-13zM501 540h13v2h-13zM527 540h13v2h-13zM501 542h13v1h-13zM527 542h13v1h-13zM501 543h13v1h-13zM527 543h13v1h-13zM527 544h13v3h-13zM527 547h13v2h-13zM527 549h13v1h-13zM514 586h13v1h-13zM514 587h13v3h-13zM514 590h13v1h-13zM514 591h13v2h-13zM514 593h13v1h-13zM514 594h13v1h-13zM540 620h13v1h-13z"/>
<path fill="#f04230" d="M514 417h13v1h-13zM514 418h13v2h-13zM514 430h13v2h-13zM514 432h13v1h-13z"/>
<path fill="#3c0603" d="M566 417h13v1h-13zM592 421h12v2h-12z"/>
<path fill="#540906" d="M540 418h13v2h-13zM553 418h13v2h-13z"/>
<path fill="#5a0909" d="M566 418h51v2h-51z"/>
<path fill="#690c09" d="M617 418h26v2h-26z"/>
<path fill="#390303" d="M656 418h13v2h-13zM566 424h13v2h-13zM553 432h13v1h-13z"/>
<path fill="#f69693" d="M514 420h13v1h-13zM514 421h13v2h-13zM514 423h13v1h-13zM514 424h13v2h-13zM514 426h13v3h-13zM514 429h13v1h-13zM540 482h13v1h-13zM540 485h13v1h-13zM540 488h13v1h-13zM540 489h13v2h-13zM540 491h13v1h-13zM501 493h13v1h-13zM501 494h13v2h-13zM501 496h13v2h-13zM501 498h13v1h-13zM501 499h13v1h-13zM501 500h13v3h-13zM540 614h13v2h-13zM540 617h13v2h-13z"/>
<path fill="#f6bdba" d="M540 420h13v1h-13z"/>
<path fill="#f3b4b1" d="M553 420h13v1h-13z"/>
<path fill="#ed9390" d="M566 420h13v1h-13z"/>
<path fill="#e7817e" d="M579 420h13v1h-13z"/>
<path fill="#c6453f" d="M617 420h13v1h-13z"/>
<path fill="#9f211e" d="M643 420h13v1h-13z"/>
<path fill="#811512" d="M656 420h13v1h-13z"/>
<path fill="#f6817e" d="M501 421h13v2h-13zM501 423h13v1h-13zM501 424h13v2h-13zM501 426h13v3h-13zM501 429h13v1h-13zM501 430h13v2h-13zM527 453h13v1h-13zM527 454h13v2h-13zM527 456h13v1h-13zM553 511h13v1h-13zM527 628h13v3h-13zM527 631h13v1h-13zM527 632h13v1h-13zM527 633h13v1h-13zM527 634h13v2h-13z"/>
<path fill="#ae2724" d="M566 421h13v2h-13z"/>
<path fill="#570909" d="M579 421h13v2h-13z"/>
<path fill="#cf4e4b" d="M553 423h13v1h-13zM643 423h13v1h-13z"/>
<path fill="#cc4b48" d="M566 423h13v1h-13zM656 423h13v1h-13z"/>
<path fill="#a2211e" d="M579 423h13v1h-13z"/>
<path fill="#d85a54" d="M604 423h13v1h-13z"/>
<path fill="#d2514e" d="M630 423h13v1h-13zM592 429h12v1h-12z"/>
<path fill="#f0a29f" d="M553 424h13v2h-13z"/>
<path fill="#660c09" d="M579 424h13v2h-13z"/>
<path fill="#f6847e" d="M527 426h13v3h-13zM527 429h13v1h-13zM488 462h13v1h-13zM488 463h13v2h-13zM488 465h13v2h-13zM527 477h13v1h-13zM527 478h13v1h-13zM527 479h13v3h-13zM514 482h26v1h-26zM514 483h26v2h-26zM514 485h26v1h-26zM514 486h26v2h-26zM514 488h26v1h-26zM514 489h26v2h-26zM514 491h13v1h-13zM540 499h13v1h-13zM540 500h13v3h-13zM540 503h13v2h-13zM514 506h13v1h-13zM514 507h13v1h-13zM514 508h13v1h-13zM514 509h13v2h-13zM514 511h13v1h-13zM514 512h13v3h-13zM514 515h13v1h-13zM514 516h13v1h-13zM514 517h13v2h-13zM514 519h13v1h-13z"/>
<path fill="#cc4845" d="M553 426h13v3h-13zM617 429h13v1h-13zM540 432h13v1h-13z"/>
<path fill="#cc4b45" d="M604 429h13v1h-13z"/>
<path fill="#c94845" d="M630 429h13v1h-13z"/>
<path fill="#d5544e" d="M656 429h13v1h-13z"/>
<path fill="#f0301e" d="M527 430h13v2h-13zM527 432h13v1h-13zM527 433h13v1h-13zM527 434h13v2h-13zM527 436h13v3h-13z"/>
<path fill="#6c0c09" d="M553 430h26v2h-26z"/>
<path fill="#f6817b" d="M501 432h13v1h-13zM501 433h13v1h-13zM501 434h13v2h-13zM501 461h13v1h-13zM501 462h13v1h-13zM501 463h13v2h-13zM501 465h13v2h-13zM553 491h13v1h-13z"/>
<path fill="#6c0c0c" d="M566 432h13v1h-13z"/>
<path fill="#f0a8a5" d="M540 433h13v1h-13zM579 482h13v1h-13z"/>
<path fill="#ea9390" d="M566 433h13v1h-13z"/>
<path fill="#e18481" d="M579 433h13v1h-13zM553 506h13v1h-13zM630 511h13v1h-13zM604 529h13v1h-13z"/>
<path fill="#db726f" d="M592 433h12v1h-12zM617 460h13v1h-13zM579 467h13v3h-13z"/>
<path fill="#cf605d" d="M604 433h13v1h-13zM604 439h13v1h-13zM553 467h13v3h-13z"/>
<path fill="#b7453f" d="M617 433h13v1h-13z"/>
<path fill="#a83330" d="M630 433h13v1h-13zM553 446h13v1h-13zM617 457h13v2h-13zM630 457h13v2h-13zM643 457h13v2h-13zM656 457h13v2h-13zM566 485h13v1h-13zM656 485h13v1h-13zM592 488h12v1h-12zM630 491h13v1h-13zM656 491h13v1h-13z"/>
<path fill="#902724" d="M643 433h13v1h-13zM617 452h13v1h-13z"/>
<path fill="#7b1e1b" d="M656 433h13v1h-13zM592 473h12v2h-12zM643 473h13v2h-13z"/>
<path fill="#450c0c" d="M540 434h13v2h-13zM643 465h26v2h-26zM566 489h13v2h-13zM579 509h13v2h-13zM630 527h13v2h-13zM592 537h12v2h-12zM604 544h13v3h-13z"/>
<path fill="#601212" d="M553 434h13v2h-13zM682 448h13v2h-13zM617 473h13v2h-13z"/>
<path fill="#420c09" d="M566 434h13v2h-13zM617 467h13v3h-13zM592 470h12v1h-12zM592 479h12v3h-12z"/>
<path fill="#4b0c0c" d="M579 434h13v2h-13zM566 456h13v1h-13zM566 470h13v1h-13zM553 477h13v1h-13zM579 489h13v2h-13z"/>
<path fill="#f67e7b" d="M501 436h13v3h-13zM501 439h13v1h-13zM501 440h13v2h-13zM501 442h13v1h-13zM501 443h13v2h-13z"/>
<path fill="#f0b1b1" d="M540 436h13v3h-13zM540 459h13v1h-13z"/>
<path fill="#f3c0c0" d="M553 436h13v3h-13z"/>
<path fill="#f3bab7" d="M566 436h13v3h-13zM553 470h13v1h-13z"/>
<path fill="#f0b1ae" d="M579 436h13v3h-13zM592 511h12v1h-12zM553 529h13v1h-13z"/>
<path fill="#f35145" d="M514 439h13v1h-13zM514 440h13v2h-13zM514 442h13v1h-13zM514 443h13v2h-13z"/>
<path fill="#f0331e" d="M527 439h13v1h-13zM527 440h13v2h-13zM527 442h13v1h-13zM527 443h13v2h-13z"/>
<path fill="#d86c69" d="M553 439h13v1h-13zM579 460h13v1h-13z"/>
<path fill="#d86966" d="M566 439h13v1h-13z"/>
<path fill="#d56663" d="M579 439h13v1h-13zM604 445h13v1h-13zM592 462h12v1h-12zM579 478h13v1h-13zM592 491h12v1h-12z"/>
<path fill="#d26360" d="M592 439h12v1h-12zM682 482h13v1h-13z"/>
<path fill="#cf5d5a" d="M617 439h13v1h-13z"/>
<path fill="#cc5a57" d="M630 439h13v1h-13zM617 443h52v2h-52zM604 462h13v1h-13zM604 491h13v1h-13z"/>
<path fill="#c04e4b" d="M643 439h13v1h-13zM579 442h13v1h-13zM579 462h13v1h-13zM643 478h13v1h-13zM566 488h13v1h-13zM617 491h13v1h-13z"/>
<path fill="#bd4b48" d="M656 439h13v1h-13zM592 442h12v1h-12zM553 443h13v2h-13zM566 443h26v2h-26zM592 443h25v2h-25zM540 472h13v1h-13zM656 478h13v1h-13z"/>
<path fill="#ab3633" d="M540 440h13v2h-13zM566 457h13v2h-13zM579 457h13v2h-13zM540 477h13v1h-13zM643 485h13v1h-13zM540 486h13v2h-13z"/>
<path fill="#c65451" d="M553 442h13v1h-13zM656 460h13v1h-13zM630 478h13v1h-13zM553 488h13v1h-13z"/>
<path fill="#c3514e" d="M566 442h13v1h-13zM630 445h13v1h-13z"/>
<path fill="#ba4845" d="M604 442h13v1h-13zM579 452h13v1h-13zM579 488h13v1h-13z"/>
<path fill="#b74542" d="M617 442h13v1h-13zM553 472h13v1h-13z"/>
<path fill="#b4423c" d="M630 442h13v1h-13z"/>
<path fill="#b13f39" d="M643 442h13v1h-13z"/>
<path fill="#ae3936" d="M656 442h13v1h-13zM553 463h13v2h-13zM566 463h13v2h-13zM553 485h13v1h-13z"/>
<path fill="#f68784" d="M540 443h13v2h-13zM475 445h13v1h-13zM540 445h13v1h-13zM475 446h13v1h-13zM540 446h13v1h-13zM475 447h13v1h-13zM475 448h13v2h-13zM475 450h13v2h-13zM540 450h13v2h-13zM475 452h13v1h-13zM475 453h13v1h-13zM501 488h13v1h-13zM501 489h13v2h-13zM501 491h13v1h-13zM501 492h13v1h-13zM501 512h13v3h-13zM501 515h13v1h-13zM501 516h13v1h-13zM501 517h13v2h-13zM501 519h13v1h-13zM501 520h13v1h-13zM514 520h13v1h-13zM514 521h13v2h-13zM514 523h13v1h-13zM514 524h13v2h-13zM514 526h13v1h-13zM514 527h13v2h-13zM514 529h13v1h-13zM514 530h13v1h-13zM553 539h13v1h-13zM553 559h13v1h-13zM501 598h13v2h-13zM501 600h13v2h-13zM501 602h13v1h-13zM501 603h13v1h-13zM501 604h13v1h-13zM501 605h13v2h-13zM501 607h13v1h-13zM501 608h13v1h-13zM501 609h13v1h-13zM540 632h13v1h-13zM540 633h13v1h-13zM540 636h13v1h-13zM540 637h13v2h-13z"/>
<path fill="#f69f9c" d="M514 445h13v1h-13zM514 446h13v1h-13zM514 447h13v1h-13z"/>
<path fill="#f3baba" d="M553 445h13v1h-13zM553 498h13v1h-13z"/>
<path fill="#e48481" d="M566 445h13v1h-13zM553 473h13v2h-13z"/>
<path fill="#e17b78" d="M579 445h13v1h-13zM553 489h13v2h-13z"/>
<path fill="#db726c" d="M592 445h12v1h-12z"/>
<path fill="#cc5d57" d="M617 445h13v1h-13zM695 482h13v1h-13z"/>
<path fill="#ba4542" d="M643 445h13v1h-13z"/>
<path fill="#b13c39" d="M656 445h13v1h-13zM579 448h13v2h-13zM566 450h13v2h-13zM604 485h13v1h-13z"/>
<path fill="#60120f" d="M566 446h13v1h-13z"/>
<path fill="#661212" d="M579 446h13v1h-13z"/>
<path fill="#5d120f" d="M592 446h12v1h-12zM579 459h13v1h-13z"/>
<path fill="#5a0f0f" d="M604 446h13v1h-13z"/>
<path fill="#f3b7b7" d="M540 447h13v1h-13z"/>
<path fill="#f3c0bd" d="M553 447h13v1h-13zM579 511h13v1h-13z"/>
<path fill="#f3b7b4" d="M566 447h13v1h-13z"/>
<path fill="#eda5a2" d="M579 447h13v1h-13zM630 549h13v1h-13z"/>
<path fill="#c04b48" d="M540 448h13v2h-13z"/>
<path fill="#ba4842" d="M553 448h13v2h-13z"/>
<path fill="#b4423f" d="M566 448h13v2h-13z"/>
<path fill="#b43f3c" d="M592 448h12v2h-12zM540 452h13v1h-13zM566 472h13v1h-13zM643 491h13v1h-13z"/>
<path fill="#9f2d2a" d="M604 448h13v2h-13z"/>
<path fill="#842121" d="M617 448h13v2h-13z"/>
<path fill="#7e1e1b" d="M630 448h13v2h-13z"/>
<path fill="#751b18" d="M643 448h13v2h-13z"/>
<path fill="#6f1815" d="M656 448h13v2h-13zM566 454h90v2h-90zM656 473h13v2h-13z"/>
<path fill="#691512" d="M669 448h13v2h-13zM579 461h13v1h-13z"/>
<path fill="#5a120f" d="M695 448h13v2h-13zM630 472h13v1h-13z"/>
<path fill="#721818" d="M708 448h13v2h-13z"/>
<path fill="#6c1515" d="M721 448h13v2h-13z"/>
<path fill="#540f0f" d="M579 450h13v2h-13zM592 472h12v1h-12z"/>
<path fill="#360906" d="M592 450h12v2h-12z"/>
<path fill="#f69393" d="M501 452h13v1h-13zM501 453h13v1h-13z"/>
<path fill="#ab3630" d="M553 452h13v1h-13zM592 457h12v2h-12z"/>
<path fill="#a5332d" d="M566 452h13v1h-13zM617 462h13v1h-13z"/>
<path fill="#9c2d2a" d="M592 452h12v1h-12z"/>
<path fill="#962a27" d="M604 452h13v1h-13z"/>
<path fill="#8a2424" d="M630 452h13v1h-13z"/>
<path fill="#a53330" d="M643 452h13v1h-13zM579 485h13v1h-13z"/>
<path fill="#9f302d" d="M656 452h13v1h-13z"/>
<path fill="#de7875" d="M540 453h13v1h-13zM708 482h13v1h-13z"/>
<path fill="#f34e3f" d="M501 454h13v2h-13z"/>
<path fill="#f69696" d="M540 454h13v2h-13zM540 460h13v1h-13z"/>
<path fill="#4e0f0c" d="M656 454h13v2h-13zM566 465h26v2h-26zM630 465h13v2h-13z"/>
<path fill="#f0392a" d="M501 456h13v1h-13zM501 457h13v2h-13zM501 459h13v1h-13z"/>
<path fill="#3f0909" d="M540 456h13v1h-13zM579 456h13v1h-13zM592 463h12v2h-12zM604 463h13v2h-13zM579 470h13v1h-13zM617 471h26v1h-26zM566 486h13v2h-13z"/>
<path fill="#631212" d="M553 456h13v1h-13zM566 459h13v1h-13zM579 479h13v3h-13z"/>
<path fill="#f67872" d="M527 457h13v2h-13zM527 459h13v1h-13zM527 460h13v1h-13zM527 461h13v1h-13zM527 462h13v1h-13zM527 463h13v2h-13zM527 465h13v2h-13zM527 467h13v3h-13zM527 470h13v1h-13zM527 471h13v1h-13zM514 563h13v3h-13zM514 566h13v1h-13zM514 567h13v2h-13zM514 569h13v1h-13zM514 570h13v1h-13zM514 571h13v2h-13zM514 573h13v1h-13zM514 574h13v2h-13z"/>
<path fill="#ae3933" d="M540 457h13v2h-13zM579 472h13v1h-13zM630 485h13v1h-13z"/>
<path fill="#ae3633" d="M553 457h13v2h-13z"/>
<path fill="#ab3330" d="M604 457h13v2h-13z"/>
<path fill="#96302d" d="M488 459h13v1h-13z"/>
<path fill="#2d0606" d="M553 459h13v1h-13zM592 461h12v1h-12zM566 477h13v1h-13zM643 498h13v1h-13zM579 512h13v3h-13zM656 516h13v1h-13zM617 520h52v1h-52zM540 526h13v1h-13zM553 526h13v1h-13zM617 540h13v2h-13z"/>
<path fill="#e12a18" d="M501 460h13v1h-13z"/>
<path fill="#db6c69" d="M553 460h13v1h-13zM566 460h13v1h-13zM604 467h13v3h-13zM669 482h13v1h-13z"/>
<path fill="#d86c66" d="M592 460h12v1h-12zM566 478h13v1h-13z"/>
<path fill="#de726f" d="M604 460h13v1h-13z"/>
<path fill="#db6f6c" d="M630 460h13v1h-13zM643 460h13v1h-13zM592 467h12v3h-12zM721 482h13v1h-13z"/>
<path fill="#6f1b1b" d="M475 461h13v1h-13z"/>
<path fill="#300606" d="M540 461h13v1h-13zM579 530h13v1h-13z"/>
<path fill="#330906" d="M553 461h13v1h-13z"/>
<path fill="#510f0c" d="M566 461h13v1h-13z"/>
<path fill="#ea9693" d="M540 462h13v1h-13zM604 482h13v1h-13z"/>
<path fill="#d2635d" d="M553 462h13v1h-13z"/>
<path fill="#c95754" d="M566 462h13v1h-13z"/>
<path fill="#992d2a" d="M630 462h13v1h-13zM617 488h13v1h-13z"/>
<path fill="#8d2724" d="M643 462h13v1h-13z"/>
<path fill="#81211e" d="M656 462h13v1h-13zM643 471h26v1h-26zM656 488h13v1h-13z"/>
<path fill="#b13c36" d="M540 463h13v2h-13zM617 485h13v1h-13z"/>
<path fill="#e78d8a" d="M579 463h13v2h-13zM540 473h13v2h-13zM579 483h13v2h-13z"/>
<path fill="#f6756f" d="M514 465h13v2h-13zM514 467h13v3h-13zM514 470h13v1h-13zM514 471h13v1h-13zM527 636h13v1h-13zM527 637h13v2h-13zM527 639h13v1h-13z"/>
<path fill="#480c0c" d="M553 465h13v2h-13zM604 479h13v3h-13z"/>
<path fill="#2a0606" d="M592 465h38v2h-38zM579 505h13v1h-13zM669 516h13v1h-13zM695 533h13v1h-13zM604 540h13v2h-13zM592 544h12v3h-12z"/>
<path fill="#f69996" d="M488 467h13v3h-13zM501 467h13v3h-13zM488 470h13v1h-13zM501 470h13v1h-13zM488 471h13v1h-13zM501 471h13v1h-13zM488 472h13v1h-13zM501 472h13v1h-13zM540 475h13v2h-13zM540 478h13v1h-13zM540 479h13v3h-13zM514 576h13v1h-13zM514 577h13v2h-13zM514 579h13v1h-13zM514 580h13v2h-13zM514 582h13v2h-13zM514 584h13v2h-13z"/>
<path fill="#c95a57" d="M540 467h13v3h-13z"/>
<path fill="#cf605a" d="M566 467h13v3h-13z"/>
<path fill="#390909" d="M553 471h26v1h-26zM604 472h13v1h-13zM604 500h13v3h-13zM617 503h52v2h-52zM566 505h13v1h-13zM553 508h26v1h-26z"/>
<path fill="#1e0303" d="M579 471h38v1h-38z"/>
<path fill="#691515" d="M617 472h13v1h-13zM553 475h39v2h-39z"/>
<path fill="#932a27" d="M566 473h13v2h-13zM630 488h13v1h-13z"/>
<path fill="#872421" d="M579 473h13v2h-13zM630 473h13v2h-13z"/>
<path fill="#6c1815" d="M604 473h13v2h-13z"/>
<path fill="#d2605d" d="M592 478h12v1h-12z"/>
<path fill="#cc5d5a" d="M604 478h13v1h-13z"/>
<path fill="#c95a54" d="M617 478h13v1h-13z"/>
<path fill="#3c0909" d="M553 479h13v3h-13z"/>
<path fill="#180303" d="M566 479h13v3h-13zM579 508h155v1h-155zM708 533h26v1h-26zM579 577h51v2h-51zM630 577h26v2h-26zM669 593h26v1h-26zM617 613h52v1h-52zM630 616h39v1h-39z"/>
<path fill="#ea9c99" d="M553 482h13v1h-13zM553 493h13v1h-13zM592 498h12v1h-12zM579 529h13v1h-13zM553 537h13v2h-13z"/>
<path fill="#e79390" d="M566 482h13v1h-13zM566 493h13v1h-13zM617 511h13v1h-13zM579 515h13v1h-13zM540 543h13v1h-13zM643 549h13v1h-13z"/>
<path fill="#ed9f9c" d="M592 482h12v1h-12zM566 483h13v2h-13z"/>
<path fill="#e78d8d" d="M617 482h13v1h-13z"/>
<path fill="#e48784" d="M630 482h13v1h-13z"/>
<path fill="#e17e7b" d="M643 482h13v1h-13z"/>
<path fill="#de7572" d="M656 482h13v1h-13zM579 491h13v1h-13z"/>
<path fill="#f6c6c6" d="M540 483h13v2h-13z"/>
<path fill="#f0b4b1" d="M553 483h13v2h-13zM566 523h13v1h-13zM540 590h13v1h-13zM553 619h13v1h-13z"/>
<path fill="#510f0f" d="M592 483h25v2h-25z"/>
<path fill="#a2302d" d="M592 485h12v1h-12zM604 488h13v1h-13z"/>
<path fill="#240303" d="M553 486h13v2h-13z"/>
<path fill="#8a2421" d="M643 488h13v1h-13z"/>
<path fill="#f6abab" d="M488 489h13v2h-13zM488 491h13v1h-13zM488 492h13v1h-13zM488 493h13v1h-13zM488 494h13v2h-13zM488 496h13v2h-13z"/>
<path fill="#f68d87" d="M527 491h13v1h-13zM527 492h13v1h-13zM527 494h13v2h-13zM527 496h13v2h-13zM527 498h13v1h-13zM527 499h13v1h-13z"/>
<path fill="#e1817e" d="M566 491h13v1h-13zM553 543h13v1h-13zM592 549h12v1h-12z"/>
<path fill="#f68781" d="M514 492h13v1h-13zM514 493h13v1h-13zM514 494h13v2h-13zM514 496h13v2h-13zM514 498h13v1h-13zM514 499h13v1h-13zM514 500h13v3h-13zM514 503h13v2h-13zM514 505h13v1h-13zM540 509h13v2h-13zM514 549h13v1h-13zM514 550h13v2h-13zM514 552h13v1h-13zM514 553h13v1h-13zM514 554h13v2h-13zM514 556h13v1h-13zM514 557h13v2h-13zM514 559h13v1h-13zM514 560h13v3h-13z"/>
<path fill="#f0aeab" d="M540 492h13v1h-13zM566 498h13v1h-13zM553 519h13v1h-13zM553 524h13v2h-13zM553 549h13v1h-13zM617 549h13v1h-13z"/>
<path fill="#360909" d="M553 492h13v1h-13zM604 505h13v1h-13zM579 507h13v1h-13zM643 511h13v1h-13zM592 527h12v2h-12zM566 537h13v2h-13z"/>
<path fill="#b14542" d="M527 493h13v1h-13z"/>
<path fill="#eda8a5" d="M540 493h13v1h-13zM566 524h13v2h-13zM604 553h13v1h-13zM566 604h13v1h-13zM604 610h13v1h-13zM540 621h13v2h-13z"/>
<path fill="#e18784" d="M579 493h13v1h-13zM592 515h12v1h-12zM579 519h13v1h-13z"/>
<path fill="#de7b78" d="M592 493h12v1h-12zM604 515h13v1h-13z"/>
<path fill="#cc605d" d="M604 493h13v1h-13zM566 516h13v1h-13zM643 535h91v2h-91z"/>
<path fill="#c05451" d="M617 493h13v1h-13zM592 494h12v2h-12zM579 499h13v1h-13zM553 509h13v2h-13zM604 531h13v1h-13zM643 539h13v1h-13z"/>
<path fill="#b74b45" d="M630 493h13v1h-13zM604 506h13v1h-13z"/>
<path fill="#d86f6c" d="M540 494h13v2h-13zM617 515h13v1h-13zM579 542h13v1h-13zM566 543h13v1h-13z"/>
<path fill="#d26966" d="M553 494h13v2h-13zM604 542h13v1h-13z"/>
<path fill="#cc635d" d="M566 494h13v2h-13zM540 512h13v3h-13z"/>
<path fill="#c65a57" d="M579 494h13v2h-13zM553 499h13v1h-13zM604 533h13v1h-13zM630 539h13v1h-13zM617 542h13v1h-13z"/>
<path fill="#ba4b48" d="M604 494h13v2h-13zM617 533h13v1h-13z"/>
<path fill="#b44542" d="M617 494h13v2h-13zM604 499h13v1h-13zM553 521h13v2h-13zM617 531h13v1h-13zM566 547h13v2h-13z"/>
<path fill="#ae3f3c" d="M630 494h13v2h-13zM630 499h13v1h-13zM656 529h13v1h-13zM630 533h13v1h-13zM566 544h13v3h-13zM579 547h13v2h-13z"/>
<path fill="#7b211e" d="M643 494h13v2h-13z"/>
<path fill="#721e1b" d="M656 494h13v2h-13z"/>
<path fill="#b1453f" d="M540 496h13v2h-13z"/>
<path fill="#842724" d="M553 496h13v2h-13z"/>
<path fill="#812421" d="M566 496h13v2h-13zM579 496h13v2h-13z"/>
<path fill="#270606" d="M592 496h12v2h-12zM617 547h13v2h-13zM553 560h13v3h-13zM553 609h13v1h-13z"/>
<path fill="#420c0c" d="M604 496h13v2h-13zM566 500h13v3h-13zM592 505h12v1h-12zM566 526h38v1h-38zM553 527h13v2h-13zM656 533h13v1h-13z"/>
<path fill="#f9b1ae" d="M488 498h13v1h-13zM488 499h13v1h-13zM488 500h13v3h-13zM488 503h13v2h-13zM488 505h13v1h-13zM488 506h13v1h-13zM488 507h13v1h-13zM488 508h13v1h-13zM488 509h13v2h-13zM488 511h13v1h-13z"/>
<path fill="#f6c9c9" d="M540 498h13v1h-13zM540 505h13v1h-13zM566 511h13v1h-13z"/>
<path fill="#ea9f9c" d="M579 498h13v1h-13zM566 515h13v1h-13zM579 523h13v1h-13zM579 524h13v2h-13zM566 619h13v1h-13zM553 621h13v2h-13zM553 632h13v1h-13z"/>
<path fill="#e4908d" d="M604 498h13v1h-13zM540 506h13v1h-13zM592 529h12v1h-12zM566 553h13v1h-13zM553 628h13v3h-13z"/>
<path fill="#de817e" d="M617 498h13v1h-13zM656 515h13v1h-13zM566 533h13v1h-13z"/>
<path fill="#d8726f" d="M630 498h13v1h-13zM592 519h12v1h-12z"/>
<path fill="#c35754" d="M566 499h13v1h-13zM592 506h12v1h-12zM630 529h13v1h-13z"/>
<path fill="#b44845" d="M592 499h12v1h-12zM527 579h13v1h-13z"/>
<path fill="#b1423f" d="M617 499h13v1h-13zM566 531h13v1h-13zM514 532h13v1h-13zM553 544h13v3h-13zM643 552h13v1h-13z"/>
<path fill="#ae3c39" d="M643 499h13v1h-13z"/>
<path fill="#b74845" d="M656 499h13v1h-13zM553 507h13v1h-13zM566 507h13v1h-13zM630 552h13v1h-13z"/>
<path fill="#6c1b18" d="M553 500h13v3h-13zM566 521h13v2h-13zM592 524h12v2h-12zM604 537h13v2h-13z"/>
<path fill="#480f0f" d="M579 500h13v3h-13zM592 554h12v2h-12zM682 563h13v3h-13zM604 580h13v2h-13z"/>
<path fill="#330909" d="M592 500h12v3h-12zM553 503h64v2h-64zM669 506h13v1h-13zM617 595h13v3h-13zM604 608h13v1h-13zM540 611h52v2h-52zM721 621h13v2h-13z"/>
<path fill="#781e1e" d="M527 505h13v1h-13z"/>
<path fill="#f3bdbd" d="M553 505h13v1h-13z"/>
<path fill="#db7572" d="M566 506h13v1h-13zM553 516h13v1h-13zM553 531h13v1h-13zM579 531h13v1h-13zM579 533h13v1h-13zM592 539h12v1h-12zM592 542h12v1h-12z"/>
<path fill="#cf6663" d="M579 506h13v1h-13zM592 531h12v1h-12zM592 533h12v1h-12zM566 540h13v2h-13z"/>
<path fill="#a53633" d="M617 506h13v1h-13zM630 519h13v1h-13zM604 552h13v1h-13z"/>
<path fill="#932d2a" d="M630 506h13v1h-13z"/>
<path fill="#691815" d="M643 506h13v1h-13zM643 542h13v1h-13z"/>
<path fill="#300909" d="M656 506h13v1h-13zM566 557h13v2h-13zM695 563h13v3h-13zM579 584h13v2h-13zM592 584h12v2h-12zM592 608h12v1h-12zM604 611h13v2h-13zM540 642h26v1h-26z"/>
<path fill="#b74b48" d="M540 507h13v1h-13zM617 519h13v1h-13zM643 529h13v1h-13zM566 530h13v1h-13z"/>
<path fill="#3f0c0c" d="M592 507h12v1h-12zM669 511h13v1h-13zM630 516h13v1h-13zM656 563h13v3h-13zM643 569h13v1h-13z"/>
<path fill="#4e0f0f" d="M540 508h13v1h-13zM592 509h12v2h-12zM656 519h13v1h-13zM604 524h13v2h-13zM669 533h13v1h-13zM553 534h13v1h-13z"/>
<path fill="#480f0c" d="M566 509h13v2h-13z"/>
<path fill="#541212" d="M604 509h13v2h-13zM579 540h13v2h-13z"/>
<path fill="#eda29f" d="M604 511h13v1h-13zM540 524h13v2h-13z"/>
<path fill="#300906" d="M656 511h13v1h-13z"/>
<path fill="#661815" d="M553 512h13v3h-13z"/>
<path fill="#631515" d="M566 512h13v3h-13zM604 530h13v1h-13z"/>
<path fill="#e48d8a" d="M553 515h13v1h-13zM592 523h12v1h-12zM553 533h13v1h-13zM579 549h13v1h-13z"/>
<path fill="#cf6360" d="M630 515h13v1h-13zM540 517h13v2h-13z"/>
<path fill="#e48a87" d="M643 515h13v1h-13z"/>
<path fill="#e18a87" d="M540 516h13v1h-13zM656 549h13v1h-13zM617 594h13v1h-13z"/>
<path fill="#a53933" d="M579 516h13v1h-13z"/>
<path fill="#8d2a27" d="M592 516h12v1h-12zM604 539h13v1h-13z"/>
<path fill="#751e1b" d="M604 516h13v1h-13z"/>
<path fill="#5a1212" d="M617 516h13v1h-13zM579 535h64v2h-64z"/>
<path fill="#54120f" d="M643 516h13v1h-13z"/>
<path fill="#f3c3c0" d="M540 519h13v1h-13zM579 553h13v1h-13zM553 600h13v2h-13z"/>
<path fill="#ea9996" d="M566 519h13v1h-13z"/>
<path fill="#c9605d" d="M604 519h13v1h-13z"/>
<path fill="#6c1818" d="M643 519h13v1h-13z"/>
<path fill="#f67b75" d="M527 520h13v1h-13zM527 521h13v2h-13zM527 523h13v1h-13zM527 524h13v2h-13zM527 526h13v1h-13z"/>
<path fill="#5d1512" d="M553 520h26v1h-26z"/>
<path fill="#390c09" d="M579 520h13v1h-13zM592 540h12v2h-12z"/>
<path fill="#450f0c" d="M592 520h25v1h-25z"/>
<path fill="#691818" d="M579 521h13v2h-13z"/>
<path fill="#f3c6c6" d="M553 523h13v1h-13zM553 566h13v1h-13zM540 593h13v1h-13zM540 619h13v1h-13z"/>
<path fill="#db7875" d="M604 523h13v1h-13zM540 532h13v1h-13z"/>
<path fill="#cc6360" d="M617 523h13v1h-13zM617 529h13v1h-13z"/>
<path fill="#ba4e4b" d="M630 523h13v1h-13zM630 542h13v1h-13zM617 552h13v1h-13z"/>
<path fill="#902d2a" d="M656 523h13v1h-13zM579 552h13v1h-13z"/>
<path fill="#240606" d="M617 524h13v2h-13zM592 595h12v3h-12zM592 605h12v2h-12z"/>
<path fill="#4b0f0f" d="M604 526h65v1h-65z"/>
<path fill="#601515" d="M540 527h13v2h-13zM604 527h13v2h-13zM579 537h13v2h-13z"/>
<path fill="#210606" d="M566 527h26v2h-26z"/>
<path fill="#51120f" d="M617 527h13v2h-13zM630 547h13v2h-13z"/>
<path fill="#f3bdba" d="M540 529h13v1h-13z"/>
<path fill="#eda5a5" d="M566 529h13v1h-13zM553 557h13v2h-13z"/>
<path fill="#571212" d="M592 530h12v1h-12z"/>
<path fill="#601512" d="M617 530h13v1h-13zM540 535h39v2h-39zM656 542h13v1h-13z"/>
<path fill="#e18484" d="M540 531h13v1h-13z"/>
<path fill="#a23633" d="M630 531h13v1h-13zM604 547h13v2h-13z"/>
<path fill="#932d2d" d="M656 531h13v1h-13z"/>
<path fill="#9f3330" d="M643 533h13v1h-13z"/>
<path fill="#3c0c09" d="M682 533h13v1h-13z"/>
<path fill="#d8726c" d="M566 539h13v1h-13z"/>
<path fill="#d56c69" d="M579 539h13v1h-13zM553 540h13v2h-13z"/>
<path fill="#872724" d="M617 539h13v1h-13z"/>
<path fill="#d56f6c" d="M656 539h13v1h-13z"/>
<path fill="#f3c3c3" d="M553 542h13v1h-13z"/>
<path fill="#de7e7b" d="M566 542h13v1h-13z"/>
<path fill="#c65d5a" d="M579 543h13v1h-13z"/>
<path fill="#ab3936" d="M579 544h13v3h-13zM592 547h12v2h-12z"/>
<path fill="#bd4e4b" d="M553 547h13v2h-13z"/>
<path fill="#e79696" d="M566 549h13v1h-13z"/>
<path fill="#f0b7b7" d="M604 549h13v1h-13zM540 639h13v1h-13z"/>
<path fill="#e79996" d="M540 550h13v2h-13zM553 553h13v1h-13zM592 619h12v1h-12zM540 628h13v3h-13z"/>
<path fill="#ab3c39" d="M553 552h13v1h-13zM656 552h13v1h-13z"/>
<path fill="#99302d" d="M566 552h13v1h-13z"/>
<path fill="#8a2a27" d="M592 552h12v1h-12z"/>
<path fill="#eaa29f" d="M540 553h13v1h-13zM579 566h13v1h-13zM553 567h13v2h-13zM540 591h13v2h-13zM669 594h13v1h-13z"/>
<path fill="#edaeae" d="M592 553h12v1h-12zM540 560h13v3h-13zM553 610h13v1h-13zM592 610h12v1h-12z"/>
<path fill="#f0baba" d="M617 553h26v1h-26zM630 594h26v1h-26z"/>
<path fill="#f0b4b4" d="M643 553h13v1h-13zM566 566h13v1h-13z"/>
<path fill="#edabab" d="M656 553h13v1h-13z"/>
<path fill="#cf6966" d="M553 554h13v2h-13zM617 566h13v1h-13zM630 619h13v1h-13zM604 636h13v1h-13z"/>
<path fill="#c96360" d="M566 554h13v2h-13zM643 559h13v1h-13zM682 602h13v1h-13zM592 603h12v1h-12zM656 610h13v1h-13zM592 632h12v1h-12zM604 633h13v1h-13zM617 636h13v1h-13zM592 643h12v0.5h-12z"/>
<path fill="#c35d5a" d="M579 554h13v2h-13zM643 625h13v3h-13zM630 636h13v1h-13z"/>
<path fill="#541512" d="M553 556h13v1h-13zM540 574h13v2h-13zM643 579h13v1h-13zM604 584h13v2h-13zM579 600h13v2h-13zM540 631h13v1h-13zM592 637h12v2h-12z"/>
<path fill="#872a2a" d="M566 556h26v1h-26z"/>
<path fill="#6f1e1e" d="M592 556h12v1h-12zM656 570h13v1h-13zM669 604h13v1h-13z"/>
<path fill="#a83c39" d="M604 556h39v1h-39zM630 590h13v1h-13zM579 620h13v1h-13z"/>
<path fill="#72211e" d="M643 556h26v1h-26zM721 566h13v1h-13zM617 570h39v1h-39zM721 576h13v1h-13zM643 586h13v1h-13zM656 604h13v1h-13zM643 632h13v1h-13z"/>
<path fill="#420f0f" d="M579 557h13v2h-13zM553 580h39v2h-39zM656 591h13v2h-13zM566 600h13v2h-13zM553 631h13v1h-13z"/>
<path fill="#390c0c" d="M592 557h12v2h-12zM566 574h13v2h-13zM540 577h39v2h-39zM656 579h13v1h-13zM656 607h13v1h-13zM540 616h13v1h-13zM592 623h12v2h-12z"/>
<path fill="#d26c69" d="M566 559h13v1h-13zM592 586h12v1h-12z"/>
<path fill="#cc6966" d="M579 559h13v1h-13zM630 563h13v3h-13zM566 593h13v1h-13zM617 603h13v1h-13zM553 623h13v2h-13zM592 625h12v3h-12zM540 640h13v2h-13z"/>
<path fill="#c96663" d="M592 559h12v1h-12zM540 609h13v1h-13z"/>
<path fill="#bd5754" d="M604 559h13v1h-13zM630 566h13v1h-13zM592 593h12v1h-12zM566 602h13v1h-13zM540 607h13v1h-13zM604 639h13v1h-13zM630 643h13v0.5h-13z"/>
<path fill="#ba514e" d="M617 559h13v1h-13zM617 586h13v1h-13z"/>
<path fill="#b74e4b" d="M630 559h13v1h-13zM643 576h39v1h-39zM604 593h13v1h-13zM604 632h13v1h-13z"/>
<path fill="#c3605d" d="M656 559h13v1h-13z"/>
<path fill="#691b18" d="M566 560h13v3h-13zM579 598h13v2h-13z"/>
<path fill="#4e1212" d="M579 560h13v3h-13zM553 576h26v1h-26zM617 607h13v1h-13z"/>
<path fill="#d87572" d="M553 563h13v3h-13zM566 563h13v3h-13zM592 579h12v1h-12zM643 602h13v1h-13zM604 603h13v1h-13zM643 603h13v1h-13zM630 610h13v1h-13z"/>
<path fill="#d5726f" d="M579 563h13v3h-13zM579 591h13v2h-13zM553 593h13v1h-13zM579 613h13v1h-13zM553 625h13v3h-13zM553 633h13v1h-13zM592 636h12v1h-12z"/>
<path fill="#d26f6c" d="M592 563h12v3h-12zM604 563h13v3h-13zM579 603h13v1h-13zM592 621h12v2h-12zM540 623h13v2h-13zM566 625h13v3h-13zM566 633h13v1h-13zM579 643h13v0.5h-13z"/>
<path fill="#cf6c69" d="M617 563h13v3h-13zM592 573h12v1h-12zM643 610h13v1h-13zM579 625h13v3h-13zM579 633h13v1h-13zM592 639h12v1h-12zM604 643h13v0.5h-13z"/>
<path fill="#cc6663" d="M643 563h13v3h-13zM592 567h12v2h-12zM669 602h13v1h-13zM604 621h13v2h-13zM592 633h12v1h-12zM553 640h13v2h-13z"/>
<path fill="#691b1b" d="M669 563h13v3h-13zM682 569h13v1h-13zM579 607h13v1h-13zM630 617h39v2h-39zM592 620h12v1h-12z"/>
<path fill="#e1908d" d="M592 566h12v1h-12zM566 567h13v2h-13z"/>
<path fill="#db7e7b" d="M604 566h13v1h-13zM566 595h13v3h-13zM617 610h13v1h-13zM566 636h13v1h-13zM579 639h13v1h-13z"/>
<path fill="#b14845" d="M643 566h13v1h-13zM540 602h13v1h-13z"/>
<path fill="#9c3636" d="M656 566h13v1h-13z"/>
<path fill="#90302d" d="M669 566h13v1h-13z"/>
<path fill="#782421" d="M682 566h13v1h-13zM604 582h65v2h-65zM553 607h13v1h-13zM566 642h13v1h-13z"/>
<path fill="#a53c39" d="M695 566h13v1h-13zM604 590h13v1h-13zM617 632h13v1h-13z"/>
<path fill="#8a2d2a" d="M708 566h13v1h-13z"/>
<path fill="#db7b78" d="M579 567h13v2h-13zM617 576h26v1h-26zM579 586h13v1h-13zM579 595h13v3h-13zM579 610h13v1h-13z"/>
<path fill="#ba5451" d="M604 567h13v2h-13zM579 602h13v1h-13z"/>
<path fill="#ab423f" d="M617 567h13v2h-13zM553 620h13v1h-13zM617 639h13v1h-13z"/>
<path fill="#933330" d="M630 567h13v2h-13z"/>
<path fill="#7b2724" d="M643 567h13v2h-13zM643 633h13v1h-13z"/>
<path fill="#661b18" d="M656 567h13v2h-13zM553 582h51v2h-51zM566 614h13v2h-13z"/>
<path fill="#5a1515" d="M553 569h51v1h-51zM617 580h13v2h-13z"/>
<path fill="#963333" d="M604 569h13v1h-13zM617 590h13v1h-13z"/>
<path fill="#571512" d="M617 569h26v1h-26zM682 621h13v2h-13z"/>
<path fill="#571515" d="M656 569h13v1h-13zM553 598h13v2h-13zM604 607h13v1h-13zM604 620h13v1h-13zM656 632h13v1h-13zM656 639h13v1h-13zM579 642h13v1h-13z"/>
<path fill="#2d0909" d="M669 569h13v1h-13zM566 598h13v2h-13zM592 611h12v2h-12zM540 634h13v2h-13z"/>
<path fill="#f9d8d8" d="M527 570h13v1h-13zM527 571h13v2h-13zM527 573h13v1h-13zM527 574h13v2h-13zM527 576h13v1h-13zM527 577h13v2h-13zM488 590h13v1h-13zM488 591h13v2h-13zM488 593h13v1h-13zM488 594h13v1h-13zM488 595h13v3h-13zM488 598h13v2h-13zM501 620h13v1h-13zM501 621h13v2h-13zM501 623h13v2h-13zM501 625h13v3h-13zM501 628h13v3h-13zM501 631h13v1h-13zM501 632h13v1h-13zM501 633h13v1h-13zM501 634h13v2h-13zM501 636h13v1h-13zM501 637h13v2h-13zM501 639h13v1h-13zM501 640h13v2h-13zM501 642h13v1h-13zM501 643h13v0.5h-13z"/>
<path fill="#f67e78" d="M540 570h13v1h-13zM540 573h13v1h-13zM540 576h13v1h-13zM540 579h13v1h-13z"/>
<path fill="#3f0f0c" d="M553 570h64v1h-64zM592 614h12v2h-12zM708 621h13v2h-13z"/>
<path fill="#e49390" d="M540 571h13v2h-13zM553 591h13v2h-13zM540 598h13v2h-13zM566 639h13v1h-13z"/>
<path fill="#631818" d="M553 571h13v2h-13zM669 591h13v2h-13zM656 619h13v1h-13z"/>
<path fill="#48120f" d="M566 571h13v2h-13zM566 605h26v2h-26z"/>
<path fill="#5d1515" d="M579 571h13v2h-13zM669 621h13v2h-13z"/>
<path fill="#e49693" d="M553 573h13v1h-13zM604 594h13v1h-13zM566 640h13v2h-13zM579 640h13v2h-13z"/>
<path fill="#de8784" d="M566 573h13v1h-13zM579 579h13v1h-13zM566 586h13v1h-13zM566 610h13v1h-13zM566 613h13v1h-13zM604 619h13v1h-13zM604 625h13v3h-13zM566 628h13v3h-13zM553 636h13v1h-13z"/>
<path fill="#d87875" d="M579 573h13v1h-13zM579 590h13v1h-13zM630 602h13v1h-13zM579 621h13v2h-13zM540 625h13v3h-13zM579 632h13v1h-13zM579 636h13v1h-13zM566 643h13v0.5h-13z"/>
<path fill="#a83f3c" d="M604 573h13v1h-13zM617 591h13v2h-13zM566 620h13v1h-13zM553 637h13v2h-13z"/>
<path fill="#ae4542" d="M617 573h13v1h-13zM553 574h13v2h-13zM592 590h12v1h-12zM553 602h13v1h-13zM592 604h12v1h-12z"/>
<path fill="#9f3936" d="M630 573h13v1h-13zM656 602h13v1h-13zM604 604h13v1h-13z"/>
<path fill="#8d302d" d="M643 573h13v1h-13zM656 590h13v1h-13zM617 604h13v1h-13zM643 639h13v1h-13z"/>
<path fill="#7b2424" d="M656 573h13v1h-13zM630 621h13v2h-13z"/>
<path fill="#661818" d="M579 574h13v2h-13z"/>
<path fill="#1e0606" d="M579 576h13v1h-13zM656 593h13v1h-13z"/>
<path fill="#450f0f" d="M592 576h12v1h-12zM643 593h13v1h-13zM656 603h13v1h-13zM630 607h13v1h-13zM592 616h38v1h-38z"/>
<path fill="#5d1815" d="M604 576h13v1h-13zM656 577h13v2h-13zM592 580h12v2h-12zM617 593h13v1h-13zM604 605h13v2h-13zM566 631h13v1h-13z"/>
<path fill="#a23936" d="M682 576h39v1h-39z"/>
<path fill="#edaeab" d="M553 579h13v1h-13zM656 594h13v1h-13zM566 608h13v1h-13zM579 619h13v1h-13z"/>
<path fill="#e79999" d="M566 579h13v1h-13z"/>
<path fill="#c6605d" d="M604 579h13v1h-13zM604 586h13v1h-13zM592 591h12v2h-12zM579 593h13v1h-13zM566 623h13v2h-13zM630 625h13v3h-13zM617 633h13v1h-13zM617 643h13v0.5h-13z"/>
<path fill="#b44e4b" d="M617 579h13v1h-13zM630 586h13v1h-13zM682 604h13v1h-13zM656 636h13v1h-13z"/>
<path fill="#6c1e1b" d="M630 579h13v1h-13zM643 604h13v1h-13zM579 614h13v2h-13zM656 643h13v0.5h-13z"/>
<path fill="#f6a2a2" d="M501 584h13v2h-13zM501 586h13v1h-13zM501 587h13v3h-13z"/>
<path fill="#4b1212" d="M540 584h39v2h-39z"/>
<path fill="#e49393" d="M553 586h13v1h-13z"/>
<path fill="#601815" d="M656 586h13v1h-13zM617 605h13v2h-13zM592 607h12v1h-12zM553 634h13v2h-13zM566 634h13v2h-13zM579 637h13v2h-13z"/>
<path fill="#b44b48" d="M540 587h13v3h-13zM604 602h13v1h-13zM643 643h13v0.5h-13z"/>
<path fill="#edaba8" d="M553 590h13v1h-13zM553 594h13v1h-13z"/>
<path fill="#ea9f9f" d="M566 590h13v1h-13z"/>
<path fill="#993633" d="M643 590h13v1h-13z"/>
<path fill="#db817e" d="M566 591h13v2h-13zM566 621h13v2h-13z"/>
<path fill="#b7514e" d="M604 591h13v2h-13zM592 602h12v1h-12zM553 617h26v2h-26zM617 619h13v1h-13zM592 642h77v1h-77z"/>
<path fill="#963330" d="M630 591h13v2h-13zM630 639h13v1h-13z"/>
<path fill="#812a27" d="M643 591h13v2h-13z"/>
<path fill="#511212" d="M630 593h13v1h-13zM604 595h13v3h-13zM579 628h13v3h-13z"/>
<path fill="#f0b7b4" d="M540 594h13v1h-13zM553 604h13v1h-13zM579 608h13v1h-13z"/>
<path fill="#f0bdba" d="M566 594h13v1h-13z"/>
<path fill="#edb1ae" d="M579 594h13v1h-13zM540 613h13v1h-13z"/>
<path fill="#eaa5a2" d="M592 594h12v1h-12zM553 639h13v1h-13z"/>
<path fill="#e18a8a" d="M682 594h13v1h-13z"/>
<path fill="#de8481" d="M553 595h13v3h-13zM617 625h13v3h-13zM553 643h13v0.5h-13z"/>
<path fill="#f67b78" d="M540 600h13v2h-13zM540 603h13v1h-13zM540 604h13v1h-13zM540 605h13v2h-13z"/>
<path fill="#bd5451" d="M617 602h13v1h-13zM643 619h13v1h-13zM643 636h13v1h-13z"/>
<path fill="#e18d8a" d="M553 603h13v1h-13zM566 632h13v1h-13zM540 643h13v0.5h-13z"/>
<path fill="#db7b7b" d="M566 603h13v1h-13z"/>
<path fill="#c05a57" d="M630 603h13v1h-13zM579 623h13v2h-13zM630 633h13v1h-13z"/>
<path fill="#e79c99" d="M579 604h13v1h-13zM553 613h13v1h-13z"/>
<path fill="#7e2724" d="M630 604h13v1h-13zM656 621h13v2h-13z"/>
<path fill="#f36c63" d="M553 605h13v2h-13z"/>
<path fill="#6f211e" d="M566 607h13v1h-13zM643 621h13v2h-13z"/>
<path fill="#3c0c0c" d="M643 607h13v1h-13zM579 617h13v2h-13zM592 617h38v2h-38z"/>
<path fill="#f0bab7" d="M553 608h13v1h-13z"/>
<path fill="#903030" d="M592 613h12v1h-12z"/>
<path fill="#752421" d="M604 613h13v1h-13z"/>
<path fill="#c66360" d="M553 614h13v2h-13z"/>
<path fill="#4b120f" d="M553 616h39v1h-39zM695 621h13v2h-13z"/>
<path fill="#842a27" d="M617 621h13v2h-13z"/>
<path fill="#7e2727" d="M656 625h13v3h-13zM656 633h13v1h-13z"/>
<path fill="#8a2d2d" d="M630 632h13v1h-13z"/>
<path fill="#2a0909" d="M566 637h13v2h-13z"/>
<path fill="#f36960" d="M527 640h13v2h-13zM527 642h13v1h-13zM527 643h13v0.5h-13z"/>
</g>
<!-- column labels -->
<g font-size="8.2" fill="#222">
<text transform="translate(468.50 669) rotate(-90)">F01</text>
<text transform="translate(481.43 669) rotate(-90)">F02</text>
<text transform="translate(494.36 669) rotate(-90)">F03</text>
<text transform="translate(507.29 669) rotate(-90)">F04</text>
<text transform="translate(520.22 669) rotate(-90)">F05</text>
<text transform="translate(533.15 669) rotate(-90)">F06</text>
<text transform="translate(546.08 669) rotate(-90)">F07</text>
<text transform="translate(559.01 669) rotate(-90)">F08</text>
<text transform="translate(571.94 669) rotate(-90)">F09</text>
<text transform="translate(584.87 669) rotate(-90)">F10</text>
<text transform="translate(597.80 669) rotate(-90)">F11</text>
<text transform="translate(610.73 669) rotate(-90)">F12</text>
<text transform="translate(623.66 669) rotate(-90)">F13</text>
<text transform="translate(636.59 669) rotate(-90)">F14</text>
<text transform="translate(649.52 669) rotate(-90)">F15</text>
<text transform="translate(662.45 669) rotate(-90)">F16</text>
<text transform="translate(675.38 669) rotate(-90)">F17</text>
<text transform="translate(688.31 669) rotate(-90)">F18</text>
<text transform="translate(701.24 669) rotate(-90)">F19</text>
<text transform="translate(714.17 669) rotate(-90)">F20</text>
<text transform="translate(727.10 669) rotate(-90)">F21</text>
</g>
<!-- brackets -->
<path d="M747 80.3 L758 80.3 Q760.7 80.6 760.7 83.5 L760.7 224.5 Q761 226.7 763.5 226.7 L774 226.7 M763.5 226.7 Q761 227 760.7 229 L760.7 369.5 Q760.6 372 758 372.2 L747.3 373" fill="none" stroke="#9b5a3e" stroke-width="1.8"/>
<path d="M748.2 399.7 L758.5 400 Q761.5 400.4 761.5 403.5 L761.5 512 Q761.8 514.4 764.5 514.4 L774.6 514.4 M764.5 514.4 Q761.8 514.8 761.5 517 L761.5 626 Q761.4 628.6 758.5 628.8 L748.5 629.2" fill="none" stroke="#34526b" stroke-width="1.8"/>
<!-- title -->
<text x="1081" y="74.7" font-size="26" font-weight="bold" fill="#000">Differences in the outcome of fasting</text>
<!-- red box -->
<rect x="790.5" y="105.5" width="757" height="239" fill="#fbe9ea" stroke="#8e1c20" stroke-width="3"/>
<g font-size="29.9" font-weight="bold" fill="#a5191f" text-anchor="middle">
<text x="925.5" y="202.9">Low levels of</text>
<text x="925.5" y="238.5">ketones during</text>
<text x="925.5" y="274.1">fasting</text>
</g>
<g font-size="30" fill="#94201f">
<text x="1179.4" y="164.7">Body weight, waist circ.</text>
<text x="1179.4" y="234.4">Glucose, HbA1c</text>
<text x="1179.4" y="304">Uric acid</text>
</g>
<!-- blue box -->
<rect x="790.5" y="395.5" width="757" height="239" fill="#eaf2fa" stroke="#2f6389" stroke-width="3"/>
<g font-size="29.9" font-weight="bold" fill="#1f6bab" text-anchor="middle">
<text x="925.5" y="487.9">High levels of</text>
<text x="925.5" y="523.5">ketones during</text>
<text x="925.5" y="559.1">fasting</text>
</g>
<g font-size="30" fill="#2b6893">
<text x="1179.4" y="448">Body weight, waist circ.</text>
<text x="1179.4" y="518.7">Glucose, HbA1c</text>
<text x="1179.4" y="588.7">Uric acid</text>
</g>
<!-- arrows -->
<defs>
<path id="rdn" d="M-7.15 0 L7.15 0 L7.15 33.4 L13.8 33.4 L0 47.2 L-13.8 33.4 L-7.15 33.4 Z"/>
<path id="rup" d="M0 0 L13.8 13.8 L7.15 13.8 L7.15 47.2 L-7.15 47.2 L-7.15 13.8 L-13.8 13.8 Z"/>
<path id="bdn" d="M-6.8 0 L6.8 0 L6.8 33.8 L13.1 33.8 L0 46.9 L-13.1 33.8 L-6.8 33.8 Z"/>
<path id="bup" d="M0 0 L13.1 13.1 L6.8 13.1 L6.8 46.9 L-6.8 46.9 L-6.8 13.1 L-13.1 13.1 Z"/>
</defs>
<g fill="#c00000" stroke="#1c1418" stroke-width="2.4" stroke-linejoin="miter" stroke-miterlimit="6">
<use href="#rdn" x="1121" y="133.2"/>
<use href="#rdn" x="1121" y="200.3"/>
<use href="#rup" x="1121" y="271.4"/>
</g>
<g fill="#1e5f8a" stroke="#0b2a40" stroke-width="2.4" stroke-linejoin="miter" stroke-miterlimit="6">
<use href="#bdn" x="1087.5" y="420.3"/>
<use href="#bdn" x="1119.8" y="419.4"/>
<use href="#bdn" x="1150.8" y="420.3"/>
<use href="#bdn" x="1087.5" y="487.6"/>
<use href="#bdn" x="1119.8" y="487.6"/>
<use href="#bdn" x="1150.8" y="488.5"/>
<use href="#bup" x="1087.5" y="558.7"/>
<use href="#bup" x="1119.8" y="558.3"/>
<use href="#bup" x="1150.8" y="559.8"/>
</g>
</svg>
</body></html>
